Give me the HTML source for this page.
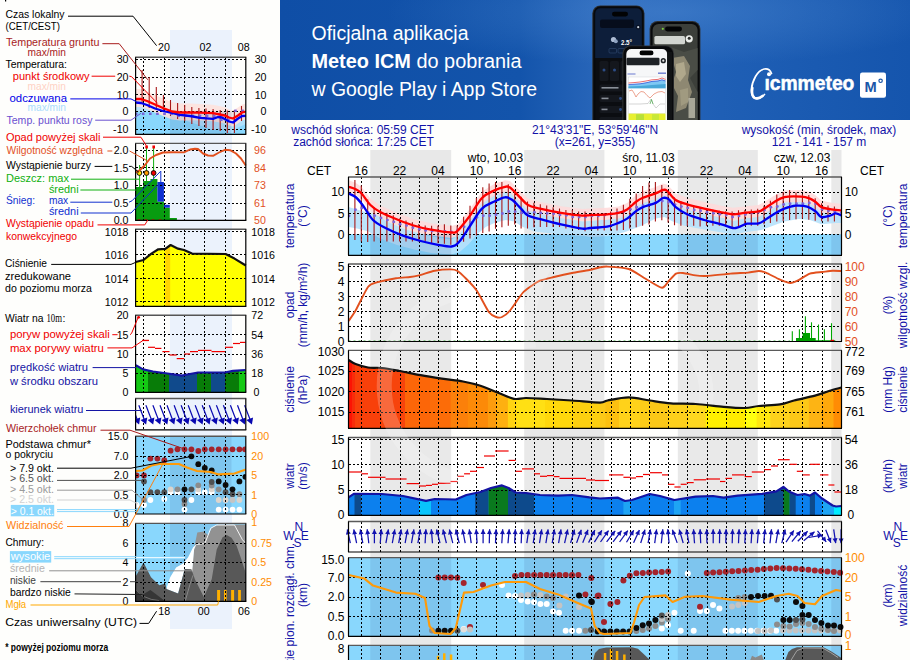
<!DOCTYPE html><html><head><meta charset="utf-8"><title>Meteogram</title><style>html,body{margin:0;padding:0;background:#fefefc;}body{width:910px;height:660px;overflow:hidden;}svg{display:block;font-family:"Liberation Sans",sans-serif;}</style></head><body>
<svg width="910" height="660" viewBox="0 0 910 660">
<rect x="0.0" y="0.0" width="910.0" height="660.0" fill="#fefefc"/>
<rect x="370.3" y="150.0" width="80.9" height="520.0" fill="#e8e8e8"/>
<rect x="524.2" y="150.0" width="80.2" height="520.0" fill="#e8e8e8"/>
<rect x="677.8" y="150.0" width="80.0" height="520.0" fill="#e8e8e8"/>
<rect x="831.3" y="150.0" width="10.2" height="520.0" fill="#e8e8e8"/>
<text x="362.7" y="133.8" font-size="12" fill="#1212a8" text-anchor="middle" >wschód słońca: 05:59 CET</text>
<text x="363.5" y="146.1" font-size="12" fill="#1212a8" text-anchor="middle" >zachód słońca: 17:25 CET</text>
<text x="595.0" y="133.8" font-size="12" fill="#1212a8" text-anchor="middle" >21°43'31"E, 53°59'46"N</text>
<text x="595.0" y="146.1" font-size="12" fill="#1212a8" text-anchor="middle" >(x=261,  y=355)</text>
<text x="819.0" y="133.8" font-size="12" fill="#1212a8" text-anchor="middle" >wysokość (min, środek, max)</text>
<text x="819.0" y="146.1" font-size="12" fill="#1212a8" text-anchor="middle" >121 - 141 - 157 m</text>
<text x="319.0" y="175.0" font-size="12" fill="#000" text-anchor="middle" >CET</text>
<text x="872.0" y="175.0" font-size="12" fill="#000" text-anchor="middle" >CET</text>
<text x="361.3" y="175.0" font-size="12" fill="#000" text-anchor="middle" >16</text>
<text x="399.6" y="175.0" font-size="12" fill="#000" text-anchor="middle" >22</text>
<text x="438.0" y="175.0" font-size="12" fill="#000" text-anchor="middle" >04</text>
<text x="476.4" y="175.0" font-size="12" fill="#000" text-anchor="middle" >10</text>
<text x="514.7" y="175.0" font-size="12" fill="#000" text-anchor="middle" >16</text>
<text x="553.1" y="175.0" font-size="12" fill="#000" text-anchor="middle" >22</text>
<text x="591.4" y="175.0" font-size="12" fill="#000" text-anchor="middle" >04</text>
<text x="629.8" y="175.0" font-size="12" fill="#000" text-anchor="middle" >10</text>
<text x="668.1" y="175.0" font-size="12" fill="#000" text-anchor="middle" >16</text>
<text x="706.5" y="175.0" font-size="12" fill="#000" text-anchor="middle" >22</text>
<text x="744.9" y="175.0" font-size="12" fill="#000" text-anchor="middle" >04</text>
<text x="783.2" y="175.0" font-size="12" fill="#000" text-anchor="middle" >10</text>
<text x="821.6" y="175.0" font-size="12" fill="#000" text-anchor="middle" >16</text>
<text x="495.5" y="162.0" font-size="12" fill="#000" text-anchor="middle" >wto, 10.03</text>
<text x="648.5" y="162.0" font-size="12" fill="#000" text-anchor="middle" >śro, 11.03</text>
<text x="802.0" y="162.0" font-size="12" fill="#000" text-anchor="middle" >czw, 12.03</text>
<rect x="348.5" y="177.0" width="493.0" height="78.3" fill="#fff"/>
<rect x="370.3" y="177.0" width="80.9" height="78.3" fill="rgba(0,0,0,0.085)"/>
<rect x="524.2" y="177.0" width="80.2" height="78.3" fill="rgba(0,0,0,0.085)"/>
<rect x="677.8" y="177.0" width="80.0" height="78.3" fill="rgba(0,0,0,0.085)"/>
<rect x="831.3" y="177.0" width="10.2" height="78.3" fill="rgba(0,0,0,0.085)"/>
<clipPath id="ct"><rect x="348.5" y="177" width="493.0" height="78.30000000000001"/></clipPath><g clip-path="url(#ct)">
<rect x="348.5" y="234.2" width="493.0" height="21.1" fill="#89d7fd"/>
<polygon points="348.6,207.0 368.6,213.0 380.0,216.0 385.5,221.0 403.0,228.6 420.7,234.0 438.0,237.8 451.6,239.5 459.0,235.0 470.0,219.0 482.0,201.6 494.5,194.5 505.0,190.3 512.0,192.8 521.0,201.6 528.0,208.6 540.0,212.0 561.0,217.4 582.4,221.6 590.0,221.0 607.1,219.6 618.6,215.9 627.1,211.6 635.7,204.4 642.9,200.1 655.7,195.9 662.9,191.0 668.6,192.1 675.7,200.1 687.1,207.3 704.3,213.0 721.4,217.3 732.9,221.0 738.6,220.1 747.1,216.7 758.6,216.4 767.1,211.6 775.7,205.9 784.3,201.6 795.7,198.7 807.1,199.6 815.7,204.4 821.4,210.1 830.0,208.7 835.7,206.4 842.0,208.7 842.0,223.1 835.7,222.9 821.4,224.3 810.0,220.0 798.6,219.1 784.3,221.4 772.9,225.7 761.4,230.0 750.0,231.4 732.9,234.3 715.7,231.4 698.6,228.6 684.3,225.7 672.9,221.4 664.3,217.1 655.7,218.6 641.4,225.7 624.3,232.3 607.1,236.3 590.0,237.1 585.7,236.3 568.6,235.1 551.4,233.4 534.3,231.4 522.9,227.1 514.3,221.4 505.7,220.0 494.3,222.9 485.7,227.1 477.1,234.3 468.6,244.3 460.0,251.7 451.4,254.6 431.4,252.9 414.3,249.4 397.1,244.9 380.0,238.6 368.6,231.4 357.1,228.6 348.6,227.1" fill="#b6e1fb" fill-opacity="0.9"/>
<polygon points="348.6,180.3 355.6,182.7 361.6,187.0 370.4,198.5 380.2,205.5 396.0,212.5 413.6,219.0 431.0,223.2 451.6,226.0 457.6,224.2 470.0,209.1 482.0,191.5 494.5,183.8 505.0,180.3 510.0,181.0 519.0,189.8 528.0,198.5 540.0,202.1 561.0,206.3 582.4,209.1 590.0,208.6 607.1,207.8 618.6,206.4 627.1,202.9 635.7,195.5 642.9,191.2 655.7,186.9 662.9,183.5 667.1,184.4 675.7,193.5 687.1,197.8 704.3,202.1 721.4,205.8 732.9,207.8 744.3,206.4 758.6,204.9 764.3,202.1 772.9,196.4 784.3,190.6 801.4,190.1 810.0,192.1 815.7,195.5 821.4,200.6 830.0,202.6 842.0,204.1 842.0,216.1 830.0,214.6 821.4,212.6 815.7,207.5 810.0,204.1 801.4,202.1 784.3,202.6 772.9,208.4 764.3,214.1 758.6,216.9 744.3,218.4 732.9,219.8 721.4,217.8 704.3,214.1 687.1,209.8 675.7,205.5 667.1,196.4 662.9,195.5 655.7,198.9 642.9,203.2 635.7,207.5 627.1,214.9 618.6,218.4 607.1,219.8 590.0,220.6 582.4,221.1 561.0,218.3 540.0,214.1 528.0,210.5 519.0,201.8 510.0,193.0 505.0,192.3 494.5,195.8 482.0,203.5 470.0,221.1 457.6,236.2 451.6,238.0 431.0,235.2 413.6,231.0 396.0,224.5 380.2,217.5 370.4,210.5 361.6,199.0 355.6,194.7 348.6,192.3" fill="#ffd9d9" fill-opacity="0.85"/>
<rect x="370.3" y="234.2" width="80.9" height="21.1" fill="rgba(20,20,90,0.09)"/>
<rect x="524.2" y="234.2" width="80.2" height="21.1" fill="rgba(20,20,90,0.09)"/>
<rect x="677.8" y="234.2" width="80.0" height="21.1" fill="rgba(20,20,90,0.09)"/>
<rect x="831.3" y="234.2" width="10.2" height="21.1" fill="rgba(20,20,90,0.09)"/>
</g>
<line x1="361.5" y1="177.0" x2="361.5" y2="255.3" stroke="#000" stroke-width="1" stroke-dasharray="2 2" shape-rendering="crispEdges"/>
<line x1="380.5" y1="177.0" x2="380.5" y2="255.3" stroke="#000" stroke-width="1" stroke-dasharray="2 2" shape-rendering="crispEdges"/>
<line x1="400.5" y1="177.0" x2="400.5" y2="255.3" stroke="#000" stroke-width="1" stroke-dasharray="2 2" shape-rendering="crispEdges"/>
<line x1="419.5" y1="177.0" x2="419.5" y2="255.3" stroke="#000" stroke-width="1" stroke-dasharray="2 2" shape-rendering="crispEdges"/>
<line x1="438.5" y1="177.0" x2="438.5" y2="255.3" stroke="#000" stroke-width="1" stroke-dasharray="2 2" shape-rendering="crispEdges"/>
<line x1="457.5" y1="177.0" x2="457.5" y2="255.3" stroke="#000" stroke-width="1" stroke-dasharray="2 2" shape-rendering="crispEdges"/>
<line x1="476.5" y1="177.0" x2="476.5" y2="255.3" stroke="#000" stroke-width="1" stroke-dasharray="2 2" shape-rendering="crispEdges"/>
<line x1="496.5" y1="177.0" x2="496.5" y2="255.3" stroke="#000" stroke-width="1" stroke-dasharray="2 2" shape-rendering="crispEdges"/>
<line x1="515.5" y1="177.0" x2="515.5" y2="255.3" stroke="#000" stroke-width="1" stroke-dasharray="2 2" shape-rendering="crispEdges"/>
<line x1="534.5" y1="177.0" x2="534.5" y2="255.3" stroke="#000" stroke-width="1" stroke-dasharray="2 2" shape-rendering="crispEdges"/>
<line x1="553.5" y1="177.0" x2="553.5" y2="255.3" stroke="#000" stroke-width="1" stroke-dasharray="2 2" shape-rendering="crispEdges"/>
<line x1="572.5" y1="177.0" x2="572.5" y2="255.3" stroke="#000" stroke-width="1" stroke-dasharray="2 2" shape-rendering="crispEdges"/>
<line x1="591.5" y1="177.0" x2="591.5" y2="255.3" stroke="#000" stroke-width="1" stroke-dasharray="2 2" shape-rendering="crispEdges"/>
<line x1="611.5" y1="177.0" x2="611.5" y2="255.3" stroke="#000" stroke-width="1" stroke-dasharray="2 2" shape-rendering="crispEdges"/>
<line x1="630.5" y1="177.0" x2="630.5" y2="255.3" stroke="#000" stroke-width="1" stroke-dasharray="2 2" shape-rendering="crispEdges"/>
<line x1="649.5" y1="177.0" x2="649.5" y2="255.3" stroke="#000" stroke-width="1" stroke-dasharray="2 2" shape-rendering="crispEdges"/>
<line x1="668.5" y1="177.0" x2="668.5" y2="255.3" stroke="#000" stroke-width="1" stroke-dasharray="2 2" shape-rendering="crispEdges"/>
<line x1="687.5" y1="177.0" x2="687.5" y2="255.3" stroke="#000" stroke-width="1" stroke-dasharray="2 2" shape-rendering="crispEdges"/>
<line x1="707.5" y1="177.0" x2="707.5" y2="255.3" stroke="#000" stroke-width="1" stroke-dasharray="2 2" shape-rendering="crispEdges"/>
<line x1="726.5" y1="177.0" x2="726.5" y2="255.3" stroke="#000" stroke-width="1" stroke-dasharray="2 2" shape-rendering="crispEdges"/>
<line x1="745.5" y1="177.0" x2="745.5" y2="255.3" stroke="#000" stroke-width="1" stroke-dasharray="2 2" shape-rendering="crispEdges"/>
<line x1="764.5" y1="177.0" x2="764.5" y2="255.3" stroke="#000" stroke-width="1" stroke-dasharray="2 2" shape-rendering="crispEdges"/>
<line x1="783.5" y1="177.0" x2="783.5" y2="255.3" stroke="#000" stroke-width="1" stroke-dasharray="2 2" shape-rendering="crispEdges"/>
<line x1="802.5" y1="177.0" x2="802.5" y2="255.3" stroke="#000" stroke-width="1" stroke-dasharray="2 2" shape-rendering="crispEdges"/>
<line x1="822.5" y1="177.0" x2="822.5" y2="255.3" stroke="#000" stroke-width="1" stroke-dasharray="2 2" shape-rendering="crispEdges"/>
<line x1="348.5" y1="192.5" x2="841.5" y2="192.5" stroke="#000" stroke-width="1" stroke-dasharray="2 2" shape-rendering="crispEdges"/>
<line x1="348.5" y1="213.5" x2="841.5" y2="213.5" stroke="#000" stroke-width="1" stroke-dasharray="2 2" shape-rendering="crispEdges"/>
<line x1="348.5" y1="234.5" x2="841.5" y2="234.5" stroke="#000" stroke-width="1" stroke-dasharray="2 2" shape-rendering="crispEdges"/>
<g clip-path="url(#ct)">
<line x1="354.9" y1="180.0" x2="354.9" y2="240.0" stroke="#a81818" stroke-width="1.1"/>
<line x1="361.3" y1="185.6" x2="361.3" y2="241.4" stroke="#a81818" stroke-width="1.1"/>
<line x1="367.7" y1="199.5" x2="367.7" y2="241.9" stroke="#a81818" stroke-width="1.1"/>
<line x1="374.1" y1="206.9" x2="374.1" y2="241.4" stroke="#a81818" stroke-width="1.1"/>
<line x1="380.5" y1="210.2" x2="380.5" y2="240.9" stroke="#a81818" stroke-width="1.1"/>
<line x1="386.9" y1="212.7" x2="386.9" y2="241.4" stroke="#a81818" stroke-width="1.1"/>
<line x1="393.3" y1="215.3" x2="393.3" y2="241.4" stroke="#a81818" stroke-width="1.1"/>
<line x1="399.6" y1="218.4" x2="399.6" y2="241.4" stroke="#a81818" stroke-width="1.1"/>
<line x1="406.0" y1="220.5" x2="406.0" y2="241.4" stroke="#a81818" stroke-width="1.1"/>
<line x1="412.4" y1="222.2" x2="412.4" y2="241.4" stroke="#a81818" stroke-width="1.1"/>
<line x1="418.8" y1="224.0" x2="418.8" y2="241.4" stroke="#a81818" stroke-width="1.1"/>
<line x1="425.2" y1="225.6" x2="425.2" y2="241.4" stroke="#a81818" stroke-width="1.1"/>
<line x1="431.6" y1="225.7" x2="431.6" y2="242.9" stroke="#a81818" stroke-width="1.1"/>
<line x1="438.0" y1="225.7" x2="438.0" y2="242.9" stroke="#a81818" stroke-width="1.1"/>
<line x1="444.4" y1="224.3" x2="444.4" y2="243.7" stroke="#a81818" stroke-width="1.1"/>
<line x1="450.8" y1="225.6" x2="450.8" y2="244.8" stroke="#a81818" stroke-width="1.1"/>
<line x1="457.2" y1="225.7" x2="457.2" y2="243.7" stroke="#a81818" stroke-width="1.1"/>
<line x1="463.6" y1="216.7" x2="463.6" y2="241.7" stroke="#a81818" stroke-width="1.1"/>
<line x1="470.0" y1="205.8" x2="470.0" y2="238.6" stroke="#a81818" stroke-width="1.1"/>
<line x1="476.4" y1="198.1" x2="476.4" y2="235.5" stroke="#a81818" stroke-width="1.1"/>
<line x1="482.8" y1="187.3" x2="482.8" y2="232.9" stroke="#a81818" stroke-width="1.1"/>
<line x1="489.1" y1="183.4" x2="489.1" y2="231.6" stroke="#a81818" stroke-width="1.1"/>
<line x1="495.5" y1="182.0" x2="495.5" y2="228.7" stroke="#a81818" stroke-width="1.1"/>
<line x1="501.9" y1="182.0" x2="501.9" y2="227.3" stroke="#a81818" stroke-width="1.1"/>
<line x1="508.3" y1="184.2" x2="508.3" y2="225.8" stroke="#a81818" stroke-width="1.1"/>
<line x1="514.7" y1="190.4" x2="514.7" y2="224.5" stroke="#a81818" stroke-width="1.1"/>
<line x1="521.1" y1="196.8" x2="521.1" y2="228.4" stroke="#a81818" stroke-width="1.1"/>
<line x1="527.5" y1="201.5" x2="527.5" y2="228.5" stroke="#a81818" stroke-width="1.1"/>
<line x1="533.9" y1="202.8" x2="533.9" y2="227.2" stroke="#a81818" stroke-width="1.1"/>
<line x1="540.3" y1="204.3" x2="540.3" y2="227.1" stroke="#a81818" stroke-width="1.1"/>
<line x1="546.7" y1="205.6" x2="546.7" y2="227.1" stroke="#a81818" stroke-width="1.1"/>
<line x1="553.1" y1="207.2" x2="553.1" y2="227.1" stroke="#a81818" stroke-width="1.1"/>
<line x1="559.5" y1="208.5" x2="559.5" y2="227.1" stroke="#a81818" stroke-width="1.1"/>
<line x1="565.9" y1="210.0" x2="565.9" y2="228.6" stroke="#a81818" stroke-width="1.1"/>
<line x1="572.3" y1="210.0" x2="572.3" y2="228.6" stroke="#a81818" stroke-width="1.1"/>
<line x1="578.6" y1="211.4" x2="578.6" y2="230.0" stroke="#a81818" stroke-width="1.1"/>
<line x1="585.0" y1="211.4" x2="585.0" y2="231.3" stroke="#a81818" stroke-width="1.1"/>
<line x1="591.4" y1="212.9" x2="591.4" y2="230.0" stroke="#a81818" stroke-width="1.1"/>
<line x1="597.8" y1="212.9" x2="597.8" y2="230.5" stroke="#a81818" stroke-width="1.1"/>
<line x1="604.2" y1="212.9" x2="604.2" y2="230.6" stroke="#a81818" stroke-width="1.1"/>
<line x1="610.6" y1="211.6" x2="610.6" y2="230.6" stroke="#a81818" stroke-width="1.1"/>
<line x1="617.0" y1="208.6" x2="617.0" y2="230.6" stroke="#a81818" stroke-width="1.1"/>
<line x1="623.4" y1="204.8" x2="623.4" y2="230.1" stroke="#a81818" stroke-width="1.1"/>
<line x1="629.8" y1="198.8" x2="629.8" y2="228.6" stroke="#a81818" stroke-width="1.1"/>
<line x1="636.2" y1="193.6" x2="636.2" y2="227.3" stroke="#a81818" stroke-width="1.1"/>
<line x1="642.6" y1="186.1" x2="642.6" y2="225.8" stroke="#a81818" stroke-width="1.1"/>
<line x1="649.0" y1="182.5" x2="649.0" y2="224.5" stroke="#a81818" stroke-width="1.1"/>
<line x1="655.4" y1="182.0" x2="655.4" y2="221.6" stroke="#a81818" stroke-width="1.1"/>
<line x1="661.8" y1="185.1" x2="661.8" y2="220.2" stroke="#a81818" stroke-width="1.1"/>
<line x1="668.1" y1="192.3" x2="668.1" y2="222.6" stroke="#a81818" stroke-width="1.1"/>
<line x1="674.5" y1="197.6" x2="674.5" y2="225.2" stroke="#a81818" stroke-width="1.1"/>
<line x1="680.9" y1="201.2" x2="680.9" y2="225.7" stroke="#a81818" stroke-width="1.1"/>
<line x1="687.3" y1="203.3" x2="687.3" y2="225.7" stroke="#a81818" stroke-width="1.1"/>
<line x1="693.7" y1="205.5" x2="693.7" y2="225.7" stroke="#a81818" stroke-width="1.1"/>
<line x1="700.1" y1="206.9" x2="700.1" y2="226.4" stroke="#a81818" stroke-width="1.1"/>
<line x1="706.5" y1="208.4" x2="706.5" y2="225.8" stroke="#a81818" stroke-width="1.1"/>
<line x1="712.9" y1="209.7" x2="712.9" y2="225.7" stroke="#a81818" stroke-width="1.1"/>
<line x1="719.3" y1="210.8" x2="719.3" y2="225.7" stroke="#a81818" stroke-width="1.1"/>
<line x1="725.7" y1="211.3" x2="725.7" y2="226.4" stroke="#a81818" stroke-width="1.1"/>
<line x1="732.1" y1="211.4" x2="732.1" y2="227.1" stroke="#a81818" stroke-width="1.1"/>
<line x1="738.5" y1="210.3" x2="738.5" y2="226.0" stroke="#a81818" stroke-width="1.1"/>
<line x1="744.9" y1="210.0" x2="744.9" y2="225.7" stroke="#a81818" stroke-width="1.1"/>
<line x1="751.3" y1="209.6" x2="751.3" y2="225.7" stroke="#a81818" stroke-width="1.1"/>
<line x1="757.7" y1="208.7" x2="757.7" y2="225.7" stroke="#a81818" stroke-width="1.1"/>
<line x1="764.0" y1="205.8" x2="764.0" y2="224.3" stroke="#a81818" stroke-width="1.1"/>
<line x1="770.4" y1="200.8" x2="770.4" y2="223.1" stroke="#a81818" stroke-width="1.1"/>
<line x1="776.8" y1="194.6" x2="776.8" y2="221.5" stroke="#a81818" stroke-width="1.1"/>
<line x1="783.2" y1="191.9" x2="783.2" y2="220.9" stroke="#a81818" stroke-width="1.1"/>
<line x1="789.6" y1="190.1" x2="789.6" y2="220.1" stroke="#a81818" stroke-width="1.1"/>
<line x1="796.0" y1="192.4" x2="796.0" y2="219.3" stroke="#a81818" stroke-width="1.1"/>
<line x1="802.4" y1="194.2" x2="802.4" y2="218.6" stroke="#a81818" stroke-width="1.1"/>
<line x1="808.8" y1="195.0" x2="808.8" y2="219.8" stroke="#a81818" stroke-width="1.1"/>
<line x1="815.2" y1="198.3" x2="815.2" y2="220.8" stroke="#a81818" stroke-width="1.1"/>
<line x1="821.6" y1="203.3" x2="821.6" y2="221.3" stroke="#a81818" stroke-width="1.1"/>
<line x1="828.0" y1="205.6" x2="828.0" y2="221.4" stroke="#a81818" stroke-width="1.1"/>
<line x1="834.4" y1="206.4" x2="834.4" y2="221.4" stroke="#a81818" stroke-width="1.1"/>
<circle cx="349.0" cy="215.9" r="1.45" fill="#7c64da"/>
<circle cx="355.4" cy="209.7" r="1.45" fill="#7c64da"/>
<circle cx="361.8" cy="208.0" r="1.45" fill="#7c64da"/>
<circle cx="368.2" cy="212.6" r="1.45" fill="#7c64da"/>
<circle cx="374.6" cy="215.8" r="1.45" fill="#7c64da"/>
<circle cx="381.0" cy="217.9" r="1.45" fill="#7c64da"/>
<circle cx="387.4" cy="220.1" r="1.45" fill="#7c64da"/>
<circle cx="393.8" cy="221.9" r="1.45" fill="#7c64da"/>
<circle cx="400.1" cy="224.3" r="1.45" fill="#7c64da"/>
<circle cx="406.5" cy="225.6" r="1.45" fill="#7c64da"/>
<circle cx="412.9" cy="227.7" r="1.45" fill="#7c64da"/>
<circle cx="419.3" cy="229.3" r="1.45" fill="#7c64da"/>
<circle cx="425.7" cy="230.6" r="1.45" fill="#7c64da"/>
<circle cx="432.1" cy="230.9" r="1.45" fill="#7c64da"/>
<circle cx="438.5" cy="231.1" r="1.45" fill="#7c64da"/>
<circle cx="444.9" cy="231.5" r="1.45" fill="#7c64da"/>
<circle cx="451.3" cy="232.0" r="1.45" fill="#7c64da"/>
<circle cx="457.7" cy="230.3" r="1.45" fill="#7c64da"/>
<circle cx="464.1" cy="226.7" r="1.45" fill="#7c64da"/>
<circle cx="470.5" cy="222.5" r="1.45" fill="#7c64da"/>
<circle cx="476.9" cy="217.4" r="1.45" fill="#7c64da"/>
<circle cx="483.3" cy="215.7" r="1.45" fill="#7c64da"/>
<circle cx="489.6" cy="215.7" r="1.45" fill="#7c64da"/>
<circle cx="496.0" cy="214.8" r="1.45" fill="#7c64da"/>
<circle cx="502.4" cy="213.5" r="1.45" fill="#7c64da"/>
<circle cx="508.8" cy="211.4" r="1.45" fill="#7c64da"/>
<circle cx="515.2" cy="211.6" r="1.45" fill="#7c64da"/>
<circle cx="521.6" cy="212.9" r="1.45" fill="#7c64da"/>
<circle cx="528.0" cy="212.8" r="1.45" fill="#7c64da"/>
<circle cx="534.4" cy="212.3" r="1.45" fill="#7c64da"/>
<circle cx="540.8" cy="212.9" r="1.45" fill="#7c64da"/>
<circle cx="547.2" cy="213.4" r="1.45" fill="#7c64da"/>
<circle cx="553.6" cy="213.8" r="1.45" fill="#7c64da"/>
<circle cx="560.0" cy="214.9" r="1.45" fill="#7c64da"/>
<circle cx="566.4" cy="215.3" r="1.45" fill="#7c64da"/>
<circle cx="572.8" cy="217.1" r="1.45" fill="#7c64da"/>
<circle cx="579.1" cy="217.1" r="1.45" fill="#7c64da"/>
<circle cx="585.5" cy="217.1" r="1.45" fill="#7c64da"/>
<circle cx="591.9" cy="215.7" r="1.45" fill="#7c64da"/>
<circle cx="598.3" cy="215.7" r="1.45" fill="#7c64da"/>
<circle cx="604.7" cy="215.1" r="1.45" fill="#7c64da"/>
<circle cx="611.1" cy="214.3" r="1.45" fill="#7c64da"/>
<circle cx="617.5" cy="212.8" r="1.45" fill="#7c64da"/>
<circle cx="623.9" cy="211.5" r="1.45" fill="#7c64da"/>
<circle cx="630.3" cy="209.3" r="1.45" fill="#7c64da"/>
<circle cx="636.7" cy="207.3" r="1.45" fill="#7c64da"/>
<circle cx="643.1" cy="205.7" r="1.45" fill="#7c64da"/>
<circle cx="649.5" cy="204.4" r="1.45" fill="#7c64da"/>
<circle cx="655.9" cy="202.8" r="1.45" fill="#7c64da"/>
<circle cx="662.3" cy="201.0" r="1.45" fill="#7c64da"/>
<circle cx="668.6" cy="202.0" r="1.45" fill="#7c64da"/>
<circle cx="675.0" cy="204.6" r="1.45" fill="#7c64da"/>
<circle cx="681.4" cy="206.6" r="1.45" fill="#7c64da"/>
<circle cx="687.8" cy="207.9" r="1.45" fill="#7c64da"/>
<circle cx="694.2" cy="210.0" r="1.45" fill="#7c64da"/>
<circle cx="700.6" cy="210.8" r="1.45" fill="#7c64da"/>
<circle cx="707.0" cy="212.3" r="1.45" fill="#7c64da"/>
<circle cx="713.4" cy="213.3" r="1.45" fill="#7c64da"/>
<circle cx="719.8" cy="214.3" r="1.45" fill="#7c64da"/>
<circle cx="726.2" cy="215.0" r="1.45" fill="#7c64da"/>
<circle cx="732.6" cy="217.0" r="1.45" fill="#7c64da"/>
<circle cx="739.0" cy="215.9" r="1.45" fill="#7c64da"/>
<circle cx="745.4" cy="214.4" r="1.45" fill="#7c64da"/>
<circle cx="751.8" cy="213.1" r="1.45" fill="#7c64da"/>
<circle cx="758.2" cy="212.3" r="1.45" fill="#7c64da"/>
<circle cx="764.5" cy="209.9" r="1.45" fill="#7c64da"/>
<circle cx="770.9" cy="207.3" r="1.45" fill="#7c64da"/>
<circle cx="777.3" cy="206.5" r="1.45" fill="#7c64da"/>
<circle cx="783.7" cy="204.5" r="1.45" fill="#7c64da"/>
<circle cx="790.1" cy="203.7" r="1.45" fill="#7c64da"/>
<circle cx="796.5" cy="203.7" r="1.45" fill="#7c64da"/>
<circle cx="802.9" cy="203.7" r="1.45" fill="#7c64da"/>
<circle cx="809.3" cy="202.9" r="1.45" fill="#7c64da"/>
<circle cx="815.7" cy="203.7" r="1.45" fill="#7c64da"/>
<circle cx="822.1" cy="209.3" r="1.45" fill="#7c64da"/>
<circle cx="828.5" cy="210.8" r="1.45" fill="#7c64da"/>
<circle cx="834.9" cy="211.4" r="1.45" fill="#7c64da"/>
<circle cx="841.3" cy="212.8" r="1.45" fill="#7c64da"/>
<path d="M348.6 193.5C349.8 194.1 353.3 195.1 355.6 197.0C357.9 198.9 359.7 201.2 362.6 205.0C365.5 208.8 369.2 216.2 373.0 220.0C376.8 223.8 380.5 225.4 385.5 228.0C390.5 230.6 397.1 233.4 403.0 235.6C408.9 237.8 414.9 239.5 420.7 241.0C426.5 242.5 432.9 243.9 438.0 244.8C443.1 245.7 448.1 247.0 451.6 246.5C455.1 246.0 455.9 245.4 459.0 242.0C462.1 238.6 466.2 231.6 470.0 226.0C473.8 220.4 477.9 212.7 482.0 208.6C486.1 204.5 490.7 203.4 494.5 201.5C498.3 199.6 502.1 197.6 505.0 197.3C507.9 197.0 509.3 197.9 512.0 199.8C514.7 201.7 518.3 206.0 521.0 208.6C523.7 211.2 524.8 213.9 528.0 215.6C531.2 217.3 534.5 217.5 540.0 219.0C545.5 220.5 553.9 222.8 561.0 224.4C568.1 226.0 577.6 228.0 582.4 228.6C587.2 229.2 585.9 228.3 590.0 228.0C594.1 227.7 602.3 227.4 607.1 226.6C611.9 225.8 615.3 224.2 618.6 222.9C621.9 221.6 624.2 220.5 627.1 218.6C630.0 216.7 633.1 213.3 635.7 211.4C638.3 209.5 639.6 208.5 642.9 207.1C646.2 205.7 652.4 204.4 655.7 202.9C659.0 201.4 660.8 198.6 662.9 198.0C665.0 197.4 666.5 197.6 668.6 199.1C670.7 200.6 672.6 204.6 675.7 207.1C678.8 209.6 682.3 212.2 687.1 214.3C691.9 216.5 698.6 218.3 704.3 220.0C710.0 221.7 716.6 223.0 721.4 224.3C726.2 225.6 730.0 227.5 732.9 228.0C735.8 228.5 736.2 227.8 738.6 227.1C741.0 226.4 743.8 224.3 747.1 223.7C750.4 223.1 755.3 224.2 758.6 223.4C761.9 222.6 764.2 220.3 767.1 218.6C770.0 216.8 772.8 214.6 775.7 212.9C778.6 211.2 781.0 209.8 784.3 208.6C787.6 207.4 791.9 206.0 795.7 205.7C799.5 205.4 803.8 205.6 807.1 206.6C810.4 207.6 813.3 209.7 815.7 211.4C818.1 213.2 819.0 216.4 821.4 217.1C823.8 217.8 827.6 216.3 830.0 215.7C832.4 215.1 833.7 213.4 835.7 213.4C837.7 213.4 841.0 215.3 842.0 215.7" fill="none" stroke="#0000f0" stroke-width="2.3" stroke-linejoin="round"/>
<path d="M348.6 186.8C349.8 187.2 353.4 188.1 355.6 189.2C357.8 190.3 359.1 190.9 361.6 193.5C364.1 196.1 367.3 201.9 370.4 205.0C373.5 208.1 375.9 209.7 380.2 212.0C384.5 214.3 390.4 216.8 396.0 219.0C401.6 221.2 407.8 223.7 413.6 225.5C419.4 227.3 424.7 228.5 431.0 229.7C437.3 230.9 447.2 232.3 451.6 232.5C456.0 232.7 454.5 233.5 457.6 230.7C460.7 227.9 465.9 221.0 470.0 215.6C474.1 210.2 477.9 202.2 482.0 198.0C486.1 193.8 490.7 192.2 494.5 190.3C498.3 188.4 502.4 187.3 505.0 186.8C507.6 186.3 507.7 185.9 510.0 187.5C512.3 189.1 516.0 193.4 519.0 196.3C522.0 199.2 524.5 202.9 528.0 205.0C531.5 207.1 534.5 207.3 540.0 208.6C545.5 209.9 553.9 211.6 561.0 212.8C568.1 214.0 577.6 215.2 582.4 215.6C587.2 216.0 585.9 215.3 590.0 215.1C594.1 214.9 602.3 214.7 607.1 214.3C611.9 213.9 615.3 213.7 618.6 212.9C621.9 212.1 624.2 211.2 627.1 209.4C630.0 207.6 633.1 203.9 635.7 202.0C638.3 200.1 639.6 199.1 642.9 197.7C646.2 196.3 652.4 194.7 655.7 193.4C659.0 192.1 661.0 190.4 662.9 190.0C664.8 189.6 665.0 189.2 667.1 190.9C669.2 192.6 672.4 197.8 675.7 200.0C679.0 202.2 682.3 202.9 687.1 204.3C691.9 205.7 698.6 207.3 704.3 208.6C710.0 209.9 716.6 211.4 721.4 212.3C726.2 213.2 729.1 214.2 732.9 214.3C736.7 214.4 740.0 213.4 744.3 212.9C748.6 212.4 755.3 212.1 758.6 211.4C761.9 210.7 761.9 210.0 764.3 208.6C766.7 207.2 769.6 204.8 772.9 202.9C776.2 201.0 779.5 198.2 784.3 197.1C789.0 196.0 797.1 196.3 801.4 196.6C805.7 196.8 807.6 197.7 810.0 198.6C812.4 199.5 813.8 200.6 815.7 202.0C817.6 203.4 819.0 205.9 821.4 207.1C823.8 208.3 826.6 208.5 830.0 209.1C833.4 209.7 840.0 210.3 842.0 210.6" fill="none" stroke="#ff0000" stroke-width="2.3" stroke-linejoin="round"/>
</g>
<line x1="348.0" y1="177.0" x2="842.0" y2="177.0" stroke="#5a5a5a" stroke-width="1.3"/>
<line x1="348.5" y1="177.0" x2="348.5" y2="255.3" stroke="#000" stroke-width="1.2"/>
<line x1="841.5" y1="177.0" x2="841.5" y2="255.3" stroke="#000" stroke-width="1.2"/>
<line x1="348.0" y1="255.3" x2="842.0" y2="255.3" stroke="#000" stroke-width="1.2"/>
<text x="344.5" y="196.3" font-size="12" fill="#000" text-anchor="end" >10</text>
<text x="844.7" y="196.3" font-size="12" fill="#000" text-anchor="start" >10</text>
<text x="344.5" y="217.6" font-size="12" fill="#000" text-anchor="end" >5</text>
<text x="844.7" y="217.6" font-size="12" fill="#000" text-anchor="start" >5</text>
<text x="344.5" y="238.5" font-size="12" fill="#000" text-anchor="end" >0</text>
<text x="844.7" y="238.5" font-size="12" fill="#000" text-anchor="start" >0</text>
<text transform="translate(294.2,216.0) rotate(-90)" font-size="12" fill="#1212a8" text-anchor="middle" >temperatura</text>
<text transform="translate(306.5,216.0) rotate(-90)" font-size="12" fill="#1212a8" text-anchor="middle" >(°C)</text>
<text transform="translate(892.3,216.0) rotate(-90)" font-size="12" fill="#1212a8" text-anchor="middle" >(°C)</text>
<text transform="translate(906.6,216.0) rotate(-90)" font-size="12" fill="#1212a8" text-anchor="middle" >temperatura</text>
<rect x="348.5" y="264.0" width="493.0" height="77.5" fill="#fff"/>
<rect x="370.3" y="264.0" width="80.9" height="77.5" fill="rgba(0,0,0,0.085)"/>
<rect x="524.2" y="264.0" width="80.2" height="77.5" fill="rgba(0,0,0,0.085)"/>
<rect x="677.8" y="264.0" width="80.0" height="77.5" fill="rgba(0,0,0,0.085)"/>
<rect x="831.3" y="264.0" width="10.2" height="77.5" fill="rgba(0,0,0,0.085)"/>
<line x1="361.5" y1="264.0" x2="361.5" y2="341.5" stroke="#000" stroke-width="1" stroke-dasharray="2 2" shape-rendering="crispEdges"/>
<line x1="380.5" y1="264.0" x2="380.5" y2="341.5" stroke="#000" stroke-width="1" stroke-dasharray="2 2" shape-rendering="crispEdges"/>
<line x1="400.5" y1="264.0" x2="400.5" y2="341.5" stroke="#000" stroke-width="1" stroke-dasharray="2 2" shape-rendering="crispEdges"/>
<line x1="419.5" y1="264.0" x2="419.5" y2="341.5" stroke="#000" stroke-width="1" stroke-dasharray="2 2" shape-rendering="crispEdges"/>
<line x1="438.5" y1="264.0" x2="438.5" y2="341.5" stroke="#000" stroke-width="1" stroke-dasharray="2 2" shape-rendering="crispEdges"/>
<line x1="457.5" y1="264.0" x2="457.5" y2="341.5" stroke="#000" stroke-width="1" stroke-dasharray="2 2" shape-rendering="crispEdges"/>
<line x1="476.5" y1="264.0" x2="476.5" y2="341.5" stroke="#000" stroke-width="1" stroke-dasharray="2 2" shape-rendering="crispEdges"/>
<line x1="496.5" y1="264.0" x2="496.5" y2="341.5" stroke="#000" stroke-width="1" stroke-dasharray="2 2" shape-rendering="crispEdges"/>
<line x1="515.5" y1="264.0" x2="515.5" y2="341.5" stroke="#000" stroke-width="1" stroke-dasharray="2 2" shape-rendering="crispEdges"/>
<line x1="534.5" y1="264.0" x2="534.5" y2="341.5" stroke="#000" stroke-width="1" stroke-dasharray="2 2" shape-rendering="crispEdges"/>
<line x1="553.5" y1="264.0" x2="553.5" y2="341.5" stroke="#000" stroke-width="1" stroke-dasharray="2 2" shape-rendering="crispEdges"/>
<line x1="572.5" y1="264.0" x2="572.5" y2="341.5" stroke="#000" stroke-width="1" stroke-dasharray="2 2" shape-rendering="crispEdges"/>
<line x1="591.5" y1="264.0" x2="591.5" y2="341.5" stroke="#000" stroke-width="1" stroke-dasharray="2 2" shape-rendering="crispEdges"/>
<line x1="611.5" y1="264.0" x2="611.5" y2="341.5" stroke="#000" stroke-width="1" stroke-dasharray="2 2" shape-rendering="crispEdges"/>
<line x1="630.5" y1="264.0" x2="630.5" y2="341.5" stroke="#000" stroke-width="1" stroke-dasharray="2 2" shape-rendering="crispEdges"/>
<line x1="649.5" y1="264.0" x2="649.5" y2="341.5" stroke="#000" stroke-width="1" stroke-dasharray="2 2" shape-rendering="crispEdges"/>
<line x1="668.5" y1="264.0" x2="668.5" y2="341.5" stroke="#000" stroke-width="1" stroke-dasharray="2 2" shape-rendering="crispEdges"/>
<line x1="687.5" y1="264.0" x2="687.5" y2="341.5" stroke="#000" stroke-width="1" stroke-dasharray="2 2" shape-rendering="crispEdges"/>
<line x1="707.5" y1="264.0" x2="707.5" y2="341.5" stroke="#000" stroke-width="1" stroke-dasharray="2 2" shape-rendering="crispEdges"/>
<line x1="726.5" y1="264.0" x2="726.5" y2="341.5" stroke="#000" stroke-width="1" stroke-dasharray="2 2" shape-rendering="crispEdges"/>
<line x1="745.5" y1="264.0" x2="745.5" y2="341.5" stroke="#000" stroke-width="1" stroke-dasharray="2 2" shape-rendering="crispEdges"/>
<line x1="764.5" y1="264.0" x2="764.5" y2="341.5" stroke="#000" stroke-width="1" stroke-dasharray="2 2" shape-rendering="crispEdges"/>
<line x1="783.5" y1="264.0" x2="783.5" y2="341.5" stroke="#000" stroke-width="1" stroke-dasharray="2 2" shape-rendering="crispEdges"/>
<line x1="802.5" y1="264.0" x2="802.5" y2="341.5" stroke="#000" stroke-width="1" stroke-dasharray="2 2" shape-rendering="crispEdges"/>
<line x1="822.5" y1="264.0" x2="822.5" y2="341.5" stroke="#000" stroke-width="1" stroke-dasharray="2 2" shape-rendering="crispEdges"/>
<line x1="348.5" y1="266.5" x2="841.5" y2="266.5" stroke="#000" stroke-width="1" stroke-dasharray="2 2" shape-rendering="crispEdges"/>
<line x1="348.5" y1="281.5" x2="841.5" y2="281.5" stroke="#000" stroke-width="1" stroke-dasharray="2 2" shape-rendering="crispEdges"/>
<line x1="348.5" y1="296.5" x2="841.5" y2="296.5" stroke="#000" stroke-width="1" stroke-dasharray="2 2" shape-rendering="crispEdges"/>
<line x1="348.5" y1="311.5" x2="841.5" y2="311.5" stroke="#000" stroke-width="1" stroke-dasharray="2 2" shape-rendering="crispEdges"/>
<line x1="348.5" y1="326.5" x2="841.5" y2="326.5" stroke="#000" stroke-width="1" stroke-dasharray="2 2" shape-rendering="crispEdges"/>
<line x1="792.3" y1="331.2" x2="792.3" y2="341.0" stroke="#00a800" stroke-width="1.1"/>
<line x1="799.4" y1="329.3" x2="799.4" y2="341.0" stroke="#00a800" stroke-width="1.1"/>
<line x1="805.4" y1="316.3" x2="805.4" y2="341.0" stroke="#00a800" stroke-width="1.1"/>
<line x1="811.5" y1="322.3" x2="811.5" y2="341.0" stroke="#00a800" stroke-width="1.1"/>
<line x1="818.5" y1="324.5" x2="818.5" y2="341.0" stroke="#00a800" stroke-width="1.1"/>
<line x1="824.4" y1="329.3" x2="824.4" y2="341.0" stroke="#00a800" stroke-width="1.1"/>
<line x1="831.5" y1="323.2" x2="831.5" y2="341.0" stroke="#00a800" stroke-width="1.1"/>
<polygon points="796.0,341.3 796.0,338.1 802.6,338.1 802.6,333.1 810.0,333.1 810.0,338.1 815.7,338.1 815.7,340.2 835.3,340.2 835.3,341.3" fill="#00a000"/>
<line x1="348.5" y1="341.0" x2="790.0" y2="341.0" stroke="#00a000" stroke-width="0.8" stroke-dasharray="2 3"/>
<rect x="830.5" y="339.8" width="3.5" height="1.8" fill="#e00000"/>
<path d="M348.6 321.0C349.4 319.8 353.3 314.5 355.6 310.5C357.9 306.5 365.5 290.3 368.0 287.0C370.5 283.7 373.4 283.4 376.7 282.4C380.0 281.4 392.1 278.8 396.0 278.2C399.9 277.6 407.3 277.3 410.0 277.0C412.7 276.7 416.1 276.1 419.0 275.4C421.9 274.7 431.0 271.5 434.7 270.8C438.4 270.1 447.8 269.4 450.5 269.4C453.2 269.4 455.7 269.9 457.6 271.0C459.5 272.1 464.1 276.7 466.4 279.0C468.7 281.3 474.4 287.1 477.0 291.0C479.6 294.9 486.8 309.3 489.0 312.3C491.2 315.3 494.5 316.5 496.0 317.0C497.5 317.5 500.4 317.8 502.0 317.0C503.6 316.2 507.6 313.3 510.0 310.5C512.4 307.7 520.1 295.9 522.6 293.0C525.1 290.1 529.4 287.4 531.4 286.0C533.4 284.6 537.4 281.8 540.0 280.7C542.6 279.6 550.3 277.9 554.0 277.0C557.7 276.1 567.9 273.8 572.0 273.0C576.1 272.2 586.2 270.7 589.5 270.0C592.8 269.3 597.9 267.7 600.0 267.3C602.1 266.9 604.3 266.4 607.6 266.6C610.9 266.8 624.2 267.6 628.7 269.0C633.2 270.4 642.1 276.8 646.0 279.0C649.9 281.2 659.3 287.5 662.0 287.7C664.7 287.9 667.4 282.3 669.0 280.7C670.6 279.1 674.4 274.5 676.0 273.6C677.6 272.7 680.7 272.8 683.0 273.0C685.3 273.2 692.8 275.0 695.5 275.4C698.2 275.8 701.9 276.2 706.0 276.0C710.1 275.8 725.7 274.0 730.6 273.6C735.5 273.2 744.7 272.9 748.0 272.6C751.3 272.3 756.7 271.0 758.8 271.0C760.9 271.0 763.3 271.6 765.8 272.6C768.3 273.6 777.1 278.4 780.0 279.6C782.9 280.8 788.4 282.9 790.4 283.0C792.4 283.1 795.2 281.8 797.5 280.7C799.8 279.6 806.9 274.6 809.8 273.6C812.7 272.6 819.3 272.3 822.0 272.0C824.7 271.7 830.3 270.9 832.6 270.8C834.9 270.7 840.4 271.0 841.4 271.0" fill="none" stroke="#e2501e" stroke-width="1.9" stroke-linejoin="round"/>
<line x1="348.0" y1="264.0" x2="842.0" y2="264.0" stroke="#5a5a5a" stroke-width="1.3"/>
<line x1="348.5" y1="264.0" x2="348.5" y2="341.5" stroke="#000" stroke-width="1.2"/>
<line x1="841.5" y1="264.0" x2="841.5" y2="341.5" stroke="#000" stroke-width="1.2"/>
<line x1="348.0" y1="341.5" x2="842.0" y2="341.5" stroke="#000" stroke-width="1.2"/>
<text x="344.5" y="345.8" font-size="12" fill="#000" text-anchor="end" >0</text>
<text x="344.5" y="330.8" font-size="12" fill="#000" text-anchor="end" >1</text>
<text x="344.5" y="315.8" font-size="12" fill="#000" text-anchor="end" >2</text>
<text x="344.5" y="300.8" font-size="12" fill="#000" text-anchor="end" >3</text>
<text x="344.5" y="285.8" font-size="12" fill="#000" text-anchor="end" >4</text>
<text x="344.5" y="270.8" font-size="12" fill="#000" text-anchor="end" >5</text>
<text x="844.7" y="345.8" font-size="12" fill="#e2501e" text-anchor="start" >50</text>
<text x="844.7" y="330.8" font-size="12" fill="#e2501e" text-anchor="start" >60</text>
<text x="844.7" y="315.8" font-size="12" fill="#e2501e" text-anchor="start" >70</text>
<text x="844.7" y="300.8" font-size="12" fill="#e2501e" text-anchor="start" >80</text>
<text x="844.7" y="285.8" font-size="12" fill="#e2501e" text-anchor="start" >90</text>
<text x="844.7" y="270.8" font-size="12" fill="#e2501e" text-anchor="start" >100</text>
<text transform="translate(294.2,305.0) rotate(-90)" font-size="12" fill="#1212a8" text-anchor="middle" >opad</text>
<text transform="translate(306.5,305.0) rotate(-90)" font-size="12" fill="#1212a8" text-anchor="middle" >(mm/h, kg/m²/h)</text>
<text transform="translate(892.3,305.0) rotate(-90)" font-size="12" fill="#1212a8" text-anchor="middle" >(%)</text>
<text transform="translate(906.6,305.0) rotate(-90)" font-size="12" fill="#1212a8" text-anchor="middle" >wilgotność wzgl.</text>
<rect x="348.5" y="350.3" width="493.0" height="78.0" fill="#fff"/>
<rect x="370.3" y="350.3" width="80.9" height="78.0" fill="rgba(0,0,0,0.085)"/>
<rect x="524.2" y="350.3" width="80.2" height="78.0" fill="rgba(0,0,0,0.085)"/>
<rect x="677.8" y="350.3" width="80.0" height="78.0" fill="rgba(0,0,0,0.085)"/>
<rect x="831.3" y="350.3" width="10.2" height="78.0" fill="rgba(0,0,0,0.085)"/>
<clipPath id="cp"><polygon points="348.6,360.0 355.6,364.0 368.0,367.5 382.0,368.0 399.5,371.0 420.7,375.2 441.8,378.7 463.0,381.5 480.4,385.8 498.0,392.8 514.0,398.8 526.0,398.0 547.0,399.0 572.0,400.5 600.0,402.6 607.6,400.5 628.7,397.4 649.8,400.5 671.0,403.3 695.5,404.0 723.6,406.8 744.7,408.0 758.8,406.0 780.0,404.4 794.0,400.5 815.0,395.6 829.0,391.0 841.4,387.5 841.5,428.3 348.5,428.3"/></clipPath><g clip-path="url(#cp)">
<rect x="348.5" y="350.3" width="4.1" height="78.0" fill="#fc1404"/>
<rect x="352.0" y="350.3" width="3.6" height="78.0" fill="#f82c0a"/>
<rect x="355.0" y="350.3" width="25.6" height="78.0" fill="#f8400a"/>
<rect x="380.0" y="350.3" width="25.6" height="78.0" fill="#f7440c"/>
<rect x="405.0" y="350.3" width="25.6" height="78.0" fill="#fc6608"/>
<rect x="430.0" y="350.3" width="21.3" height="78.0" fill="#fc6c08"/>
<rect x="450.7" y="350.3" width="17.8" height="78.0" fill="#fb800a"/>
<rect x="467.9" y="350.3" width="20.6" height="78.0" fill="#fc8a08"/>
<rect x="487.9" y="350.3" width="9.1" height="78.0" fill="#fc9c0e"/>
<rect x="496.4" y="350.3" width="12.1" height="78.0" fill="#feb010"/>
<rect x="507.9" y="350.3" width="9.1" height="78.0" fill="#ffd412"/>
<rect x="516.4" y="350.3" width="29.2" height="78.0" fill="#ffe014"/>
<rect x="545.0" y="350.3" width="29.2" height="78.0" fill="#ffd80c"/>
<rect x="573.6" y="350.3" width="27.0" height="78.0" fill="#fcd010"/>
<rect x="600.0" y="350.3" width="6.1" height="78.0" fill="#fcc818"/>
<rect x="605.5" y="350.3" width="14.1" height="78.0" fill="#fcc010"/>
<rect x="619.0" y="350.3" width="21.6" height="78.0" fill="#ffd21a"/>
<rect x="640.0" y="350.3" width="10.1" height="78.0" fill="#fccc18"/>
<rect x="649.5" y="350.3" width="19.8" height="78.0" fill="#fbc818"/>
<rect x="668.7" y="350.3" width="19.9" height="78.0" fill="#fdd01c"/>
<rect x="688.0" y="350.3" width="18.4" height="78.0" fill="#fed820"/>
<rect x="705.8" y="350.3" width="21.2" height="78.0" fill="#fff000"/>
<rect x="726.4" y="350.3" width="19.8" height="78.0" fill="#ffec00"/>
<rect x="745.6" y="350.3" width="11.6" height="78.0" fill="#ffff10"/>
<rect x="756.6" y="350.3" width="14.3" height="78.0" fill="#ffe810"/>
<rect x="770.3" y="350.3" width="19.9" height="78.0" fill="#fdd21c"/>
<rect x="789.6" y="350.3" width="19.8" height="78.0" fill="#fcc818"/>
<rect x="808.8" y="350.3" width="13.0" height="78.0" fill="#fdb414"/>
<rect x="821.2" y="350.3" width="12.9" height="78.0" fill="#fea80c"/>
<rect x="833.5" y="350.3" width="9.1" height="78.0" fill="#ff8c04"/>
<defs><linearGradient id="pv" x1="0" y1="0" x2="0" y2="1"><stop offset="0" stop-color="#000" stop-opacity="0.03"/><stop offset="1" stop-color="#fff" stop-opacity="0.06"/></linearGradient></defs>
</g>
<line x1="361.5" y1="350.3" x2="361.5" y2="428.3" stroke="#000" stroke-width="1" stroke-dasharray="2 2" shape-rendering="crispEdges"/>
<line x1="380.5" y1="350.3" x2="380.5" y2="428.3" stroke="#000" stroke-width="1" stroke-dasharray="2 2" shape-rendering="crispEdges"/>
<line x1="400.5" y1="350.3" x2="400.5" y2="428.3" stroke="#000" stroke-width="1" stroke-dasharray="2 2" shape-rendering="crispEdges"/>
<line x1="419.5" y1="350.3" x2="419.5" y2="428.3" stroke="#000" stroke-width="1" stroke-dasharray="2 2" shape-rendering="crispEdges"/>
<line x1="438.5" y1="350.3" x2="438.5" y2="428.3" stroke="#000" stroke-width="1" stroke-dasharray="2 2" shape-rendering="crispEdges"/>
<line x1="457.5" y1="350.3" x2="457.5" y2="428.3" stroke="#000" stroke-width="1" stroke-dasharray="2 2" shape-rendering="crispEdges"/>
<line x1="476.5" y1="350.3" x2="476.5" y2="428.3" stroke="#000" stroke-width="1" stroke-dasharray="2 2" shape-rendering="crispEdges"/>
<line x1="496.5" y1="350.3" x2="496.5" y2="428.3" stroke="#000" stroke-width="1" stroke-dasharray="2 2" shape-rendering="crispEdges"/>
<line x1="515.5" y1="350.3" x2="515.5" y2="428.3" stroke="#000" stroke-width="1" stroke-dasharray="2 2" shape-rendering="crispEdges"/>
<line x1="534.5" y1="350.3" x2="534.5" y2="428.3" stroke="#000" stroke-width="1" stroke-dasharray="2 2" shape-rendering="crispEdges"/>
<line x1="553.5" y1="350.3" x2="553.5" y2="428.3" stroke="#000" stroke-width="1" stroke-dasharray="2 2" shape-rendering="crispEdges"/>
<line x1="572.5" y1="350.3" x2="572.5" y2="428.3" stroke="#000" stroke-width="1" stroke-dasharray="2 2" shape-rendering="crispEdges"/>
<line x1="591.5" y1="350.3" x2="591.5" y2="428.3" stroke="#000" stroke-width="1" stroke-dasharray="2 2" shape-rendering="crispEdges"/>
<line x1="611.5" y1="350.3" x2="611.5" y2="428.3" stroke="#000" stroke-width="1" stroke-dasharray="2 2" shape-rendering="crispEdges"/>
<line x1="630.5" y1="350.3" x2="630.5" y2="428.3" stroke="#000" stroke-width="1" stroke-dasharray="2 2" shape-rendering="crispEdges"/>
<line x1="649.5" y1="350.3" x2="649.5" y2="428.3" stroke="#000" stroke-width="1" stroke-dasharray="2 2" shape-rendering="crispEdges"/>
<line x1="668.5" y1="350.3" x2="668.5" y2="428.3" stroke="#000" stroke-width="1" stroke-dasharray="2 2" shape-rendering="crispEdges"/>
<line x1="687.5" y1="350.3" x2="687.5" y2="428.3" stroke="#000" stroke-width="1" stroke-dasharray="2 2" shape-rendering="crispEdges"/>
<line x1="707.5" y1="350.3" x2="707.5" y2="428.3" stroke="#000" stroke-width="1" stroke-dasharray="2 2" shape-rendering="crispEdges"/>
<line x1="726.5" y1="350.3" x2="726.5" y2="428.3" stroke="#000" stroke-width="1" stroke-dasharray="2 2" shape-rendering="crispEdges"/>
<line x1="745.5" y1="350.3" x2="745.5" y2="428.3" stroke="#000" stroke-width="1" stroke-dasharray="2 2" shape-rendering="crispEdges"/>
<line x1="764.5" y1="350.3" x2="764.5" y2="428.3" stroke="#000" stroke-width="1" stroke-dasharray="2 2" shape-rendering="crispEdges"/>
<line x1="783.5" y1="350.3" x2="783.5" y2="428.3" stroke="#000" stroke-width="1" stroke-dasharray="2 2" shape-rendering="crispEdges"/>
<line x1="802.5" y1="350.3" x2="802.5" y2="428.3" stroke="#000" stroke-width="1" stroke-dasharray="2 2" shape-rendering="crispEdges"/>
<line x1="822.5" y1="350.3" x2="822.5" y2="428.3" stroke="#000" stroke-width="1" stroke-dasharray="2 2" shape-rendering="crispEdges"/>
<line x1="348.5" y1="371.5" x2="841.5" y2="371.5" stroke="#000" stroke-width="1" stroke-dasharray="2 2" shape-rendering="crispEdges"/>
<line x1="348.5" y1="391.5" x2="841.5" y2="391.5" stroke="#000" stroke-width="1" stroke-dasharray="2 2" shape-rendering="crispEdges"/>
<line x1="348.5" y1="412.5" x2="841.5" y2="412.5" stroke="#000" stroke-width="1" stroke-dasharray="2 2" shape-rendering="crispEdges"/>
<path d="M348.6 360.0C349.8 360.7 352.4 362.8 355.6 364.0C358.8 365.2 363.6 366.8 368.0 367.5C372.4 368.2 376.8 367.4 382.0 368.0C387.2 368.6 393.1 369.8 399.5 371.0C405.9 372.2 413.6 373.9 420.7 375.2C427.8 376.5 434.8 377.6 441.8 378.7C448.9 379.8 456.6 380.3 463.0 381.5C469.4 382.7 474.6 383.9 480.4 385.8C486.2 387.7 492.4 390.6 498.0 392.8C503.6 395.0 509.3 397.9 514.0 398.8C518.7 399.7 520.5 398.0 526.0 398.0C531.5 398.0 539.3 398.6 547.0 399.0C554.7 399.4 563.2 399.9 572.0 400.5C580.8 401.1 594.1 402.6 600.0 402.6C605.9 402.6 602.8 401.4 607.6 400.5C612.4 399.6 621.7 397.4 628.7 397.4C635.7 397.4 642.8 399.5 649.8 400.5C656.8 401.5 663.4 402.7 671.0 403.3C678.6 403.9 686.7 403.4 695.5 404.0C704.3 404.6 715.4 406.1 723.6 406.8C731.8 407.5 738.8 408.1 744.7 408.0C750.6 407.9 752.9 406.6 758.8 406.0C764.7 405.4 774.1 405.3 780.0 404.4C785.9 403.5 788.2 402.0 794.0 400.5C799.8 399.0 809.2 397.2 815.0 395.6C820.8 394.0 824.6 392.4 829.0 391.0C833.4 389.6 839.3 388.1 841.4 387.5" fill="none" stroke="#101010" stroke-width="2.2" stroke-linejoin="round"/>
<line x1="348.0" y1="350.3" x2="842.0" y2="350.3" stroke="#5a5a5a" stroke-width="1.3"/>
<line x1="348.5" y1="350.3" x2="348.5" y2="428.3" stroke="#000" stroke-width="1.2"/>
<line x1="841.5" y1="350.3" x2="841.5" y2="428.3" stroke="#000" stroke-width="1.2"/>
<line x1="348.0" y1="428.3" x2="842.0" y2="428.3" stroke="#000" stroke-width="1.2"/>
<text x="344.5" y="356.3" font-size="12" fill="#000" text-anchor="end" >1030</text>
<text x="344.5" y="375.3" font-size="12" fill="#000" text-anchor="end" >1025</text>
<text x="344.5" y="395.9" font-size="12" fill="#000" text-anchor="end" >1020</text>
<text x="344.5" y="416.3" font-size="12" fill="#000" text-anchor="end" >1015</text>
<text x="844.7" y="356.3" font-size="12" fill="#000" text-anchor="start" >772</text>
<text x="844.7" y="375.3" font-size="12" fill="#000" text-anchor="start" >769</text>
<text x="844.7" y="395.9" font-size="12" fill="#000" text-anchor="start" >765</text>
<text x="844.7" y="416.3" font-size="12" fill="#000" text-anchor="start" >761</text>
<text transform="translate(294.2,389.5) rotate(-90)" font-size="12" fill="#1212a8" text-anchor="middle" >ciśnienie</text>
<text transform="translate(306.5,389.5) rotate(-90)" font-size="12" fill="#1212a8" text-anchor="middle" >(hPa)</text>
<text transform="translate(892.3,389.5) rotate(-90)" font-size="12" fill="#1212a8" text-anchor="middle" >(mm Hg)</text>
<text transform="translate(906.6,389.5) rotate(-90)" font-size="12" fill="#1212a8" text-anchor="middle" >ciśnienie</text>
<rect x="348.5" y="437.5" width="493.0" height="77.8" fill="#fff"/>
<rect x="370.3" y="437.5" width="80.9" height="77.8" fill="rgba(0,0,0,0.085)"/>
<rect x="524.2" y="437.5" width="80.2" height="77.8" fill="rgba(0,0,0,0.085)"/>
<rect x="677.8" y="437.5" width="80.0" height="77.8" fill="rgba(0,0,0,0.085)"/>
<rect x="831.3" y="437.5" width="10.2" height="77.8" fill="rgba(0,0,0,0.085)"/>
<clipPath id="cw"><polygon points="348.6,497.4 353.8,493.9 382.0,494.0 403.0,496.0 426.0,500.9 434.7,499.0 455.8,499.5 466.4,495.0 480.4,492.0 491.0,488.0 502.0,485.4 508.6,488.0 515.6,492.5 526.0,493.0 540.0,495.0 558.0,495.6 572.0,495.0 589.5,497.4 600.0,498.5 618.0,497.7 625.0,501.0 632.0,500.0 649.8,494.0 660.0,496.0 674.4,500.0 695.5,496.6 713.0,496.0 723.6,497.7 737.7,495.6 762.3,493.9 776.4,491.4 783.4,486.8 788.7,491.4 797.5,495.0 804.5,494.0 809.8,495.6 815.0,492.5 822.0,498.5 832.6,505.5 836.0,506.5 841.4,506.0 841.5,515.3 348.5,515.3"/></clipPath><g clip-path="url(#cw)">
<rect x="348.5" y="470.0" width="493.0" height="50.0" fill="#0c80ee"/>
<rect x="354.5" y="470.0" width="6.5" height="50.0" fill="#0d4a8c"/>
<rect x="419.0" y="470.0" width="12.0" height="50.0" fill="#08c4fc"/>
<rect x="475.0" y="470.0" width="13.5" height="50.0" fill="#0d4a8c"/>
<rect x="488.5" y="470.0" width="19.5" height="50.0" fill="#0a7a1e"/>
<rect x="508.0" y="470.0" width="26.0" height="50.0" fill="#0d4a8c"/>
<rect x="623.4" y="470.0" width="7.0" height="50.0" fill="#1ea4f4"/>
<rect x="674.0" y="470.0" width="6.7" height="50.0" fill="#1ea4f4"/>
<rect x="764.0" y="470.0" width="19.4" height="50.0" fill="#0d4a8c"/>
<rect x="783.4" y="470.0" width="6.3" height="50.0" fill="#0a7a1e"/>
<rect x="789.7" y="470.0" width="6.0" height="50.0" fill="#0d4a8c"/>
<rect x="809.8" y="470.0" width="5.2" height="50.0" fill="#0d4a8c"/>
<rect x="822.0" y="470.0" width="12.0" height="50.0" fill="#1ea4f4"/>
<rect x="834.0" y="470.0" width="8.0" height="50.0" fill="#00ecff"/>
</g>
<line x1="361.5" y1="437.5" x2="361.5" y2="515.3" stroke="#000" stroke-width="1" stroke-dasharray="2 2" shape-rendering="crispEdges"/>
<line x1="380.5" y1="437.5" x2="380.5" y2="515.3" stroke="#000" stroke-width="1" stroke-dasharray="2 2" shape-rendering="crispEdges"/>
<line x1="400.5" y1="437.5" x2="400.5" y2="515.3" stroke="#000" stroke-width="1" stroke-dasharray="2 2" shape-rendering="crispEdges"/>
<line x1="419.5" y1="437.5" x2="419.5" y2="515.3" stroke="#000" stroke-width="1" stroke-dasharray="2 2" shape-rendering="crispEdges"/>
<line x1="438.5" y1="437.5" x2="438.5" y2="515.3" stroke="#000" stroke-width="1" stroke-dasharray="2 2" shape-rendering="crispEdges"/>
<line x1="457.5" y1="437.5" x2="457.5" y2="515.3" stroke="#000" stroke-width="1" stroke-dasharray="2 2" shape-rendering="crispEdges"/>
<line x1="476.5" y1="437.5" x2="476.5" y2="515.3" stroke="#000" stroke-width="1" stroke-dasharray="2 2" shape-rendering="crispEdges"/>
<line x1="496.5" y1="437.5" x2="496.5" y2="515.3" stroke="#000" stroke-width="1" stroke-dasharray="2 2" shape-rendering="crispEdges"/>
<line x1="515.5" y1="437.5" x2="515.5" y2="515.3" stroke="#000" stroke-width="1" stroke-dasharray="2 2" shape-rendering="crispEdges"/>
<line x1="534.5" y1="437.5" x2="534.5" y2="515.3" stroke="#000" stroke-width="1" stroke-dasharray="2 2" shape-rendering="crispEdges"/>
<line x1="553.5" y1="437.5" x2="553.5" y2="515.3" stroke="#000" stroke-width="1" stroke-dasharray="2 2" shape-rendering="crispEdges"/>
<line x1="572.5" y1="437.5" x2="572.5" y2="515.3" stroke="#000" stroke-width="1" stroke-dasharray="2 2" shape-rendering="crispEdges"/>
<line x1="591.5" y1="437.5" x2="591.5" y2="515.3" stroke="#000" stroke-width="1" stroke-dasharray="2 2" shape-rendering="crispEdges"/>
<line x1="611.5" y1="437.5" x2="611.5" y2="515.3" stroke="#000" stroke-width="1" stroke-dasharray="2 2" shape-rendering="crispEdges"/>
<line x1="630.5" y1="437.5" x2="630.5" y2="515.3" stroke="#000" stroke-width="1" stroke-dasharray="2 2" shape-rendering="crispEdges"/>
<line x1="649.5" y1="437.5" x2="649.5" y2="515.3" stroke="#000" stroke-width="1" stroke-dasharray="2 2" shape-rendering="crispEdges"/>
<line x1="668.5" y1="437.5" x2="668.5" y2="515.3" stroke="#000" stroke-width="1" stroke-dasharray="2 2" shape-rendering="crispEdges"/>
<line x1="687.5" y1="437.5" x2="687.5" y2="515.3" stroke="#000" stroke-width="1" stroke-dasharray="2 2" shape-rendering="crispEdges"/>
<line x1="707.5" y1="437.5" x2="707.5" y2="515.3" stroke="#000" stroke-width="1" stroke-dasharray="2 2" shape-rendering="crispEdges"/>
<line x1="726.5" y1="437.5" x2="726.5" y2="515.3" stroke="#000" stroke-width="1" stroke-dasharray="2 2" shape-rendering="crispEdges"/>
<line x1="745.5" y1="437.5" x2="745.5" y2="515.3" stroke="#000" stroke-width="1" stroke-dasharray="2 2" shape-rendering="crispEdges"/>
<line x1="764.5" y1="437.5" x2="764.5" y2="515.3" stroke="#000" stroke-width="1" stroke-dasharray="2 2" shape-rendering="crispEdges"/>
<line x1="783.5" y1="437.5" x2="783.5" y2="515.3" stroke="#000" stroke-width="1" stroke-dasharray="2 2" shape-rendering="crispEdges"/>
<line x1="802.5" y1="437.5" x2="802.5" y2="515.3" stroke="#000" stroke-width="1" stroke-dasharray="2 2" shape-rendering="crispEdges"/>
<line x1="822.5" y1="437.5" x2="822.5" y2="515.3" stroke="#000" stroke-width="1" stroke-dasharray="2 2" shape-rendering="crispEdges"/>
<line x1="348.5" y1="439.5" x2="841.5" y2="439.5" stroke="#000" stroke-width="1" stroke-dasharray="2 2" shape-rendering="crispEdges"/>
<line x1="348.5" y1="464.5" x2="841.5" y2="464.5" stroke="#000" stroke-width="1" stroke-dasharray="2 2" shape-rendering="crispEdges"/>
<line x1="348.5" y1="490.5" x2="841.5" y2="490.5" stroke="#000" stroke-width="1" stroke-dasharray="2 2" shape-rendering="crispEdges"/>
<polyline points="348.6,497.4 353.8,493.9 382.0,494.0 403.0,496.0 426.0,500.9 434.7,499.0 455.8,499.5 466.4,495.0 480.4,492.0 491.0,488.0 502.0,485.4 508.6,488.0 515.6,492.5 526.0,493.0 540.0,495.0 558.0,495.6 572.0,495.0 589.5,497.4 600.0,498.5 618.0,497.7 625.0,501.0 632.0,500.0 649.8,494.0 660.0,496.0 674.4,500.0 695.5,496.6 713.0,496.0 723.6,497.7 737.7,495.6 762.3,493.9 776.4,491.4 783.4,486.8 788.7,491.4 797.5,495.0 804.5,494.0 809.8,495.6 815.0,492.5 822.0,498.5 832.6,505.5 836.0,506.5 841.4,506.0" fill="none" stroke="#1414a4" stroke-width="2.2" stroke-linejoin="round"/>
<line x1="348.6" y1="472.0" x2="361.6" y2="472.0" stroke="#f00000" stroke-width="1.2"/>
<line x1="361.6" y1="473.8" x2="368.0" y2="473.8" stroke="#f00000" stroke-width="1.2"/>
<line x1="368.0" y1="477.3" x2="385.5" y2="477.3" stroke="#f00000" stroke-width="1.2"/>
<line x1="385.5" y1="479.0" x2="406.6" y2="479.0" stroke="#f00000" stroke-width="1.2"/>
<line x1="406.6" y1="483.6" x2="419.0" y2="483.6" stroke="#f00000" stroke-width="1.2"/>
<line x1="419.0" y1="486.0" x2="426.0" y2="486.0" stroke="#f00000" stroke-width="1.2"/>
<line x1="426.0" y1="485.4" x2="432.0" y2="485.4" stroke="#f00000" stroke-width="1.2"/>
<line x1="432.0" y1="484.3" x2="438.0" y2="484.3" stroke="#f00000" stroke-width="1.2"/>
<line x1="438.0" y1="483.3" x2="450.5" y2="483.3" stroke="#f00000" stroke-width="1.2"/>
<line x1="450.5" y1="481.5" x2="457.6" y2="481.5" stroke="#f00000" stroke-width="1.2"/>
<line x1="457.6" y1="476.3" x2="464.0" y2="476.3" stroke="#f00000" stroke-width="1.2"/>
<line x1="464.0" y1="473.8" x2="470.0" y2="473.8" stroke="#f00000" stroke-width="1.2"/>
<line x1="470.0" y1="471.3" x2="477.0" y2="471.3" stroke="#f00000" stroke-width="1.2"/>
<line x1="477.0" y1="467.5" x2="484.0" y2="467.5" stroke="#f00000" stroke-width="1.2"/>
<line x1="484.0" y1="456.0" x2="495.0" y2="456.0" stroke="#f00000" stroke-width="1.2"/>
<line x1="495.0" y1="451.0" x2="508.6" y2="451.0" stroke="#f00000" stroke-width="1.2"/>
<line x1="508.6" y1="460.4" x2="515.6" y2="460.4" stroke="#f00000" stroke-width="1.2"/>
<line x1="515.6" y1="471.3" x2="522.0" y2="471.3" stroke="#f00000" stroke-width="1.2"/>
<line x1="522.0" y1="468.9" x2="534.0" y2="468.9" stroke="#f00000" stroke-width="1.2"/>
<line x1="534.0" y1="473.8" x2="540.0" y2="473.8" stroke="#f00000" stroke-width="1.2"/>
<line x1="540.0" y1="476.3" x2="547.0" y2="476.3" stroke="#f00000" stroke-width="1.2"/>
<line x1="547.0" y1="475.6" x2="554.0" y2="475.6" stroke="#f00000" stroke-width="1.2"/>
<line x1="554.0" y1="476.6" x2="559.5" y2="476.6" stroke="#f00000" stroke-width="1.2"/>
<line x1="559.5" y1="478.4" x2="586.0" y2="478.4" stroke="#f00000" stroke-width="1.2"/>
<line x1="586.0" y1="480.0" x2="595.0" y2="480.0" stroke="#f00000" stroke-width="1.2"/>
<line x1="595.0" y1="480.5" x2="609.0" y2="480.5" stroke="#f00000" stroke-width="1.2"/>
<line x1="609.0" y1="474.9" x2="623.4" y2="474.9" stroke="#f00000" stroke-width="1.2"/>
<line x1="623.4" y1="477.3" x2="630.4" y2="477.3" stroke="#f00000" stroke-width="1.2"/>
<line x1="630.4" y1="478.0" x2="636.0" y2="478.0" stroke="#f00000" stroke-width="1.2"/>
<line x1="636.0" y1="476.6" x2="643.0" y2="476.6" stroke="#f00000" stroke-width="1.2"/>
<line x1="643.0" y1="474.5" x2="650.0" y2="474.5" stroke="#f00000" stroke-width="1.2"/>
<line x1="650.0" y1="472.7" x2="662.0" y2="472.7" stroke="#f00000" stroke-width="1.2"/>
<line x1="662.0" y1="474.9" x2="668.0" y2="474.9" stroke="#f00000" stroke-width="1.2"/>
<line x1="668.0" y1="484.3" x2="674.4" y2="484.3" stroke="#f00000" stroke-width="1.2"/>
<line x1="674.4" y1="487.0" x2="680.7" y2="487.0" stroke="#f00000" stroke-width="1.2"/>
<line x1="680.7" y1="484.3" x2="686.7" y2="484.3" stroke="#f00000" stroke-width="1.2"/>
<line x1="686.7" y1="482.6" x2="693.7" y2="482.6" stroke="#f00000" stroke-width="1.2"/>
<line x1="693.7" y1="479.8" x2="706.0" y2="479.8" stroke="#f00000" stroke-width="1.2"/>
<line x1="706.0" y1="479.0" x2="720.0" y2="479.0" stroke="#f00000" stroke-width="1.2"/>
<line x1="720.0" y1="481.5" x2="725.4" y2="481.5" stroke="#f00000" stroke-width="1.2"/>
<line x1="725.4" y1="478.4" x2="732.0" y2="478.4" stroke="#f00000" stroke-width="1.2"/>
<line x1="732.0" y1="474.9" x2="744.7" y2="474.9" stroke="#f00000" stroke-width="1.2"/>
<line x1="744.7" y1="476.6" x2="751.8" y2="476.6" stroke="#f00000" stroke-width="1.2"/>
<line x1="751.8" y1="472.0" x2="764.0" y2="472.0" stroke="#f00000" stroke-width="1.2"/>
<line x1="764.0" y1="469.6" x2="771.0" y2="469.6" stroke="#f00000" stroke-width="1.2"/>
<line x1="771.0" y1="466.0" x2="778.0" y2="466.0" stroke="#f00000" stroke-width="1.2"/>
<line x1="778.0" y1="459.7" x2="789.7" y2="459.7" stroke="#f00000" stroke-width="1.2"/>
<line x1="789.7" y1="464.3" x2="796.8" y2="464.3" stroke="#f00000" stroke-width="1.2"/>
<line x1="796.8" y1="471.3" x2="802.7" y2="471.3" stroke="#f00000" stroke-width="1.2"/>
<line x1="802.7" y1="474.9" x2="809.8" y2="474.9" stroke="#f00000" stroke-width="1.2"/>
<line x1="809.8" y1="464.3" x2="820.0" y2="464.3" stroke="#f00000" stroke-width="1.2"/>
<line x1="820.0" y1="474.9" x2="828.4" y2="474.9" stroke="#f00000" stroke-width="1.2"/>
<line x1="828.4" y1="485.0" x2="834.4" y2="485.0" stroke="#f00000" stroke-width="1.2"/>
<line x1="834.4" y1="492.0" x2="841.4" y2="492.0" stroke="#f00000" stroke-width="1.2"/>
<line x1="348.0" y1="437.5" x2="842.0" y2="437.5" stroke="#5a5a5a" stroke-width="1.3"/>
<line x1="348.5" y1="437.5" x2="348.5" y2="515.3" stroke="#000" stroke-width="1.2"/>
<line x1="841.5" y1="437.5" x2="841.5" y2="515.3" stroke="#000" stroke-width="1.2"/>
<line x1="348.0" y1="515.3" x2="842.0" y2="515.3" stroke="#000" stroke-width="1.2"/>
<text x="344.5" y="443.9" font-size="12" fill="#000" text-anchor="end" >15</text>
<text x="344.5" y="468.8" font-size="12" fill="#000" text-anchor="end" >10</text>
<text x="344.5" y="494.3" font-size="12" fill="#000" text-anchor="end" >5</text>
<text x="344.5" y="519.3" font-size="12" fill="#000" text-anchor="end" >0</text>
<text x="844.7" y="443.9" font-size="12" fill="#000" text-anchor="start" >54</text>
<text x="844.7" y="468.8" font-size="12" fill="#000" text-anchor="start" >36</text>
<text x="844.7" y="494.3" font-size="12" fill="#000" text-anchor="start" >18</text>
<text x="847.6" y="518.9" font-size="12" fill="#000" text-anchor="start" >0</text>
<text transform="translate(294.2,476.0) rotate(-90)" font-size="12" fill="#1212a8" text-anchor="middle" >wiatr</text>
<text transform="translate(306.5,476.0) rotate(-90)" font-size="12" fill="#1212a8" text-anchor="middle" >(m/s)</text>
<text transform="translate(892.3,476.0) rotate(-90)" font-size="12" fill="#1212a8" text-anchor="middle" >(km/h)</text>
<text transform="translate(906.6,476.0) rotate(-90)" font-size="12" fill="#1212a8" text-anchor="middle" >wiatr</text>
<rect x="348.5" y="521.5" width="493.0" height="30.5" fill="#fff"/>
<rect x="370.3" y="521.5" width="80.9" height="30.5" fill="rgba(0,0,0,0.085)"/>
<rect x="524.2" y="521.5" width="80.2" height="30.5" fill="rgba(0,0,0,0.085)"/>
<rect x="677.8" y="521.5" width="80.0" height="30.5" fill="rgba(0,0,0,0.085)"/>
<rect x="831.3" y="521.5" width="10.2" height="30.5" fill="rgba(0,0,0,0.085)"/>
<line x1="361.5" y1="521.5" x2="361.5" y2="552.0" stroke="#000" stroke-width="1" stroke-dasharray="2 2" shape-rendering="crispEdges"/>
<line x1="380.5" y1="521.5" x2="380.5" y2="552.0" stroke="#000" stroke-width="1" stroke-dasharray="2 2" shape-rendering="crispEdges"/>
<line x1="400.5" y1="521.5" x2="400.5" y2="552.0" stroke="#000" stroke-width="1" stroke-dasharray="2 2" shape-rendering="crispEdges"/>
<line x1="419.5" y1="521.5" x2="419.5" y2="552.0" stroke="#000" stroke-width="1" stroke-dasharray="2 2" shape-rendering="crispEdges"/>
<line x1="438.5" y1="521.5" x2="438.5" y2="552.0" stroke="#000" stroke-width="1" stroke-dasharray="2 2" shape-rendering="crispEdges"/>
<line x1="457.5" y1="521.5" x2="457.5" y2="552.0" stroke="#000" stroke-width="1" stroke-dasharray="2 2" shape-rendering="crispEdges"/>
<line x1="476.5" y1="521.5" x2="476.5" y2="552.0" stroke="#000" stroke-width="1" stroke-dasharray="2 2" shape-rendering="crispEdges"/>
<line x1="496.5" y1="521.5" x2="496.5" y2="552.0" stroke="#000" stroke-width="1" stroke-dasharray="2 2" shape-rendering="crispEdges"/>
<line x1="515.5" y1="521.5" x2="515.5" y2="552.0" stroke="#000" stroke-width="1" stroke-dasharray="2 2" shape-rendering="crispEdges"/>
<line x1="534.5" y1="521.5" x2="534.5" y2="552.0" stroke="#000" stroke-width="1" stroke-dasharray="2 2" shape-rendering="crispEdges"/>
<line x1="553.5" y1="521.5" x2="553.5" y2="552.0" stroke="#000" stroke-width="1" stroke-dasharray="2 2" shape-rendering="crispEdges"/>
<line x1="572.5" y1="521.5" x2="572.5" y2="552.0" stroke="#000" stroke-width="1" stroke-dasharray="2 2" shape-rendering="crispEdges"/>
<line x1="591.5" y1="521.5" x2="591.5" y2="552.0" stroke="#000" stroke-width="1" stroke-dasharray="2 2" shape-rendering="crispEdges"/>
<line x1="611.5" y1="521.5" x2="611.5" y2="552.0" stroke="#000" stroke-width="1" stroke-dasharray="2 2" shape-rendering="crispEdges"/>
<line x1="630.5" y1="521.5" x2="630.5" y2="552.0" stroke="#000" stroke-width="1" stroke-dasharray="2 2" shape-rendering="crispEdges"/>
<line x1="649.5" y1="521.5" x2="649.5" y2="552.0" stroke="#000" stroke-width="1" stroke-dasharray="2 2" shape-rendering="crispEdges"/>
<line x1="668.5" y1="521.5" x2="668.5" y2="552.0" stroke="#000" stroke-width="1" stroke-dasharray="2 2" shape-rendering="crispEdges"/>
<line x1="687.5" y1="521.5" x2="687.5" y2="552.0" stroke="#000" stroke-width="1" stroke-dasharray="2 2" shape-rendering="crispEdges"/>
<line x1="707.5" y1="521.5" x2="707.5" y2="552.0" stroke="#000" stroke-width="1" stroke-dasharray="2 2" shape-rendering="crispEdges"/>
<line x1="726.5" y1="521.5" x2="726.5" y2="552.0" stroke="#000" stroke-width="1" stroke-dasharray="2 2" shape-rendering="crispEdges"/>
<line x1="745.5" y1="521.5" x2="745.5" y2="552.0" stroke="#000" stroke-width="1" stroke-dasharray="2 2" shape-rendering="crispEdges"/>
<line x1="764.5" y1="521.5" x2="764.5" y2="552.0" stroke="#000" stroke-width="1" stroke-dasharray="2 2" shape-rendering="crispEdges"/>
<line x1="783.5" y1="521.5" x2="783.5" y2="552.0" stroke="#000" stroke-width="1" stroke-dasharray="2 2" shape-rendering="crispEdges"/>
<line x1="802.5" y1="521.5" x2="802.5" y2="552.0" stroke="#000" stroke-width="1" stroke-dasharray="2 2" shape-rendering="crispEdges"/>
<line x1="822.5" y1="521.5" x2="822.5" y2="552.0" stroke="#000" stroke-width="1" stroke-dasharray="2 2" shape-rendering="crispEdges"/>
<clipPath id="cd"><rect x="345.5" y="521.5" width="499.0" height="30.5"/></clipPath><g clip-path="url(#cd)">
<line x1="350.3" y1="543.1" x2="347.3" y2="529.5" stroke="#1212b0" stroke-width="1.25"/>
<polygon points="347.3,529.5 350.8,533.6 345.9,534.7" fill="#1212b0"/>
<line x1="356.6" y1="543.2" x2="353.8" y2="529.4" stroke="#1212b0" stroke-width="1.25"/>
<polygon points="353.8,529.4 357.2,533.7 352.3,534.6" fill="#1212b0"/>
<line x1="362.8" y1="543.2" x2="360.3" y2="529.4" stroke="#1212b0" stroke-width="1.25"/>
<polygon points="360.3,529.4 363.6,533.7 358.7,534.6" fill="#1212b0"/>
<line x1="368.8" y1="543.3" x2="367.2" y2="529.3" stroke="#1212b0" stroke-width="1.25"/>
<polygon points="367.2,529.3 370.2,533.8 365.2,534.4" fill="#1212b0"/>
<line x1="374.4" y1="543.3" x2="374.4" y2="529.3" stroke="#1212b0" stroke-width="1.25"/>
<polygon points="374.4,529.3 376.9,534.1 371.9,534.1" fill="#1212b0"/>
<line x1="380.2" y1="543.3" x2="381.4" y2="529.3" stroke="#1212b0" stroke-width="1.25"/>
<polygon points="381.4,529.3 383.4,534.3 378.5,533.9" fill="#1212b0"/>
<line x1="385.9" y1="543.2" x2="388.4" y2="529.4" stroke="#1212b0" stroke-width="1.25"/>
<polygon points="388.4,529.4 390.0,534.6 385.1,533.7" fill="#1212b0"/>
<line x1="392.3" y1="543.2" x2="394.8" y2="529.4" stroke="#1212b0" stroke-width="1.25"/>
<polygon points="394.8,529.4 396.4,534.6 391.5,533.7" fill="#1212b0"/>
<line x1="398.7" y1="543.2" x2="401.2" y2="529.4" stroke="#1212b0" stroke-width="1.25"/>
<polygon points="401.2,529.4 402.8,534.6 397.9,533.7" fill="#1212b0"/>
<line x1="405.1" y1="543.2" x2="407.6" y2="529.4" stroke="#1212b0" stroke-width="1.25"/>
<polygon points="407.6,529.4 409.2,534.6 404.3,533.7" fill="#1212b0"/>
<line x1="411.5" y1="543.2" x2="413.9" y2="529.4" stroke="#1212b0" stroke-width="1.25"/>
<polygon points="413.9,529.4 415.6,534.6 410.7,533.7" fill="#1212b0"/>
<line x1="417.9" y1="543.2" x2="420.3" y2="529.4" stroke="#1212b0" stroke-width="1.25"/>
<polygon points="420.3,529.4 422.0,534.6 417.0,533.7" fill="#1212b0"/>
<line x1="425.1" y1="543.3" x2="425.9" y2="529.3" stroke="#1212b0" stroke-width="1.25"/>
<polygon points="425.9,529.3 428.1,534.2 423.1,534.0" fill="#1212b0"/>
<line x1="432.5" y1="543.3" x2="431.3" y2="529.3" stroke="#1212b0" stroke-width="1.25"/>
<polygon points="431.3,529.3 434.2,533.9 429.2,534.3" fill="#1212b0"/>
<line x1="440.0" y1="543.1" x2="436.6" y2="529.5" stroke="#1212b0" stroke-width="1.25"/>
<polygon points="436.6,529.5 440.2,533.6 435.3,534.8" fill="#1212b0"/>
<line x1="446.4" y1="543.1" x2="443.0" y2="529.5" stroke="#1212b0" stroke-width="1.25"/>
<polygon points="443.0,529.5 446.6,533.6 441.7,534.8" fill="#1212b0"/>
<line x1="452.8" y1="543.1" x2="449.4" y2="529.5" stroke="#1212b0" stroke-width="1.25"/>
<polygon points="449.4,529.5 453.0,533.6 448.1,534.8" fill="#1212b0"/>
<line x1="459.2" y1="543.1" x2="455.8" y2="529.5" stroke="#1212b0" stroke-width="1.25"/>
<polygon points="455.8,529.5 459.4,533.6 454.5,534.8" fill="#1212b0"/>
<line x1="465.2" y1="543.2" x2="462.5" y2="529.4" stroke="#1212b0" stroke-width="1.25"/>
<polygon points="462.5,529.4 465.9,533.7 461.0,534.6" fill="#1212b0"/>
<line x1="471.2" y1="543.2" x2="469.3" y2="529.4" stroke="#1212b0" stroke-width="1.25"/>
<polygon points="469.3,529.4 472.4,533.8 467.5,534.5" fill="#1212b0"/>
<line x1="477.1" y1="543.3" x2="476.2" y2="529.3" stroke="#1212b0" stroke-width="1.25"/>
<polygon points="476.2,529.3 479.0,533.9 474.0,534.3" fill="#1212b0"/>
<line x1="483.1" y1="543.3" x2="483.1" y2="529.3" stroke="#1212b0" stroke-width="1.25"/>
<polygon points="483.1,529.3 485.6,534.1 480.6,534.1" fill="#1212b0"/>
<line x1="489.3" y1="543.3" x2="489.6" y2="529.3" stroke="#1212b0" stroke-width="1.25"/>
<polygon points="489.6,529.3 492.0,534.2 487.0,534.0" fill="#1212b0"/>
<line x1="495.5" y1="543.3" x2="496.1" y2="529.3" stroke="#1212b0" stroke-width="1.25"/>
<polygon points="496.1,529.3 498.4,534.2 493.4,534.0" fill="#1212b0"/>
<line x1="501.8" y1="543.3" x2="502.7" y2="529.3" stroke="#1212b0" stroke-width="1.25"/>
<polygon points="502.7,529.3 504.9,534.3 499.9,533.9" fill="#1212b0"/>
<line x1="508.0" y1="543.3" x2="509.2" y2="529.3" stroke="#1212b0" stroke-width="1.25"/>
<polygon points="509.2,529.3 511.3,534.3 506.3,533.9" fill="#1212b0"/>
<line x1="514.6" y1="543.3" x2="515.4" y2="529.3" stroke="#1212b0" stroke-width="1.25"/>
<polygon points="515.4,529.3 517.6,534.3 512.7,534.0" fill="#1212b0"/>
<line x1="521.2" y1="543.3" x2="521.7" y2="529.3" stroke="#1212b0" stroke-width="1.25"/>
<polygon points="521.7,529.3 524.0,534.2 519.0,534.0" fill="#1212b0"/>
<line x1="526.8" y1="543.2" x2="528.8" y2="529.4" stroke="#1212b0" stroke-width="1.25"/>
<polygon points="528.8,529.4 530.6,534.5 525.6,533.8" fill="#1212b0"/>
<line x1="533.2" y1="543.2" x2="535.2" y2="529.4" stroke="#1212b0" stroke-width="1.25"/>
<polygon points="535.2,529.4 537.0,534.5 532.0,533.8" fill="#1212b0"/>
<line x1="539.5" y1="543.2" x2="541.7" y2="529.4" stroke="#1212b0" stroke-width="1.25"/>
<polygon points="541.7,529.4 543.4,534.5 538.5,533.7" fill="#1212b0"/>
<line x1="545.9" y1="543.2" x2="548.1" y2="529.4" stroke="#1212b0" stroke-width="1.25"/>
<polygon points="548.1,529.4 549.8,534.5 544.9,533.7" fill="#1212b0"/>
<line x1="552.2" y1="543.2" x2="554.5" y2="529.4" stroke="#1212b0" stroke-width="1.25"/>
<polygon points="554.5,529.4 556.2,534.5 551.3,533.7" fill="#1212b0"/>
<line x1="558.6" y1="543.2" x2="561.0" y2="529.4" stroke="#1212b0" stroke-width="1.25"/>
<polygon points="561.0,529.4 562.6,534.6 557.7,533.7" fill="#1212b0"/>
<line x1="564.6" y1="543.1" x2="567.7" y2="529.5" stroke="#1212b0" stroke-width="1.25"/>
<polygon points="567.7,529.5 569.1,534.7 564.2,533.6" fill="#1212b0"/>
<line x1="570.6" y1="543.0" x2="574.5" y2="529.6" stroke="#1212b0" stroke-width="1.25"/>
<polygon points="574.5,529.6 575.6,534.9 570.8,533.5" fill="#1212b0"/>
<line x1="576.6" y1="542.9" x2="581.3" y2="529.7" stroke="#1212b0" stroke-width="1.25"/>
<polygon points="581.3,529.7 582.0,535.0 577.3,533.4" fill="#1212b0"/>
<line x1="582.7" y1="542.8" x2="588.0" y2="529.8" stroke="#1212b0" stroke-width="1.25"/>
<polygon points="588.0,529.8 588.5,535.2 583.9,533.3" fill="#1212b0"/>
<line x1="588.6" y1="542.6" x2="594.9" y2="530.0" stroke="#1212b0" stroke-width="1.25"/>
<polygon points="594.9,530.0 595.0,535.5 590.5,533.2" fill="#1212b0"/>
<line x1="594.4" y1="542.2" x2="601.8" y2="530.4" stroke="#1212b0" stroke-width="1.25"/>
<polygon points="601.8,530.4 601.4,535.8 597.2,533.1" fill="#1212b0"/>
<line x1="600.5" y1="542.0" x2="608.5" y2="530.6" stroke="#1212b0" stroke-width="1.25"/>
<polygon points="608.5,530.6 607.8,535.9 603.7,533.1" fill="#1212b0"/>
<line x1="606.6" y1="541.8" x2="615.2" y2="530.8" stroke="#1212b0" stroke-width="1.25"/>
<polygon points="615.2,530.8 614.2,536.1 610.3,533.0" fill="#1212b0"/>
<line x1="613.1" y1="541.9" x2="621.5" y2="530.7" stroke="#1212b0" stroke-width="1.25"/>
<polygon points="621.5,530.7 620.6,536.0 616.6,533.0" fill="#1212b0"/>
<line x1="619.6" y1="542.0" x2="627.8" y2="530.6" stroke="#1212b0" stroke-width="1.25"/>
<polygon points="627.8,530.6 627.0,536.0 623.0,533.1" fill="#1212b0"/>
<line x1="626.5" y1="542.3" x2="633.7" y2="530.3" stroke="#1212b0" stroke-width="1.25"/>
<polygon points="633.7,530.3 633.4,535.7 629.1,533.1" fill="#1212b0"/>
<line x1="633.6" y1="542.7" x2="639.4" y2="529.9" stroke="#1212b0" stroke-width="1.25"/>
<polygon points="639.4,529.9 639.7,535.3 635.1,533.3" fill="#1212b0"/>
<line x1="640.7" y1="543.0" x2="645.0" y2="529.6" stroke="#1212b0" stroke-width="1.25"/>
<polygon points="645.0,529.6 645.9,535.0 641.2,533.4" fill="#1212b0"/>
<line x1="648.1" y1="543.2" x2="650.5" y2="529.4" stroke="#1212b0" stroke-width="1.25"/>
<polygon points="650.5,529.4 652.1,534.6 647.2,533.7" fill="#1212b0"/>
<line x1="654.7" y1="543.2" x2="656.6" y2="529.4" stroke="#1212b0" stroke-width="1.25"/>
<polygon points="656.6,529.4 658.4,534.5 653.5,533.8" fill="#1212b0"/>
<line x1="661.3" y1="543.3" x2="662.8" y2="529.3" stroke="#1212b0" stroke-width="1.25"/>
<polygon points="662.8,529.3 664.8,534.4 659.8,533.9" fill="#1212b0"/>
<line x1="669.1" y1="543.3" x2="667.8" y2="529.3" stroke="#1212b0" stroke-width="1.25"/>
<polygon points="667.8,529.3 670.7,533.9 665.8,534.3" fill="#1212b0"/>
<line x1="677.2" y1="542.9" x2="672.4" y2="529.7" stroke="#1212b0" stroke-width="1.25"/>
<polygon points="672.4,529.7 676.4,533.4 671.7,535.1" fill="#1212b0"/>
<line x1="683.2" y1="543.0" x2="679.3" y2="529.6" stroke="#1212b0" stroke-width="1.25"/>
<polygon points="679.3,529.6 683.0,533.5 678.2,534.9" fill="#1212b0"/>
<line x1="688.9" y1="543.2" x2="686.3" y2="529.4" stroke="#1212b0" stroke-width="1.25"/>
<polygon points="686.3,529.4 689.7,533.7 684.8,534.6" fill="#1212b0"/>
<line x1="694.5" y1="543.3" x2="693.5" y2="529.3" stroke="#1212b0" stroke-width="1.25"/>
<polygon points="693.5,529.3 696.4,533.9 691.4,534.3" fill="#1212b0"/>
<line x1="700.7" y1="543.3" x2="700.1" y2="529.3" stroke="#1212b0" stroke-width="1.25"/>
<polygon points="700.1,529.3 702.8,534.0 697.8,534.2" fill="#1212b0"/>
<line x1="707.0" y1="543.3" x2="706.6" y2="529.3" stroke="#1212b0" stroke-width="1.25"/>
<polygon points="706.6,529.3 709.3,534.0 704.3,534.2" fill="#1212b0"/>
<line x1="713.2" y1="543.3" x2="713.2" y2="529.3" stroke="#1212b0" stroke-width="1.25"/>
<polygon points="713.2,529.3 715.7,534.1 710.7,534.1" fill="#1212b0"/>
<line x1="719.5" y1="543.3" x2="719.7" y2="529.3" stroke="#1212b0" stroke-width="1.25"/>
<polygon points="719.7,529.3 722.1,534.1 717.1,534.1" fill="#1212b0"/>
<line x1="725.8" y1="543.3" x2="726.1" y2="529.3" stroke="#1212b0" stroke-width="1.25"/>
<polygon points="726.1,529.3 728.5,534.2 723.5,534.0" fill="#1212b0"/>
<line x1="732.2" y1="543.3" x2="732.6" y2="529.3" stroke="#1212b0" stroke-width="1.25"/>
<polygon points="732.6,529.3 734.9,534.2 730.0,534.0" fill="#1212b0"/>
<line x1="738.5" y1="543.3" x2="739.1" y2="529.3" stroke="#1212b0" stroke-width="1.25"/>
<polygon points="739.1,529.3 741.4,534.2 736.4,534.0" fill="#1212b0"/>
<line x1="744.8" y1="543.3" x2="745.5" y2="529.3" stroke="#1212b0" stroke-width="1.25"/>
<polygon points="745.5,529.3 747.8,534.2 742.8,534.0" fill="#1212b0"/>
<line x1="751.1" y1="543.3" x2="752.0" y2="529.3" stroke="#1212b0" stroke-width="1.25"/>
<polygon points="752.0,529.3 754.2,534.3 749.2,533.9" fill="#1212b0"/>
<line x1="757.4" y1="543.3" x2="758.5" y2="529.3" stroke="#1212b0" stroke-width="1.25"/>
<polygon points="758.5,529.3 760.6,534.3 755.6,533.9" fill="#1212b0"/>
<line x1="763.7" y1="543.3" x2="765.0" y2="529.3" stroke="#1212b0" stroke-width="1.25"/>
<polygon points="765.0,529.3 767.0,534.3 762.1,533.9" fill="#1212b0"/>
<line x1="770.0" y1="543.3" x2="771.5" y2="529.3" stroke="#1212b0" stroke-width="1.25"/>
<polygon points="771.5,529.3 773.5,534.4 768.5,533.9" fill="#1212b0"/>
<line x1="775.9" y1="543.2" x2="778.3" y2="529.4" stroke="#1212b0" stroke-width="1.25"/>
<polygon points="778.3,529.4 780.0,534.6 775.1,533.7" fill="#1212b0"/>
<line x1="781.8" y1="543.1" x2="785.2" y2="529.5" stroke="#1212b0" stroke-width="1.25"/>
<polygon points="785.2,529.5 786.5,534.8 781.6,533.6" fill="#1212b0"/>
<line x1="786.0" y1="542.1" x2="793.8" y2="530.5" stroke="#1212b0" stroke-width="1.25"/>
<polygon points="793.8,530.5 793.2,535.9 789.1,533.1" fill="#1212b0"/>
<line x1="791.9" y1="541.7" x2="800.7" y2="530.9" stroke="#1212b0" stroke-width="1.25"/>
<polygon points="800.7,530.9 799.6,536.2 795.8,533.0" fill="#1212b0"/>
<line x1="797.8" y1="541.3" x2="807.6" y2="531.3" stroke="#1212b0" stroke-width="1.25"/>
<polygon points="807.6,531.3 806.0,536.5 802.5,533.0" fill="#1212b0"/>
<line x1="803.7" y1="540.8" x2="814.5" y2="531.8" stroke="#1212b0" stroke-width="1.25"/>
<polygon points="814.5,531.8 812.4,536.8 809.2,533.0" fill="#1212b0"/>
<line x1="808.6" y1="537.5" x2="822.4" y2="535.1" stroke="#1212b0" stroke-width="1.25"/>
<polygon points="822.4,535.1 818.1,538.4 817.2,533.5" fill="#1212b0"/>
<line x1="817.5" y1="530.8" x2="826.2" y2="541.8" stroke="#1212b0" stroke-width="1.25"/>
<polygon points="826.2,541.8 821.3,539.6 825.2,536.5" fill="#1212b0"/>
<line x1="825.7" y1="529.8" x2="830.9" y2="542.8" stroke="#1212b0" stroke-width="1.25"/>
<polygon points="830.9,542.8 826.8,539.3 831.4,537.4" fill="#1212b0"/>
<line x1="833.7" y1="529.4" x2="835.7" y2="543.2" stroke="#1212b0" stroke-width="1.25"/>
<polygon points="835.7,543.2 832.5,538.8 837.5,538.1" fill="#1212b0"/>
<line x1="841.1" y1="529.3" x2="841.1" y2="543.3" stroke="#1212b0" stroke-width="1.25"/>
<polygon points="841.1,543.3 838.6,538.5 843.6,538.5" fill="#1212b0"/>
</g>
<line x1="348.0" y1="521.5" x2="842.0" y2="521.5" stroke="#5a5a5a" stroke-width="1.3"/>
<line x1="348.5" y1="521.5" x2="348.5" y2="552.0" stroke="#000" stroke-width="1.2"/>
<line x1="841.5" y1="521.5" x2="841.5" y2="552.0" stroke="#000" stroke-width="1.2"/>
<line x1="348.0" y1="552.0" x2="842.0" y2="552.0" stroke="#000" stroke-width="1.2"/>
<text x="298.8" y="531.3" font-size="12" fill="#1212a8" text-anchor="middle" >N</text>
<text x="288.8" y="539.8" font-size="12" fill="#1212a8" text-anchor="middle" >W</text>
<text x="304.7" y="539.8" font-size="12" fill="#1212a8" text-anchor="middle" >E</text>
<text x="297.5" y="547.4" font-size="12" fill="#1212a8" text-anchor="middle" >S</text>
<text x="897.9" y="531.3" font-size="12" fill="#1212a8" text-anchor="middle" >N</text>
<text x="888.8" y="539.8" font-size="12" fill="#1212a8" text-anchor="middle" >W</text>
<text x="903.9" y="539.8" font-size="12" fill="#1212a8" text-anchor="middle" >E</text>
<text x="896.8" y="547.4" font-size="12" fill="#1212a8" text-anchor="middle" >S</text>
<rect x="348.5" y="557.7" width="493.0" height="78.6" fill="#89d7fd"/>
<rect x="370.3" y="557.7" width="80.9" height="78.6" fill="rgba(20,20,90,0.09)"/>
<rect x="524.2" y="557.7" width="80.2" height="78.6" fill="rgba(20,20,90,0.09)"/>
<rect x="677.8" y="557.7" width="80.0" height="78.6" fill="rgba(20,20,90,0.09)"/>
<rect x="831.3" y="557.7" width="10.2" height="78.6" fill="rgba(20,20,90,0.09)"/>
<circle cx="502.0" cy="585.0" r="3.0" fill="#ffffff"/>
<circle cx="508.6" cy="595.5" r="3.0" fill="#ffffff"/>
<circle cx="521.0" cy="600.0" r="3.0" fill="#ffffff"/>
<circle cx="527.7" cy="601.5" r="3.0" fill="#ffffff"/>
<circle cx="534.0" cy="602.0" r="3.0" fill="#ffffff"/>
<circle cx="540.4" cy="604.0" r="3.0" fill="#ffffff"/>
<circle cx="546.7" cy="604.0" r="3.0" fill="#ffffff"/>
<circle cx="553.0" cy="611.4" r="3.0" fill="#ffffff"/>
<circle cx="559.0" cy="612.8" r="3.0" fill="#ffffff"/>
<circle cx="463.7" cy="629.0" r="3.0" fill="#ffffff"/>
<circle cx="470.0" cy="629.0" r="3.0" fill="#ffffff"/>
<circle cx="565.7" cy="630.8" r="3.0" fill="#ffffff"/>
<circle cx="572.0" cy="630.8" r="3.0" fill="#ffffff"/>
<circle cx="579.0" cy="630.8" r="3.0" fill="#ffffff"/>
<circle cx="515.0" cy="596.0" r="3.0" fill="#ffffff"/>
<circle cx="483.0" cy="586.5" r="3.0" fill="#ffffff"/>
<circle cx="521.0" cy="595.5" r="3.0" fill="#c4c4c4"/>
<circle cx="527.7" cy="595.0" r="3.0" fill="#c4c4c4"/>
<circle cx="540.4" cy="595.0" r="3.0" fill="#c4c4c4"/>
<circle cx="565.7" cy="596.5" r="3.0" fill="#c4c4c4"/>
<circle cx="534.0" cy="594.5" r="3.0" fill="#8c8c8c"/>
<circle cx="546.7" cy="596.5" r="3.0" fill="#8c8c8c"/>
<circle cx="553.0" cy="598.0" r="3.0" fill="#8c8c8c"/>
<circle cx="559.4" cy="605.5" r="3.0" fill="#c4c4c4"/>
<circle cx="579.0" cy="607.0" r="3.0" fill="#c4c4c4"/>
<circle cx="585.4" cy="630.8" r="3.0" fill="#8c8c8c"/>
<circle cx="591.0" cy="630.0" r="3.0" fill="#505050"/>
<circle cx="598.0" cy="630.8" r="3.0" fill="#0c0c0c"/>
<circle cx="432.0" cy="630.5" r="3.0" fill="#8c8c8c"/>
<circle cx="438.4" cy="630.8" r="3.0" fill="#0c0c0c"/>
<circle cx="444.7" cy="630.8" r="3.0" fill="#0c0c0c"/>
<circle cx="451.0" cy="630.8" r="3.0" fill="#0c0c0c"/>
<circle cx="457.4" cy="630.8" r="3.0" fill="#505050"/>
<circle cx="463.7" cy="629.5" r="3.0" fill="#e4e0dc"/>
<circle cx="470.0" cy="627.0" r="3.0" fill="#a4242c"/>
<circle cx="470.0" cy="629.5" r="3.0" fill="#c4c4c4"/>
<circle cx="579.0" cy="595.5" r="3.0" fill="#0c0c0c"/>
<circle cx="591.3" cy="601.5" r="3.0" fill="#0c0c0c"/>
<circle cx="674.4" cy="612.8" r="3.0" fill="#ffffff"/>
<circle cx="668.0" cy="625.0" r="3.0" fill="#ffffff"/>
<circle cx="661.8" cy="628.5" r="3.0" fill="#ffffff"/>
<circle cx="680.7" cy="630.8" r="3.0" fill="#ffffff"/>
<circle cx="693.7" cy="630.8" r="3.0" fill="#ffffff"/>
<circle cx="700.0" cy="611.0" r="3.0" fill="#ffffff"/>
<circle cx="706.8" cy="611.0" r="3.0" fill="#ffffff"/>
<circle cx="713.0" cy="605.0" r="3.0" fill="#ffffff"/>
<circle cx="719.4" cy="608.5" r="3.0" fill="#ffffff"/>
<circle cx="725.4" cy="630.8" r="3.0" fill="#ffffff"/>
<circle cx="731.8" cy="630.8" r="3.0" fill="#ffffff"/>
<circle cx="738.1" cy="630.8" r="3.0" fill="#ffffff"/>
<circle cx="744.4" cy="630.8" r="3.0" fill="#ffffff"/>
<circle cx="750.8" cy="630.8" r="3.0" fill="#ffffff"/>
<circle cx="757.1" cy="630.8" r="3.0" fill="#ffffff"/>
<circle cx="763.5" cy="630.8" r="3.0" fill="#ffffff"/>
<circle cx="769.9" cy="630.8" r="3.0" fill="#ffffff"/>
<circle cx="776.2" cy="630.8" r="3.0" fill="#ffffff"/>
<circle cx="783.0" cy="630.5" r="3.0" fill="#c4c4c4"/>
<circle cx="789.4" cy="630.5" r="3.0" fill="#c4c4c4"/>
<circle cx="795.7" cy="630.5" r="3.0" fill="#c4c4c4"/>
<circle cx="802.0" cy="630.5" r="3.0" fill="#c4c4c4"/>
<circle cx="808.4" cy="630.5" r="3.0" fill="#c4c4c4"/>
<circle cx="814.8" cy="630.5" r="3.0" fill="#c4c4c4"/>
<circle cx="821.1" cy="630.5" r="3.0" fill="#c4c4c4"/>
<circle cx="827.5" cy="630.5" r="3.0" fill="#c4c4c4"/>
<circle cx="833.8" cy="630.5" r="3.0" fill="#c4c4c4"/>
<circle cx="840.1" cy="630.5" r="3.0" fill="#c4c4c4"/>
<circle cx="758.0" cy="631.0" r="3.0" fill="#c4c4c4"/>
<circle cx="764.6" cy="631.0" r="3.0" fill="#c4c4c4"/>
<circle cx="771.0" cy="630.5" r="3.0" fill="#c4c4c4"/>
<circle cx="668.0" cy="619.0" r="3.0" fill="#8c8c8c"/>
<circle cx="661.8" cy="622.5" r="3.0" fill="#8c8c8c"/>
<circle cx="655.4" cy="626.0" r="3.0" fill="#8c8c8c"/>
<circle cx="649.0" cy="628.5" r="3.0" fill="#8c8c8c"/>
<circle cx="642.7" cy="630.0" r="3.0" fill="#8c8c8c"/>
<circle cx="636.4" cy="631.0" r="3.0" fill="#8c8c8c"/>
<circle cx="668.0" cy="615.0" r="3.0" fill="#c4c4c4"/>
<circle cx="661.8" cy="619.0" r="3.0" fill="#c4c4c4"/>
<circle cx="732.0" cy="606.5" r="3.0" fill="#c4c4c4"/>
<circle cx="738.3" cy="605.0" r="3.0" fill="#c4c4c4"/>
<circle cx="744.7" cy="603.0" r="3.0" fill="#c4c4c4"/>
<circle cx="738.3" cy="598.0" r="3.0" fill="#8c8c8c"/>
<circle cx="744.7" cy="597.0" r="3.0" fill="#8c8c8c"/>
<circle cx="777.0" cy="624.5" r="3.0" fill="#8c8c8c"/>
<circle cx="783.4" cy="626.0" r="3.0" fill="#8c8c8c"/>
<circle cx="789.7" cy="626.5" r="3.0" fill="#8c8c8c"/>
<circle cx="796.0" cy="624.0" r="3.0" fill="#8c8c8c"/>
<circle cx="802.4" cy="623.0" r="3.0" fill="#8c8c8c"/>
<circle cx="808.7" cy="624.0" r="3.0" fill="#8c8c8c"/>
<circle cx="815.0" cy="627.0" r="3.0" fill="#8c8c8c"/>
<circle cx="821.4" cy="628.5" r="3.0" fill="#8c8c8c"/>
<circle cx="828.0" cy="630.0" r="3.0" fill="#8c8c8c"/>
<circle cx="834.0" cy="631.0" r="3.0" fill="#8c8c8c"/>
<circle cx="777.0" cy="599.5" r="3.0" fill="#505050"/>
<circle cx="597.7" cy="631.5" r="3.0" fill="#0c0c0c"/>
<circle cx="604.1" cy="631.5" r="3.0" fill="#0c0c0c"/>
<circle cx="610.4" cy="631.5" r="3.0" fill="#0c0c0c"/>
<circle cx="616.8" cy="631.5" r="3.0" fill="#0c0c0c"/>
<circle cx="623.1" cy="631.5" r="3.0" fill="#0c0c0c"/>
<circle cx="629.5" cy="631.5" r="3.0" fill="#0c0c0c"/>
<circle cx="636.4" cy="628.0" r="3.0" fill="#0c0c0c"/>
<circle cx="642.7" cy="625.3" r="3.0" fill="#0c0c0c"/>
<circle cx="649.0" cy="623.4" r="3.0" fill="#0c0c0c"/>
<circle cx="655.4" cy="620.0" r="3.0" fill="#0c0c0c"/>
<circle cx="661.8" cy="615.6" r="3.0" fill="#505050"/>
<circle cx="591.8" cy="602.0" r="3.0" fill="#0c0c0c"/>
<circle cx="751.0" cy="597.0" r="3.0" fill="#0c0c0c"/>
<circle cx="758.0" cy="596.0" r="3.0" fill="#0c0c0c"/>
<circle cx="764.6" cy="596.0" r="3.0" fill="#0c0c0c"/>
<circle cx="771.0" cy="595.8" r="3.0" fill="#0c0c0c"/>
<circle cx="783.4" cy="620.0" r="3.0" fill="#0c0c0c"/>
<circle cx="789.7" cy="620.0" r="3.0" fill="#0c0c0c"/>
<circle cx="796.0" cy="602.0" r="3.0" fill="#0c0c0c"/>
<circle cx="802.4" cy="606.0" r="3.0" fill="#0c0c0c"/>
<circle cx="802.4" cy="615.0" r="3.0" fill="#0c0c0c"/>
<circle cx="808.7" cy="615.0" r="3.0" fill="#0c0c0c"/>
<circle cx="815.0" cy="620.0" r="3.0" fill="#0c0c0c"/>
<circle cx="821.4" cy="623.0" r="3.0" fill="#0c0c0c"/>
<circle cx="828.0" cy="625.5" r="3.0" fill="#0c0c0c"/>
<circle cx="834.0" cy="625.5" r="3.0" fill="#0c0c0c"/>
<circle cx="840.5" cy="627.0" r="3.0" fill="#0c0c0c"/>
<circle cx="796.0" cy="620.0" r="3.0" fill="#505050"/>
<circle cx="802.4" cy="619.5" r="3.0" fill="#505050"/>
<circle cx="438.4" cy="577.6" r="3.0" fill="#a4242c"/>
<circle cx="444.7" cy="577.6" r="3.0" fill="#a4242c"/>
<circle cx="451.0" cy="577.6" r="3.0" fill="#a4242c"/>
<circle cx="457.4" cy="577.8" r="3.0" fill="#a4242c"/>
<circle cx="463.7" cy="583.0" r="3.0" fill="#a4242c"/>
<circle cx="483.0" cy="585.0" r="3.0" fill="#a4242c"/>
<circle cx="515.0" cy="576.0" r="3.0" fill="#a4242c"/>
<circle cx="521.4" cy="575.0" r="3.0" fill="#a4242c"/>
<circle cx="527.7" cy="575.0" r="3.0" fill="#a4242c"/>
<circle cx="534.1" cy="575.0" r="3.0" fill="#a4242c"/>
<circle cx="540.4" cy="575.0" r="3.0" fill="#a4242c"/>
<circle cx="546.7" cy="575.0" r="3.0" fill="#a4242c"/>
<circle cx="553.0" cy="575.0" r="3.0" fill="#a4242c"/>
<circle cx="559.4" cy="575.0" r="3.0" fill="#a4242c"/>
<circle cx="565.7" cy="575.0" r="3.0" fill="#a4242c"/>
<circle cx="572.0" cy="575.0" r="3.0" fill="#a4242c"/>
<circle cx="578.4" cy="575.0" r="3.0" fill="#a4242c"/>
<circle cx="591.3" cy="578.0" r="3.0" fill="#a4242c"/>
<circle cx="585.4" cy="594.5" r="3.0" fill="#a4242c"/>
<circle cx="598.4" cy="595.5" r="3.0" fill="#a4242c"/>
<circle cx="597.7" cy="596.0" r="3.0" fill="#a4242c"/>
<circle cx="604.0" cy="622.0" r="3.0" fill="#a4242c"/>
<circle cx="610.4" cy="604.0" r="3.0" fill="#a4242c"/>
<circle cx="617.4" cy="602.0" r="3.0" fill="#a4242c"/>
<circle cx="623.4" cy="580.4" r="3.0" fill="#a4242c"/>
<circle cx="629.8" cy="575.8" r="3.0" fill="#a4242c"/>
<circle cx="636.4" cy="573.3" r="3.0" fill="#a4242c"/>
<circle cx="642.8" cy="572.9" r="3.0" fill="#a4242c"/>
<circle cx="649.1" cy="572.6" r="3.0" fill="#a4242c"/>
<circle cx="655.4" cy="572.2" r="3.0" fill="#a4242c"/>
<circle cx="661.8" cy="571.9" r="3.0" fill="#a4242c"/>
<circle cx="668.1" cy="571.5" r="3.0" fill="#a4242c"/>
<circle cx="687.8" cy="573.5" r="3.0" fill="#ffffff"/>
<circle cx="700.0" cy="606.8" r="3.0" fill="#a4242c"/>
<circle cx="706.8" cy="573.0" r="3.0" fill="#a4242c"/>
<circle cx="713.1" cy="572.6" r="3.0" fill="#a4242c"/>
<circle cx="719.5" cy="572.2" r="3.0" fill="#a4242c"/>
<circle cx="725.8" cy="571.7" r="3.0" fill="#a4242c"/>
<circle cx="732.2" cy="571.3" r="3.0" fill="#a4242c"/>
<circle cx="738.5" cy="570.9" r="3.0" fill="#a4242c"/>
<circle cx="744.9" cy="570.5" r="3.0" fill="#a4242c"/>
<circle cx="751.2" cy="570.1" r="3.0" fill="#a4242c"/>
<circle cx="757.6" cy="569.7" r="3.0" fill="#a4242c"/>
<circle cx="763.9" cy="569.1" r="3.0" fill="#a4242c"/>
<circle cx="770.3" cy="568.5" r="3.0" fill="#a4242c"/>
<circle cx="776.6" cy="568.0" r="3.0" fill="#a4242c"/>
<circle cx="783.0" cy="568.3" r="3.0" fill="#a4242c"/>
<circle cx="789.3" cy="568.6" r="3.0" fill="#a4242c"/>
<circle cx="795.7" cy="568.8" r="3.0" fill="#a4242c"/>
<circle cx="802.0" cy="569.2" r="3.0" fill="#a4242c"/>
<circle cx="808.4" cy="569.8" r="3.0" fill="#a4242c"/>
<circle cx="814.8" cy="570.4" r="3.0" fill="#a4242c"/>
<circle cx="821.1" cy="571.0" r="3.0" fill="#a4242c"/>
<circle cx="827.4" cy="571.5" r="3.0" fill="#a4242c"/>
<circle cx="833.8" cy="572.1" r="3.0" fill="#a4242c"/>
<circle cx="840.1" cy="572.7" r="3.0" fill="#a4242c"/>
<line x1="361.5" y1="557.7" x2="361.5" y2="636.3" stroke="#000" stroke-width="1" stroke-dasharray="2 2" shape-rendering="crispEdges"/>
<line x1="380.5" y1="557.7" x2="380.5" y2="636.3" stroke="#000" stroke-width="1" stroke-dasharray="2 2" shape-rendering="crispEdges"/>
<line x1="400.5" y1="557.7" x2="400.5" y2="636.3" stroke="#000" stroke-width="1" stroke-dasharray="2 2" shape-rendering="crispEdges"/>
<line x1="419.5" y1="557.7" x2="419.5" y2="636.3" stroke="#000" stroke-width="1" stroke-dasharray="2 2" shape-rendering="crispEdges"/>
<line x1="438.5" y1="557.7" x2="438.5" y2="636.3" stroke="#000" stroke-width="1" stroke-dasharray="2 2" shape-rendering="crispEdges"/>
<line x1="457.5" y1="557.7" x2="457.5" y2="636.3" stroke="#000" stroke-width="1" stroke-dasharray="2 2" shape-rendering="crispEdges"/>
<line x1="476.5" y1="557.7" x2="476.5" y2="636.3" stroke="#000" stroke-width="1" stroke-dasharray="2 2" shape-rendering="crispEdges"/>
<line x1="496.5" y1="557.7" x2="496.5" y2="636.3" stroke="#000" stroke-width="1" stroke-dasharray="2 2" shape-rendering="crispEdges"/>
<line x1="515.5" y1="557.7" x2="515.5" y2="636.3" stroke="#000" stroke-width="1" stroke-dasharray="2 2" shape-rendering="crispEdges"/>
<line x1="534.5" y1="557.7" x2="534.5" y2="636.3" stroke="#000" stroke-width="1" stroke-dasharray="2 2" shape-rendering="crispEdges"/>
<line x1="553.5" y1="557.7" x2="553.5" y2="636.3" stroke="#000" stroke-width="1" stroke-dasharray="2 2" shape-rendering="crispEdges"/>
<line x1="572.5" y1="557.7" x2="572.5" y2="636.3" stroke="#000" stroke-width="1" stroke-dasharray="2 2" shape-rendering="crispEdges"/>
<line x1="591.5" y1="557.7" x2="591.5" y2="636.3" stroke="#000" stroke-width="1" stroke-dasharray="2 2" shape-rendering="crispEdges"/>
<line x1="611.5" y1="557.7" x2="611.5" y2="636.3" stroke="#000" stroke-width="1" stroke-dasharray="2 2" shape-rendering="crispEdges"/>
<line x1="630.5" y1="557.7" x2="630.5" y2="636.3" stroke="#000" stroke-width="1" stroke-dasharray="2 2" shape-rendering="crispEdges"/>
<line x1="649.5" y1="557.7" x2="649.5" y2="636.3" stroke="#000" stroke-width="1" stroke-dasharray="2 2" shape-rendering="crispEdges"/>
<line x1="668.5" y1="557.7" x2="668.5" y2="636.3" stroke="#000" stroke-width="1" stroke-dasharray="2 2" shape-rendering="crispEdges"/>
<line x1="687.5" y1="557.7" x2="687.5" y2="636.3" stroke="#000" stroke-width="1" stroke-dasharray="2 2" shape-rendering="crispEdges"/>
<line x1="707.5" y1="557.7" x2="707.5" y2="636.3" stroke="#000" stroke-width="1" stroke-dasharray="2 2" shape-rendering="crispEdges"/>
<line x1="726.5" y1="557.7" x2="726.5" y2="636.3" stroke="#000" stroke-width="1" stroke-dasharray="2 2" shape-rendering="crispEdges"/>
<line x1="745.5" y1="557.7" x2="745.5" y2="636.3" stroke="#000" stroke-width="1" stroke-dasharray="2 2" shape-rendering="crispEdges"/>
<line x1="764.5" y1="557.7" x2="764.5" y2="636.3" stroke="#000" stroke-width="1" stroke-dasharray="2 2" shape-rendering="crispEdges"/>
<line x1="783.5" y1="557.7" x2="783.5" y2="636.3" stroke="#000" stroke-width="1" stroke-dasharray="2 2" shape-rendering="crispEdges"/>
<line x1="802.5" y1="557.7" x2="802.5" y2="636.3" stroke="#000" stroke-width="1" stroke-dasharray="2 2" shape-rendering="crispEdges"/>
<line x1="822.5" y1="557.7" x2="822.5" y2="636.3" stroke="#000" stroke-width="1" stroke-dasharray="2 2" shape-rendering="crispEdges"/>
<line x1="348.5" y1="577.5" x2="841.5" y2="577.5" stroke="#000" stroke-width="1" stroke-dasharray="2 2" shape-rendering="crispEdges"/>
<line x1="348.5" y1="597.5" x2="841.5" y2="597.5" stroke="#000" stroke-width="1" stroke-dasharray="2 2" shape-rendering="crispEdges"/>
<line x1="348.5" y1="616.5" x2="841.5" y2="616.5" stroke="#000" stroke-width="1" stroke-dasharray="2 2" shape-rendering="crispEdges"/>
<polyline points="348.6,575.0 364.4,578.6 373.0,585.6 396.0,592.6 415.4,593.7 425.0,598.0 429.5,626.0 434.7,633.0 450.5,634.0 455.8,628.0 464.0,592.6 473.4,592.0 491.0,585.6 505.0,582.0 526.0,582.0 540.0,589.0 558.0,594.4 575.4,602.0 591.0,608.5 594.7,626.0 600.0,633.0 604.0,634.0 630.4,633.0 634.0,622.5 639.0,605.0 644.5,597.0 665.6,595.4 672.6,602.0 685.0,596.8 702.5,596.0 730.6,599.6 758.8,602.0 776.4,596.0 788.7,593.7 797.5,596.0 804.5,603.0 815.0,604.2 822.0,596.0 836.0,590.0 841.4,591.0" fill="none" stroke="#ff9a08" stroke-width="2.1" stroke-linejoin="round"/>
<line x1="348.0" y1="557.7" x2="842.0" y2="557.7" stroke="#5a5a5a" stroke-width="1.3"/>
<line x1="348.5" y1="557.7" x2="348.5" y2="636.3" stroke="#000" stroke-width="1.2"/>
<line x1="841.5" y1="557.7" x2="841.5" y2="636.3" stroke="#000" stroke-width="1.2"/>
<line x1="348.0" y1="636.3" x2="842.0" y2="636.3" stroke="#000" stroke-width="1.2"/>
<text x="344.5" y="564.3" font-size="12" fill="#000" text-anchor="end" >15.0</text>
<text x="344.5" y="581.8" font-size="12" fill="#000" text-anchor="end" >7.0</text>
<text x="344.5" y="601.3" font-size="12" fill="#000" text-anchor="end" >2.0</text>
<text x="344.5" y="620.9" font-size="12" fill="#000" text-anchor="end" >0.5</text>
<text x="344.5" y="640.3" font-size="12" fill="#000" text-anchor="end" >0.0</text>
<text x="844.7" y="561.6" font-size="12" fill="#ff8c00" text-anchor="start" >100</text>
<text x="844.7" y="581.8" font-size="12" fill="#ff8c00" text-anchor="start" >20</text>
<text x="844.7" y="601.3" font-size="12" fill="#ff8c00" text-anchor="start" >5</text>
<text x="844.7" y="620.9" font-size="12" fill="#ff8c00" text-anchor="start" >1</text>
<text x="844.7" y="639.3" font-size="12" fill="#ff8c00" text-anchor="start" >0</text>
<text transform="translate(294,543) rotate(-90)" font-size="12" fill="#1212a8" text-anchor="end">wysokie pion. rozciągł. chm.</text>
<text transform="translate(306.5,595.0) rotate(-90)" font-size="12" fill="#1212a8" text-anchor="middle" >(km)</text>
<text transform="translate(892.3,595.5) rotate(-90)" font-size="12" fill="#1212a8" text-anchor="middle" >(km)</text>
<text transform="translate(906.6,595.5) rotate(-90)" font-size="12" fill="#1212a8" text-anchor="middle" >widzialność</text>
<rect x="348.5" y="645.3" width="493.0" height="54.7" fill="#89d7fd"/>
<rect x="370.3" y="645.3" width="80.9" height="54.7" fill="rgba(20,20,90,0.09)"/>
<rect x="524.2" y="645.3" width="80.2" height="54.7" fill="rgba(20,20,90,0.09)"/>
<rect x="677.8" y="645.3" width="80.0" height="54.7" fill="rgba(20,20,90,0.09)"/>
<rect x="831.3" y="645.3" width="10.2" height="54.7" fill="rgba(20,20,90,0.09)"/>
<polygon points="592.5,662.0 595.0,653.0 599.0,649.0 606.0,647.5 632.0,647.3 638.0,648.8 650.0,660.0 650.0,662.0" fill="#585858"/>
<polygon points="749.5,662.0 752.0,655.8 755.5,657.5 761.8,654.5 764.5,662.0" fill="#8a8a8a"/>
<polygon points="784.5,662.0 788.4,652.0 792.0,649.0 797.0,647.3 823.4,647.3 830.7,651.0 841.5,658.0 841.5,662.0" fill="#585858"/>
<polyline points="790.5,661.0 797.0,650.5 804.0,648.0 823.0,648.2 830.5,652.5 838.0,657.5" fill="none" stroke="#b4b4b4" stroke-width="0.8"/>
<rect x="436.8" y="655.8" width="2.5" height="10.0" fill="#ffb000"/>
<rect x="443.0" y="653.3" width="2.5" height="10.0" fill="#ffb000"/>
<rect x="449.8" y="654.5" width="2.5" height="10.0" fill="#ffb000"/>
<rect x="603.8" y="653.0" width="2.5" height="12.0" fill="#ffb000"/>
<rect x="609.8" y="649.0" width="2.5" height="12.0" fill="#ffb000"/>
<rect x="615.8" y="651.0" width="2.5" height="12.0" fill="#ffb000"/>
<rect x="623.1" y="654.5" width="2.5" height="12.0" fill="#ffb000"/>
<line x1="361.5" y1="645.3" x2="361.5" y2="700.0" stroke="#000" stroke-width="1" stroke-dasharray="2 2" shape-rendering="crispEdges"/>
<line x1="380.5" y1="645.3" x2="380.5" y2="700.0" stroke="#000" stroke-width="1" stroke-dasharray="2 2" shape-rendering="crispEdges"/>
<line x1="400.5" y1="645.3" x2="400.5" y2="700.0" stroke="#000" stroke-width="1" stroke-dasharray="2 2" shape-rendering="crispEdges"/>
<line x1="419.5" y1="645.3" x2="419.5" y2="700.0" stroke="#000" stroke-width="1" stroke-dasharray="2 2" shape-rendering="crispEdges"/>
<line x1="438.5" y1="645.3" x2="438.5" y2="700.0" stroke="#000" stroke-width="1" stroke-dasharray="2 2" shape-rendering="crispEdges"/>
<line x1="457.5" y1="645.3" x2="457.5" y2="700.0" stroke="#000" stroke-width="1" stroke-dasharray="2 2" shape-rendering="crispEdges"/>
<line x1="476.5" y1="645.3" x2="476.5" y2="700.0" stroke="#000" stroke-width="1" stroke-dasharray="2 2" shape-rendering="crispEdges"/>
<line x1="496.5" y1="645.3" x2="496.5" y2="700.0" stroke="#000" stroke-width="1" stroke-dasharray="2 2" shape-rendering="crispEdges"/>
<line x1="515.5" y1="645.3" x2="515.5" y2="700.0" stroke="#000" stroke-width="1" stroke-dasharray="2 2" shape-rendering="crispEdges"/>
<line x1="534.5" y1="645.3" x2="534.5" y2="700.0" stroke="#000" stroke-width="1" stroke-dasharray="2 2" shape-rendering="crispEdges"/>
<line x1="553.5" y1="645.3" x2="553.5" y2="700.0" stroke="#000" stroke-width="1" stroke-dasharray="2 2" shape-rendering="crispEdges"/>
<line x1="572.5" y1="645.3" x2="572.5" y2="700.0" stroke="#000" stroke-width="1" stroke-dasharray="2 2" shape-rendering="crispEdges"/>
<line x1="591.5" y1="645.3" x2="591.5" y2="700.0" stroke="#000" stroke-width="1" stroke-dasharray="2 2" shape-rendering="crispEdges"/>
<line x1="611.5" y1="645.3" x2="611.5" y2="700.0" stroke="#000" stroke-width="1" stroke-dasharray="2 2" shape-rendering="crispEdges"/>
<line x1="630.5" y1="645.3" x2="630.5" y2="700.0" stroke="#000" stroke-width="1" stroke-dasharray="2 2" shape-rendering="crispEdges"/>
<line x1="649.5" y1="645.3" x2="649.5" y2="700.0" stroke="#000" stroke-width="1" stroke-dasharray="2 2" shape-rendering="crispEdges"/>
<line x1="668.5" y1="645.3" x2="668.5" y2="700.0" stroke="#000" stroke-width="1" stroke-dasharray="2 2" shape-rendering="crispEdges"/>
<line x1="687.5" y1="645.3" x2="687.5" y2="700.0" stroke="#000" stroke-width="1" stroke-dasharray="2 2" shape-rendering="crispEdges"/>
<line x1="707.5" y1="645.3" x2="707.5" y2="700.0" stroke="#000" stroke-width="1" stroke-dasharray="2 2" shape-rendering="crispEdges"/>
<line x1="726.5" y1="645.3" x2="726.5" y2="700.0" stroke="#000" stroke-width="1" stroke-dasharray="2 2" shape-rendering="crispEdges"/>
<line x1="745.5" y1="645.3" x2="745.5" y2="700.0" stroke="#000" stroke-width="1" stroke-dasharray="2 2" shape-rendering="crispEdges"/>
<line x1="764.5" y1="645.3" x2="764.5" y2="700.0" stroke="#000" stroke-width="1" stroke-dasharray="2 2" shape-rendering="crispEdges"/>
<line x1="783.5" y1="645.3" x2="783.5" y2="700.0" stroke="#000" stroke-width="1" stroke-dasharray="2 2" shape-rendering="crispEdges"/>
<line x1="802.5" y1="645.3" x2="802.5" y2="700.0" stroke="#000" stroke-width="1" stroke-dasharray="2 2" shape-rendering="crispEdges"/>
<line x1="822.5" y1="645.3" x2="822.5" y2="700.0" stroke="#000" stroke-width="1" stroke-dasharray="2 2" shape-rendering="crispEdges"/>
<line x1="348.0" y1="645.3" x2="842.0" y2="645.3" stroke="#5a5a5a" stroke-width="1.3"/>
<line x1="348.5" y1="645.3" x2="348.5" y2="700.0" stroke="#000" stroke-width="1.2"/>
<line x1="841.5" y1="645.3" x2="841.5" y2="700.0" stroke="#000" stroke-width="1.2"/>
<text x="344.5" y="652.5" font-size="12" fill="#000" text-anchor="end" >8</text>
<text x="844.7" y="649.6" font-size="12" fill="#ff8c00" text-anchor="start" >1</text>
<clipPath id="wm"><rect x="349" y="264" width="492" height="252"/></clipPath>
<g clip-path="url(#wm)" fill="none" stroke="#ffffff" stroke-opacity="0.2" stroke-linecap="butt">
<path d="M463.3 291.5 A96 96 0 0 0 463.3 480.5" stroke-width="15"/>
<path d="M548 262 C 533 288 526 318 530 348" stroke-width="12"/>
<path d="M682 340 C 700 358 709 380 706 404" stroke-width="14"/>
</g>
<defs>
<linearGradient id="bg1" x1="0" y1="0" x2="1" y2="0">
<stop offset="0" stop-color="#0f4ea6"/><stop offset="0.38" stop-color="#1354ab"/><stop offset="0.52" stop-color="#2b68bb"/><stop offset="0.7" stop-color="#1f5fb5"/><stop offset="1" stop-color="#1555ad"/>
</linearGradient>
<radialGradient id="bg2" cx="0.62" cy="0.1" r="0.45"><stop offset="0" stop-color="#4a86d0" stop-opacity="0.55"/><stop offset="1" stop-color="#4a86d0" stop-opacity="0"/></radialGradient>
<clipPath id="bclip"><rect x="280" y="0" width="630" height="120"/></clipPath>
</defs>
<rect x="280.0" y="0.0" width="630.0" height="120.0" fill="url(#bg1)"/>
<rect x="280.0" y="0.0" width="630.0" height="120.0" fill="url(#bg2)"/>
<g clip-path="url(#bclip)">
<rect x="592.3" y="5.5" width="52.2" height="130.0" rx="8" fill="#2c2e30"/>
<rect x="593.3" y="6.3" width="50.4" height="130.0" rx="7.5" fill="#07090c"/>
<rect x="595.2" y="8.2" width="46.6" height="130.0" rx="6" fill="#0b0d11"/>
<path d="M595.2 58 V14 Q595.2 8.2 601 8.2 H636 Q641.8 8.2 641.8 14 V58 Z" fill="#0d1e3a"/>
<rect x="612.0" y="11.8" width="16.0" height="4.6" rx="2.3" fill="#020304"/>
<rect x="600.0" y="19.5" width="34.0" height="8.5" rx="2" fill="#060d1c"/>
<circle cx="638.2" cy="27.2" r="2.4" fill="#0a1326"/>
<circle cx="638.2" cy="27.2" r="1.1" fill="#c8d0dc"/>
<text x="621.0" y="44.5" font-size="8" fill="#ffffff" text-anchor="start" font-weight="bold" textLength="11" lengthAdjust="spacingAndGlyphs">2.5°</text>
<circle cx="613.5" cy="39.5" r="2.6" fill="#aebdd4"/>
<circle cx="615.8" cy="41.2" r="2.0" fill="#8ea2c0"/>
<rect x="609.0" y="48.5" width="7.5" height="4.5" rx="1" fill="none" stroke="#3a557e" stroke-width="0.5"/>
<rect x="618.0" y="48.5" width="7.5" height="4.5" rx="1" fill="none" stroke="#3a557e" stroke-width="0.5"/>
<rect x="599.5" y="61.0" width="9.0" height="20.0" rx="1.5" fill="#14171d"/>
<rect x="610.0" y="61.0" width="9.0" height="20.0" rx="1.5" fill="#14171d"/>
<rect x="620.5" y="61.0" width="9.0" height="20.0" rx="1.5" fill="#14171d"/>
<circle cx="604.0" cy="70.0" r="1.5" fill="#2c4c86"/>
<circle cx="614.5" cy="70.0" r="1.5" fill="#2c4c86"/>
<rect x="599.5" y="84.5" width="25.0" height="7.0" rx="1.5" fill="#14171d"/>
<rect x="601.5" y="87.0" width="17.0" height="1.6" fill="#8a9099"/>
<rect x="599.5" y="95.0" width="25.0" height="7.0" rx="1.5" fill="#14171d"/>
<rect x="601.5" y="97.6" width="7.0" height="1.6" fill="#8a9099"/>
<circle cx="620.5" cy="98.5" r="1.4" fill="#2c4c86"/>
<rect x="599.5" y="106.0" width="25.0" height="7.0" rx="1.5" fill="#14171d"/>
<rect x="601.5" y="108.6" width="6.0" height="1.6" fill="#8a9099"/>
<circle cx="620.5" cy="109.5" r="1.4" fill="#2c4c86"/>
<rect x="599.5" y="117.0" width="25.0" height="7.0" rx="1.5" fill="#14171d"/>
<rect x="649.6" y="21.0" width="50.8" height="110.0" rx="8" fill="#2e3032"/>
<rect x="650.6" y="21.9" width="49.0" height="110.0" rx="7.5" fill="#08090b"/>
<rect x="652.6" y="23.9" width="45.0" height="110.0" rx="6" fill="#3c3f3a"/>
<polygon points="652.6,50.0 668.0,46.0 684.0,52.0 697.6,48.0 697.6,70.0 690.0,78.0 697.6,92.0 697.6,120.0 652.6,120.0" fill="#4a4d46"/>
<polygon points="672.0,58.0 684.0,56.0 690.0,66.0 688.0,80.0 692.0,92.0 686.0,108.0 676.0,112.0 678.0,96.0 672.0,84.0 676.0,72.0" fill="#8e8872"/>
<polygon points="676.0,64.0 684.0,62.0 686.0,74.0 680.0,82.0 676.0,76.0" fill="#b0a88c"/>
<polygon points="680.0,90.0 688.0,88.0 688.0,102.0 681.0,106.0" fill="#a09a80"/>
<polygon points="660.0,70.0 668.0,66.0 670.0,80.0 664.0,92.0 658.0,86.0" fill="#2c2f2a"/>
<polygon points="656.0,100.0 668.0,98.0 672.0,112.0 660.0,120.0 654.0,114.0" fill="#2a2c28"/>
<rect x="665.0" y="26.6" width="17.0" height="4.8" rx="2.4" fill="#020304"/>
<circle cx="662.8" cy="28.8" r="1.1" fill="#7ad040"/>
<rect x="654.4" y="36.0" width="30.6" height="8.3" rx="1.5" fill="#d2d5d0"/>
<circle cx="689.2" cy="38.8" r="3.6" fill="#eceeea"/>
<circle cx="689.2" cy="38.3" r="1.5" fill="#2a2c2a"/>
<rect x="688.5" y="98.0" width="6.5" height="20.0" fill="#c8c6b4" opacity="0.75"/>
<rect x="622.4" y="45.4" width="51.6" height="90.0" rx="8" fill="#303234"/>
<rect x="623.4" y="46.3" width="49.8" height="90.0" rx="7.5" fill="#08090b"/>
<rect x="626.3" y="49.0" width="40.9" height="90.0" rx="5" fill="#f6f7f8"/>
<rect x="667.2" y="52.0" width="5.0" height="84.0" fill="#111315"/>
<rect x="639.5" y="50.6" width="14.0" height="4.7" rx="2.3" fill="#020304"/>
<rect x="626.5" y="57.8" width="33.0" height="7.4" rx="1.2" fill="#1e2226"/>
<circle cx="663.3" cy="60.7" r="2.6" fill="#1e2226"/>
<circle cx="663.3" cy="60.7" r="1.1" fill="#e8e8e8"/>
<rect x="627.5" y="73.5" width="8.0" height="1.0" fill="#6a7ad0"/>
<rect x="658.0" y="72.5" width="8.0" height="1.4" fill="#6a7ad0"/>
<rect x="628.5" y="77.0" width="37.0" height="36.5" fill="#ffffff" stroke="#b8bcc0" stroke-width="0.3"/>
<polygon points="628.5,84.5 634.0,84.0 640.0,83.5 646.0,82.5 652.0,81.0 658.0,80.5 662.0,79.5 665.5,80.5 665.5,88.3 628.5,88.3" fill="#7ec8f4"/>
<polygon points="628.5,86.5 640.0,86.0 652.0,85.0 665.5,84.0 665.5,88.3 628.5,88.3" fill="#48a8d8"/>
<polyline points="628.5,83.0 634.0,82.6 640.0,82.0 646.0,81.0 652.0,79.8 658.0,79.4 662.0,78.0 665.5,79.4" fill="none" stroke="#e03030" stroke-width="0.7"/>
<polyline points="628.5,84.6 634.0,84.2 640.0,83.8 646.0,82.8 652.0,81.4 658.0,81.0 662.0,79.8 665.5,81.0" fill="none" stroke="#2030d0" stroke-width="0.6"/>
<polyline points="629.0,91.0 632.0,90.0 634.0,93.0 636.0,97.0 638.0,94.0 641.0,91.5 644.0,92.0 647.0,95.5 650.0,98.0 654.0,94.0 658.0,92.0 662.0,91.5 665.0,93.0" fill="none" stroke="#e06848" stroke-width="0.6"/>
<polyline points="629.0,104.0 640.0,104.0 648.0,103.5 651.0,99.0 653.0,104.0 656.0,108.0 660.0,104.0 665.0,104.0" fill="none" stroke="#a8a8a8" stroke-width="0.5"/>
<polyline points="650.0,104.0 651.5,99.5 653.0,104.0" fill="none" stroke="#30a030" stroke-width="0.6"/>
<rect x="628.5" y="113.6" width="37.0" height="7.0" fill="#e8f030"/>
<rect x="636.0" y="114.2" width="8.0" height="6.4" fill="#b8e038"/>
<rect x="652.0" y="114.2" width="7.0" height="6.4" fill="#c8e838"/>
</g>
<text x="311.5" y="39.8" font-size="20" fill="#fff" textLength="157" lengthAdjust="spacingAndGlyphs">Oficjalna aplikacja</text>
<text x="311.5" y="67.8" font-size="20" fill="#fff" textLength="210" lengthAdjust="spacingAndGlyphs"><tspan font-weight="bold">Meteo ICM</tspan> do pobrania</text>
<text x="311.5" y="95.8" font-size="20" fill="#fff" textLength="225.5" lengthAdjust="spacingAndGlyphs">w Google Play i App Store</text>
<text x="764.4" y="89.8" font-size="21" font-weight="bold" fill="#fff" stroke="#fff" stroke-width="0.5" textLength="90" lengthAdjust="spacingAndGlyphs">ıcmmeteo</text>
<path d="M771.5 73.5 C769 66.5 760.5 67.5 755.5 76.5 C750.5 85.5 750 95 754.5 97.8 C757.5 99.5 761.5 97.5 764.5 94.5" fill="none" stroke="#fff" stroke-width="1.7" stroke-linecap="round"/>
<path d="M752.3 88 C751.6 93 752.5 96.6 754.5 97.8 C757 99 760 98 762.5 96" fill="none" stroke="#fff" stroke-width="2.6" stroke-linecap="round"/>
<circle cx="769.0" cy="74.2" r="2.0" fill="#fff"/>
<rect x="860.0" y="72.6" width="26.0" height="25.2" rx="2.2" fill="#fff"/>
<text x="864.6" y="91.6" font-size="15" font-weight="bold" fill="#1a56a8" textLength="12.2" lengthAdjust="spacingAndGlyphs">M</text>
<circle cx="880.6" cy="80.8" r="1.7" fill="none" stroke="#1a56a8" stroke-width="1.2"/>
<rect x="170.0" y="30.0" width="62.0" height="599.0" fill="#ebf2fc"/>
<text x="164.0" y="51.3" font-size="10.67" fill="#000" text-anchor="middle" >20</text>
<text x="205.5" y="51.3" font-size="10.67" fill="#000" text-anchor="middle" >02</text>
<text x="243.8" y="51.3" font-size="10.67" fill="#000" text-anchor="middle" >08</text>
<clipPath id="l1"><rect x="135.6" y="57.2" width="110.20000000000002" height="77.10000000000001"/></clipPath><g clip-path="url(#l1)">
<rect x="135.6" y="111.4" width="110.2" height="30.0" fill="#89d7fd"/>
<polygon points="135.6,98.5 141.0,99.0 147.0,101.0 155.0,104.5 163.0,107.0 172.0,109.0 180.0,110.8 190.0,112.0 200.0,113.8 213.0,114.8 218.0,113.0 222.0,113.5 229.0,117.5 233.0,118.5 238.0,114.5 242.0,112.0 245.8,111.8 245.8,126.6 242.0,126.9 238.0,129.4 233.0,133.5 229.0,132.6 222.0,128.8 218.0,128.3 213.0,130.2 200.0,129.5 190.0,127.9 180.0,126.9 172.0,125.3 163.0,123.4 155.0,121.1 147.0,117.8 141.0,115.9 135.6,115.5" fill="#b4e0fb" fill-opacity="0.9"/>
<polygon points="135.6,111.4 150.0,111.4 170.0,116.0 190.0,122.0 205.0,127.0 215.0,131.0 225.0,134.3 135.6,134.3" fill="#89d7fd"/>
<polygon points="232.0,134.3 237.0,128.0 245.8,124.0 245.8,134.3" fill="#89d7fd"/>
<polygon points="135.6,89.0 141.0,89.1 147.0,91.2 155.0,94.9 163.0,98.6 172.0,102.2 180.0,103.4 190.0,103.4 200.0,103.9 213.0,104.8 225.0,107.3 229.0,109.4 233.0,110.5 238.0,107.6 242.0,104.6 245.8,103.7 245.8,119.5 242.0,120.5 238.0,123.5 233.0,126.5 229.0,125.5 225.0,123.5 213.0,121.2 200.0,120.6 190.0,120.3 180.0,120.5 172.0,119.5 163.0,116.0 155.0,112.5 147.0,109.0 141.0,107.0 135.6,107.0" fill="#ffe2da" fill-opacity="0.85"/>
<rect x="170.0" y="111.4" width="61.5" height="23.0" fill="rgba(20,20,90,0.09)"/>
</g>
<line x1="143.5" y1="57.2" x2="143.5" y2="134.3" stroke="#000" stroke-width="1" stroke-dasharray="2 2" shape-rendering="crispEdges"/>
<line x1="164.5" y1="57.2" x2="164.5" y2="134.3" stroke="#000" stroke-width="1" stroke-dasharray="2 2" shape-rendering="crispEdges"/>
<line x1="184.5" y1="57.2" x2="184.5" y2="134.3" stroke="#000" stroke-width="1" stroke-dasharray="2 2" shape-rendering="crispEdges"/>
<line x1="204.5" y1="57.2" x2="204.5" y2="134.3" stroke="#000" stroke-width="1" stroke-dasharray="2 2" shape-rendering="crispEdges"/>
<line x1="225.5" y1="57.2" x2="225.5" y2="134.3" stroke="#000" stroke-width="1" stroke-dasharray="2 2" shape-rendering="crispEdges"/>
<line x1="135.6" y1="59.5" x2="245.8" y2="59.5" stroke="#000" stroke-width="1" stroke-dasharray="2 2" shape-rendering="crispEdges"/>
<line x1="135.6" y1="77.5" x2="245.8" y2="77.5" stroke="#000" stroke-width="1" stroke-dasharray="2 2" shape-rendering="crispEdges"/>
<line x1="135.6" y1="94.5" x2="245.8" y2="94.5" stroke="#000" stroke-width="1" stroke-dasharray="2 2" shape-rendering="crispEdges"/>
<line x1="135.6" y1="111.5" x2="245.8" y2="111.5" stroke="#000" stroke-width="1" stroke-dasharray="2 2" shape-rendering="crispEdges"/>
<line x1="135.6" y1="129.5" x2="245.8" y2="129.5" stroke="#000" stroke-width="1" stroke-dasharray="2 2" shape-rendering="crispEdges"/>
<g clip-path="url(#l1)">
<line x1="142.1" y1="70.0" x2="142.1" y2="104.0" stroke="#a81818" stroke-width="1.1"/>
<line x1="149.2" y1="77.0" x2="149.2" y2="108.0" stroke="#a81818" stroke-width="1.1"/>
<line x1="156.3" y1="87.0" x2="156.3" y2="108.0" stroke="#a81818" stroke-width="1.1"/>
<line x1="163.4" y1="95.0" x2="163.4" y2="112.0" stroke="#a81818" stroke-width="1.1"/>
<line x1="170.5" y1="100.0" x2="170.5" y2="116.0" stroke="#a81818" stroke-width="1.1"/>
<line x1="177.6" y1="103.0" x2="177.6" y2="119.0" stroke="#a81818" stroke-width="1.1"/>
<line x1="184.7" y1="105.0" x2="184.7" y2="121.0" stroke="#a81818" stroke-width="1.1"/>
<line x1="191.8" y1="107.0" x2="191.8" y2="124.0" stroke="#a81818" stroke-width="1.1"/>
<line x1="198.9" y1="108.0" x2="198.9" y2="126.0" stroke="#a81818" stroke-width="1.1"/>
<line x1="206.0" y1="108.5" x2="206.0" y2="128.0" stroke="#a81818" stroke-width="1.1"/>
<line x1="213.1" y1="109.0" x2="213.1" y2="130.0" stroke="#a81818" stroke-width="1.1"/>
<line x1="220.2" y1="110.0" x2="220.2" y2="131.0" stroke="#a81818" stroke-width="1.1"/>
<line x1="227.3" y1="110.5" x2="227.3" y2="133.0" stroke="#a81818" stroke-width="1.1"/>
<line x1="234.4" y1="110.0" x2="234.4" y2="133.0" stroke="#a81818" stroke-width="1.1"/>
<line x1="241.5" y1="106.0" x2="241.5" y2="121.0" stroke="#a81818" stroke-width="1.1"/>
<rect x="134.8" y="112.6" width="2.6" height="2.4" fill="#7a62d8"/>
<rect x="141.9" y="112.6" width="2.6" height="2.4" fill="#7a62d8"/>
<rect x="149.0" y="112.6" width="2.6" height="2.4" fill="#7a62d8"/>
<rect x="156.1" y="112.6" width="2.6" height="2.4" fill="#7a62d8"/>
<rect x="163.2" y="112.6" width="2.6" height="2.4" fill="#7a62d8"/>
<rect x="170.3" y="112.6" width="2.6" height="2.4" fill="#7a62d8"/>
<rect x="177.4" y="114.6" width="2.6" height="2.4" fill="#7a62d8"/>
<rect x="184.5" y="114.6" width="2.6" height="2.4" fill="#7a62d8"/>
<rect x="191.6" y="114.6" width="2.6" height="2.4" fill="#7a62d8"/>
<rect x="198.7" y="114.6" width="2.6" height="2.4" fill="#7a62d8"/>
<rect x="205.8" y="114.6" width="2.6" height="2.4" fill="#7a62d8"/>
<rect x="212.9" y="114.6" width="2.6" height="2.4" fill="#7a62d8"/>
<rect x="220.0" y="118.6" width="2.6" height="2.4" fill="#7a62d8"/>
<rect x="227.1" y="118.6" width="2.6" height="2.4" fill="#7a62d8"/>
<rect x="234.2" y="109.6" width="2.6" height="2.4" fill="#7a62d8"/>
<rect x="241.3" y="109.6" width="2.6" height="2.4" fill="#7a62d8"/>
<polyline points="135.6,102.5 141.0,103.0 147.0,105.0 155.0,108.5 163.0,111.0 172.0,113.0 180.0,114.8 190.0,116.0 200.0,117.8 213.0,118.8 218.0,117.0 222.0,117.5 229.0,121.5 233.0,122.5 238.0,118.5 242.0,116.0 245.8,115.8" fill="none" stroke="#0000f0" stroke-width="2.3" stroke-linejoin="round"/>
<polyline points="135.6,99.0 141.0,99.0 147.0,101.0 155.0,104.5 163.0,108.0 172.0,111.5 180.0,112.5 190.0,112.3 200.0,112.6 213.0,113.2 225.0,115.5 229.0,117.5 233.0,118.5 238.0,115.5 242.0,112.5 245.8,111.5" fill="none" stroke="#ff0000" stroke-width="2.3" stroke-linejoin="round"/>
</g>
<line x1="135.1" y1="57.2" x2="246.3" y2="57.2" stroke="#555" stroke-width="1.4"/>
<line x1="135.6" y1="57.2" x2="135.6" y2="134.3" stroke="#000" stroke-width="1.2"/>
<line x1="245.8" y1="57.2" x2="245.8" y2="134.3" stroke="#000" stroke-width="1.2"/>
<line x1="135.1" y1="134.3" x2="246.3" y2="134.3" stroke="#000" stroke-width="1.2"/>
<text x="128.5" y="63.2" font-size="10.67" fill="#000" text-anchor="end" >30</text>
<text x="266.5" y="63.2" font-size="10.67" fill="#000" text-anchor="end" >30</text>
<text x="128.5" y="81.4" font-size="10.67" fill="#000" text-anchor="end" >20</text>
<text x="266.5" y="81.4" font-size="10.67" fill="#000" text-anchor="end" >20</text>
<text x="128.5" y="98.6" font-size="10.67" fill="#000" text-anchor="end" >10</text>
<text x="266.5" y="98.6" font-size="10.67" fill="#000" text-anchor="end" >10</text>
<text x="128.5" y="115.4" font-size="10.67" fill="#000" text-anchor="end" >0</text>
<text x="266.5" y="115.4" font-size="10.67" fill="#000" text-anchor="end" >0</text>
<text x="128.5" y="133.2" font-size="10.67" fill="#000" text-anchor="end" >-10</text>
<text x="266.5" y="133.2" font-size="10.67" fill="#000" text-anchor="end" >-10</text>
<polygon points="135.6,220.4 135.6,187.0 143.1,187.0 143.1,181.0 150.4,181.0 150.4,179.0 157.4,179.0 157.4,201.6 163.9,201.6 163.9,207.7 169.8,207.7 169.8,218.0 176.9,218.0 176.9,220.4" fill="#089c10"/>
<rect x="157.4" y="182.0" width="6.5" height="19.6" fill="#1030d0"/>
<rect x="163.9" y="204.8" width="5.9" height="2.9" fill="#1030d0"/>
<line x1="143.5" y1="143.4" x2="143.5" y2="220.4" stroke="#000" stroke-width="1" stroke-dasharray="2 2" shape-rendering="crispEdges"/>
<line x1="164.5" y1="143.4" x2="164.5" y2="220.4" stroke="#000" stroke-width="1" stroke-dasharray="2 2" shape-rendering="crispEdges"/>
<line x1="184.5" y1="143.4" x2="184.5" y2="220.4" stroke="#000" stroke-width="1" stroke-dasharray="2 2" shape-rendering="crispEdges"/>
<line x1="204.5" y1="143.4" x2="204.5" y2="220.4" stroke="#000" stroke-width="1" stroke-dasharray="2 2" shape-rendering="crispEdges"/>
<line x1="225.5" y1="143.4" x2="225.5" y2="220.4" stroke="#000" stroke-width="1" stroke-dasharray="2 2" shape-rendering="crispEdges"/>
<line x1="135.6" y1="150.5" x2="245.8" y2="150.5" stroke="#000" stroke-width="1" stroke-dasharray="2 2" shape-rendering="crispEdges"/>
<line x1="135.6" y1="167.5" x2="245.8" y2="167.5" stroke="#000" stroke-width="1" stroke-dasharray="2 2" shape-rendering="crispEdges"/>
<line x1="135.6" y1="185.5" x2="245.8" y2="185.5" stroke="#000" stroke-width="1" stroke-dasharray="2 2" shape-rendering="crispEdges"/>
<line x1="135.6" y1="203.5" x2="245.8" y2="203.5" stroke="#000" stroke-width="1" stroke-dasharray="2 2" shape-rendering="crispEdges"/>
<line x1="139.6" y1="165.0" x2="139.6" y2="187.0" stroke="#10b010" stroke-width="1"/>
<line x1="146.5" y1="147.0" x2="146.5" y2="181.0" stroke="#10b010" stroke-width="1"/>
<line x1="153.6" y1="147.0" x2="153.6" y2="179.0" stroke="#10b010" stroke-width="1"/>
<line x1="160.8" y1="171.0" x2="160.8" y2="182.0" stroke="#1030d0" stroke-width="1"/>
<rect x="145.3" y="145.5" width="2.6" height="3.0" fill="#f00000"/>
<rect x="152.4" y="145.5" width="2.6" height="3.0" fill="#f00000"/>
<circle cx="139.4" cy="173" r="2.4" fill="#ffe000" stroke="#000" stroke-width="0.9"/>
<circle cx="146.5" cy="173" r="2.4" fill="#ff9c00" stroke="#000" stroke-width="0.9"/>
<circle cx="153.6" cy="173" r="2.4" fill="#f00000" stroke="#000" stroke-width="0.9"/>
<rect x="137.7" y="219.4" width="2.6" height="1.4" fill="#f00000"/>
<rect x="144.7" y="219.4" width="2.6" height="1.4" fill="#f00000"/>
<rect x="151.7" y="219.4" width="2.6" height="1.4" fill="#f00000"/>
<rect x="158.7" y="219.4" width="2.6" height="1.4" fill="#f00000"/>
<polyline points="135.6,172.5 140.0,170.0 145.0,165.0 150.0,158.5 156.0,155.0 163.0,152.5 172.0,152.2 184.0,152.4 190.0,149.5 195.0,148.8 198.0,149.0 203.0,153.5 208.0,155.5 213.0,155.8 219.0,152.5 225.0,149.8 230.0,150.2 236.0,153.5 241.0,158.5 245.8,165.5" fill="none" stroke="#e2501e" stroke-width="1.9" stroke-linejoin="round"/>
<line x1="135.1" y1="143.4" x2="246.3" y2="143.4" stroke="#555" stroke-width="1.4"/>
<line x1="135.6" y1="143.4" x2="135.6" y2="220.4" stroke="#000" stroke-width="1.2"/>
<line x1="245.8" y1="143.4" x2="245.8" y2="220.4" stroke="#000" stroke-width="1.2"/>
<line x1="135.1" y1="220.4" x2="246.3" y2="220.4" stroke="#000" stroke-width="1.2"/>
<text x="128.5" y="154.4" font-size="10.67" fill="#000" text-anchor="end" >2.0</text>
<text x="128.5" y="171.6" font-size="10.67" fill="#000" text-anchor="end" >1.5</text>
<text x="128.5" y="189.4" font-size="10.67" fill="#000" text-anchor="end" >1.0</text>
<text x="128.5" y="207.2" font-size="10.67" fill="#000" text-anchor="end" >0.5</text>
<text x="128.5" y="224.4" font-size="10.67" fill="#000" text-anchor="end" >0.0</text>
<text x="254.0" y="154.4" font-size="10.67" fill="#e2501e" text-anchor="start" >96</text>
<text x="254.0" y="171.6" font-size="10.67" fill="#e2501e" text-anchor="start" >84</text>
<text x="254.0" y="189.4" font-size="10.67" fill="#e2501e" text-anchor="start" >73</text>
<text x="254.0" y="207.2" font-size="10.67" fill="#e2501e" text-anchor="start" >61</text>
<text x="254.0" y="224.4" font-size="10.67" fill="#e2501e" text-anchor="start" >50</text>
<polygon points="135.6,262.0 143.5,260.0 151.4,253.6 158.3,249.3 165.3,248.9 170.6,245.0 178.0,248.7 184.0,250.0 192.0,253.6 225.6,254.0 234.5,258.6 245.8,265.5 245.8,306.4 135.6,306.4" fill="#ffff00"/>
<clipPath id="l3"><polygon points="135.6,262.0 143.5,260.0 151.4,253.6 158.3,249.3 165.3,248.9 170.6,245.0 178.0,248.7 184.0,250.0 192.0,253.6 225.6,254.0 234.5,258.6 245.8,265.5 245.8,306.4 135.6,306.4"/></clipPath>
<rect x="165.3" y="240.0" width="4.9" height="70.0" fill="#ffd400" clip-path="url(#l3)"/>
<line x1="143.5" y1="229.3" x2="143.5" y2="306.4" stroke="#000" stroke-width="1" stroke-dasharray="2 2" shape-rendering="crispEdges"/>
<line x1="164.5" y1="229.3" x2="164.5" y2="306.4" stroke="#000" stroke-width="1" stroke-dasharray="2 2" shape-rendering="crispEdges"/>
<line x1="184.5" y1="229.3" x2="184.5" y2="306.4" stroke="#000" stroke-width="1" stroke-dasharray="2 2" shape-rendering="crispEdges"/>
<line x1="204.5" y1="229.3" x2="204.5" y2="306.4" stroke="#000" stroke-width="1" stroke-dasharray="2 2" shape-rendering="crispEdges"/>
<line x1="225.5" y1="229.3" x2="225.5" y2="306.4" stroke="#000" stroke-width="1" stroke-dasharray="2 2" shape-rendering="crispEdges"/>
<line x1="135.6" y1="231.5" x2="245.8" y2="231.5" stroke="#000" stroke-width="1" stroke-dasharray="2 2" shape-rendering="crispEdges"/>
<line x1="135.6" y1="254.5" x2="245.8" y2="254.5" stroke="#000" stroke-width="1" stroke-dasharray="2 2" shape-rendering="crispEdges"/>
<line x1="135.6" y1="278.5" x2="245.8" y2="278.5" stroke="#000" stroke-width="1" stroke-dasharray="2 2" shape-rendering="crispEdges"/>
<line x1="135.6" y1="301.5" x2="245.8" y2="301.5" stroke="#000" stroke-width="1" stroke-dasharray="2 2" shape-rendering="crispEdges"/>
<polyline points="135.6,262.0 143.5,260.0 151.4,253.6 158.3,249.3 165.3,248.9 170.6,245.0 178.0,248.7 184.0,250.0 192.0,253.6 225.6,254.0 234.5,258.6 245.8,265.5" fill="none" stroke="#101010" stroke-width="2.2" stroke-linejoin="round"/>
<line x1="135.1" y1="229.3" x2="246.3" y2="229.3" stroke="#555" stroke-width="1.4"/>
<line x1="135.6" y1="229.3" x2="135.6" y2="306.4" stroke="#000" stroke-width="1.2"/>
<line x1="245.8" y1="229.3" x2="245.8" y2="306.4" stroke="#000" stroke-width="1.2"/>
<line x1="135.1" y1="306.4" x2="246.3" y2="306.4" stroke="#000" stroke-width="1.2"/>
<text x="128.5" y="235.5" font-size="10.67" fill="#000" text-anchor="end" >1018</text>
<text x="251.3" y="235.5" font-size="10.67" fill="#000" text-anchor="start" >1018</text>
<text x="128.5" y="258.8" font-size="10.67" fill="#000" text-anchor="end" >1016</text>
<text x="251.3" y="258.8" font-size="10.67" fill="#000" text-anchor="start" >1016</text>
<text x="128.5" y="282.6" font-size="10.67" fill="#000" text-anchor="end" >1014</text>
<text x="251.3" y="282.6" font-size="10.67" fill="#000" text-anchor="start" >1014</text>
<text x="128.5" y="305.5" font-size="10.67" fill="#000" text-anchor="end" >1012</text>
<text x="251.3" y="305.5" font-size="10.67" fill="#000" text-anchor="start" >1012</text>
<clipPath id="l4"><polygon points="135.8,365.3 143.0,369.4 153.0,371.5 167.5,373.5 181.8,375.6 190.0,374.0 198.0,372.5 224.8,372.5 233.0,370.9 245.6,370.0 245.8,392.3 135.6,392.3"/></clipPath><g clip-path="url(#l4)">
<rect x="135.6" y="360.0" width="12.4" height="35.0" fill="#14c814"/>
<rect x="148.0" y="360.0" width="21.0" height="35.0" fill="#087c08"/>
<rect x="169.0" y="360.0" width="28.0" height="35.0" fill="#104a8c"/>
<rect x="197.0" y="360.0" width="14.0" height="35.0" fill="#087c08"/>
<rect x="211.0" y="360.0" width="14.0" height="35.0" fill="#104a8c"/>
<rect x="225.0" y="360.0" width="14.0" height="35.0" fill="#087c08"/>
<rect x="239.0" y="360.0" width="7.0" height="35.0" fill="#14c814"/>
</g>
<line x1="143.5" y1="315.2" x2="143.5" y2="392.3" stroke="#000" stroke-width="1" stroke-dasharray="2 2" shape-rendering="crispEdges"/>
<line x1="164.5" y1="315.2" x2="164.5" y2="392.3" stroke="#000" stroke-width="1" stroke-dasharray="2 2" shape-rendering="crispEdges"/>
<line x1="184.5" y1="315.2" x2="184.5" y2="392.3" stroke="#000" stroke-width="1" stroke-dasharray="2 2" shape-rendering="crispEdges"/>
<line x1="204.5" y1="315.2" x2="204.5" y2="392.3" stroke="#000" stroke-width="1" stroke-dasharray="2 2" shape-rendering="crispEdges"/>
<line x1="225.5" y1="315.2" x2="225.5" y2="392.3" stroke="#000" stroke-width="1" stroke-dasharray="2 2" shape-rendering="crispEdges"/>
<line x1="135.6" y1="334.5" x2="245.8" y2="334.5" stroke="#000" stroke-width="1" stroke-dasharray="2 2" shape-rendering="crispEdges"/>
<line x1="135.6" y1="354.5" x2="245.8" y2="354.5" stroke="#000" stroke-width="1" stroke-dasharray="2 2" shape-rendering="crispEdges"/>
<line x1="135.6" y1="373.5" x2="245.8" y2="373.5" stroke="#000" stroke-width="1" stroke-dasharray="2 2" shape-rendering="crispEdges"/>
<polyline points="135.8,365.3 143.0,369.4 153.0,371.5 167.5,373.5 181.8,375.6 190.0,374.0 198.0,372.5 224.8,372.5 233.0,370.9 245.6,370.0" fill="none" stroke="#1414a4" stroke-width="2.2" stroke-linejoin="round"/>
<line x1="142.0" y1="340.4" x2="149.0" y2="340.4" stroke="#f00000" stroke-width="1.2"/>
<line x1="148.0" y1="347.3" x2="155.0" y2="347.3" stroke="#f00000" stroke-width="1.2"/>
<line x1="155.0" y1="348.4" x2="161.4" y2="348.4" stroke="#f00000" stroke-width="1.2"/>
<line x1="162.4" y1="351.6" x2="169.5" y2="351.6" stroke="#f00000" stroke-width="1.2"/>
<line x1="169.5" y1="355.0" x2="176.7" y2="355.0" stroke="#f00000" stroke-width="1.2"/>
<line x1="176.7" y1="358.6" x2="184.3" y2="358.6" stroke="#f00000" stroke-width="1.2"/>
<line x1="184.3" y1="354.0" x2="190.0" y2="354.0" stroke="#f00000" stroke-width="1.2"/>
<line x1="190.0" y1="351.6" x2="198.0" y2="351.6" stroke="#f00000" stroke-width="1.2"/>
<line x1="198.0" y1="350.4" x2="211.5" y2="350.4" stroke="#f00000" stroke-width="1.2"/>
<line x1="211.5" y1="351.6" x2="225.0" y2="351.6" stroke="#f00000" stroke-width="1.2"/>
<line x1="225.0" y1="347.3" x2="233.0" y2="347.3" stroke="#f00000" stroke-width="1.2"/>
<line x1="233.0" y1="343.5" x2="240.0" y2="343.5" stroke="#f00000" stroke-width="1.2"/>
<line x1="240.0" y1="342.4" x2="245.6" y2="342.4" stroke="#f00000" stroke-width="1.2"/>
<line x1="135.1" y1="315.2" x2="246.3" y2="315.2" stroke="#555" stroke-width="1.4"/>
<line x1="135.6" y1="315.2" x2="135.6" y2="392.3" stroke="#000" stroke-width="1.2"/>
<line x1="245.8" y1="315.2" x2="245.8" y2="392.3" stroke="#000" stroke-width="1.2"/>
<line x1="135.1" y1="392.3" x2="246.3" y2="392.3" stroke="#000" stroke-width="1.2"/>
<text x="128.5" y="318.7" font-size="10.67" fill="#000" text-anchor="end" >20</text>
<text x="128.5" y="338.7" font-size="10.67" fill="#000" text-anchor="end" >15</text>
<text x="128.5" y="358.0" font-size="10.67" fill="#000" text-anchor="end" >10</text>
<text x="128.5" y="377.0" font-size="10.67" fill="#000" text-anchor="end" >5</text>
<text x="128.5" y="396.3" font-size="10.67" fill="#000" text-anchor="end" >0</text>
<text x="251.3" y="318.7" font-size="10.67" fill="#000" text-anchor="start" >72</text>
<text x="251.3" y="338.7" font-size="10.67" fill="#000" text-anchor="start" >54</text>
<text x="251.3" y="358.0" font-size="10.67" fill="#000" text-anchor="start" >36</text>
<text x="251.3" y="377.0" font-size="10.67" fill="#000" text-anchor="start" >18</text>
<text x="253.6" y="396.3" font-size="10.67" fill="#000" text-anchor="start" >0</text>
<line x1="143.5" y1="398.5" x2="143.5" y2="429.8" stroke="#000" stroke-width="1" stroke-dasharray="2 2" shape-rendering="crispEdges"/>
<line x1="164.5" y1="398.5" x2="164.5" y2="429.8" stroke="#000" stroke-width="1" stroke-dasharray="2 2" shape-rendering="crispEdges"/>
<line x1="184.5" y1="398.5" x2="184.5" y2="429.8" stroke="#000" stroke-width="1" stroke-dasharray="2 2" shape-rendering="crispEdges"/>
<line x1="204.5" y1="398.5" x2="204.5" y2="429.8" stroke="#000" stroke-width="1" stroke-dasharray="2 2" shape-rendering="crispEdges"/>
<line x1="225.5" y1="398.5" x2="225.5" y2="429.8" stroke="#000" stroke-width="1" stroke-dasharray="2 2" shape-rendering="crispEdges"/>
<clipPath id="l5"><rect x="135.6" y="398.5" width="118.20000000000002" height="31.30000000000001"/></clipPath><g clip-path="url(#l5)">
<line x1="131.8" y1="405.2" x2="137.9" y2="421.5" stroke="#0808b0" stroke-width="1.2"/>
<polygon points="139.1,424.5 133.5,420.1 140.2,417.5" fill="#0808b0"/>
<line x1="138.8" y1="405.2" x2="145.0" y2="421.5" stroke="#0808b0" stroke-width="1.2"/>
<polygon points="146.1,424.5 140.5,420.1 147.3,417.5" fill="#0808b0"/>
<line x1="145.9" y1="405.2" x2="152.1" y2="421.5" stroke="#0808b0" stroke-width="1.2"/>
<polygon points="153.2,424.5 147.6,420.1 154.4,417.5" fill="#0808b0"/>
<line x1="152.9" y1="405.2" x2="159.1" y2="421.5" stroke="#0808b0" stroke-width="1.2"/>
<polygon points="160.2,424.5 154.6,420.1 161.4,417.5" fill="#0808b0"/>
<line x1="160.0" y1="405.2" x2="166.2" y2="421.5" stroke="#0808b0" stroke-width="1.2"/>
<polygon points="167.3,424.5 161.7,420.1 168.5,417.5" fill="#0808b0"/>
<line x1="167.0" y1="405.2" x2="173.2" y2="421.5" stroke="#0808b0" stroke-width="1.2"/>
<polygon points="174.3,424.5 168.7,420.1 175.5,417.5" fill="#0808b0"/>
<line x1="174.1" y1="405.2" x2="180.2" y2="421.5" stroke="#0808b0" stroke-width="1.2"/>
<polygon points="181.4,424.5 175.8,420.1 182.6,417.5" fill="#0808b0"/>
<line x1="181.1" y1="405.2" x2="187.3" y2="421.5" stroke="#0808b0" stroke-width="1.2"/>
<polygon points="188.4,424.5 182.8,420.1 189.6,417.5" fill="#0808b0"/>
<line x1="188.2" y1="405.2" x2="194.3" y2="421.5" stroke="#0808b0" stroke-width="1.2"/>
<polygon points="195.5,424.5 189.9,420.1 196.7,417.5" fill="#0808b0"/>
<line x1="195.2" y1="405.2" x2="201.4" y2="421.5" stroke="#0808b0" stroke-width="1.2"/>
<polygon points="202.5,424.5 196.9,420.1 203.7,417.5" fill="#0808b0"/>
<line x1="202.2" y1="405.2" x2="208.4" y2="421.5" stroke="#0808b0" stroke-width="1.2"/>
<polygon points="209.6,424.5 204.0,420.1 210.8,417.5" fill="#0808b0"/>
<line x1="209.3" y1="405.2" x2="215.5" y2="421.5" stroke="#0808b0" stroke-width="1.2"/>
<polygon points="216.6,424.5 211.0,420.1 217.8,417.5" fill="#0808b0"/>
<line x1="216.4" y1="405.2" x2="222.6" y2="421.5" stroke="#0808b0" stroke-width="1.2"/>
<polygon points="223.7,424.5 218.1,420.1 224.9,417.5" fill="#0808b0"/>
<line x1="223.4" y1="405.2" x2="229.6" y2="421.5" stroke="#0808b0" stroke-width="1.2"/>
<polygon points="230.7,424.5 225.1,420.1 231.9,417.5" fill="#0808b0"/>
<line x1="230.4" y1="405.2" x2="236.6" y2="421.5" stroke="#0808b0" stroke-width="1.2"/>
<polygon points="237.8,424.5 232.2,420.1 238.9,417.5" fill="#0808b0"/>
<line x1="237.5" y1="405.2" x2="243.7" y2="421.5" stroke="#0808b0" stroke-width="1.2"/>
<polygon points="244.8,424.5 239.2,420.1 246.0,417.5" fill="#0808b0"/>
<line x1="244.6" y1="405.2" x2="250.8" y2="421.5" stroke="#0808b0" stroke-width="1.2"/>
<polygon points="251.9,424.5 246.3,420.1 253.1,417.5" fill="#0808b0"/>
</g>
<line x1="135.1" y1="398.5" x2="246.3" y2="398.5" stroke="#555" stroke-width="1.4"/>
<line x1="135.6" y1="398.5" x2="135.6" y2="429.8" stroke="#000" stroke-width="1.2"/>
<line x1="245.8" y1="398.5" x2="245.8" y2="429.8" stroke="#000" stroke-width="1.2"/>
<line x1="135.1" y1="429.8" x2="246.3" y2="429.8" stroke="#000" stroke-width="1.2"/>
<rect x="135.6" y="436.3" width="110.2" height="77.7" fill="#89d7fd"/>
<rect x="170.0" y="436.3" width="61.5" height="77.7" fill="rgba(20,20,90,0.09)"/>
<clipPath id="l6"><rect x="135.6" y="436.3" width="110.20000000000002" height="77.69999999999999"/></clipPath><g clip-path="url(#l6)">
<circle cx="136.6" cy="505.0" r="2.9" fill="#ffffff"/>
<circle cx="144.0" cy="505.0" r="2.9" fill="#ffffff"/>
<circle cx="150.4" cy="500.0" r="2.9" fill="#ffffff"/>
<circle cx="164.3" cy="499.0" r="2.9" fill="#ffffff"/>
<circle cx="170.6" cy="492.2" r="2.9" fill="#ffffff"/>
<circle cx="177.5" cy="492.2" r="2.9" fill="#ffffff"/>
<circle cx="191.4" cy="500.0" r="2.9" fill="#ffffff"/>
<circle cx="184.5" cy="509.6" r="2.9" fill="#ffffff"/>
<circle cx="198.3" cy="492.2" r="2.9" fill="#ffffff"/>
<circle cx="204.8" cy="492.2" r="2.9" fill="#ffffff"/>
<circle cx="211.7" cy="492.2" r="2.9" fill="#ffffff"/>
<circle cx="218.7" cy="509.6" r="2.9" fill="#ffffff"/>
<circle cx="225.6" cy="509.6" r="2.9" fill="#ffffff"/>
<circle cx="232.5" cy="509.6" r="2.9" fill="#ffffff"/>
<circle cx="239.4" cy="509.6" r="2.9" fill="#ffffff"/>
<circle cx="218.7" cy="500.0" r="2.9" fill="#dcd4cc"/>
<circle cx="225.6" cy="500.0" r="2.9" fill="#dcd4cc"/>
<circle cx="239.4" cy="500.0" r="2.9" fill="#dcd4cc"/>
<circle cx="232.5" cy="500.0" r="2.9" fill="#c4c4c4"/>
<circle cx="170.6" cy="489.3" r="2.9" fill="#dcd4cc"/>
<circle cx="198.3" cy="489.3" r="2.9" fill="#dcd4cc"/>
<circle cx="211.7" cy="489.3" r="2.9" fill="#dcd4cc"/>
<circle cx="177.5" cy="489.3" r="2.9" fill="#8c8c8c"/>
<circle cx="198.3" cy="485.3" r="2.9" fill="#8c8c8c"/>
<circle cx="211.7" cy="485.5" r="2.9" fill="#8c8c8c"/>
<circle cx="218.7" cy="489.3" r="2.9" fill="#8c8c8c"/>
<circle cx="239.4" cy="494.2" r="2.9" fill="#8c8c8c"/>
<circle cx="144.0" cy="500.0" r="2.9" fill="#8c8c8c"/>
<circle cx="184.5" cy="504.0" r="2.9" fill="#8c8c8c"/>
<circle cx="144.0" cy="481.4" r="2.9" fill="#505050"/>
<circle cx="150.4" cy="492.2" r="2.9" fill="#505050"/>
<circle cx="157.4" cy="492.2" r="2.9" fill="#505050"/>
<circle cx="164.3" cy="492.2" r="2.9" fill="#505050"/>
<circle cx="191.4" cy="489.3" r="2.9" fill="#505050"/>
<circle cx="211.7" cy="482.0" r="2.9" fill="#505050"/>
<circle cx="225.6" cy="492.2" r="2.9" fill="#505050"/>
<circle cx="232.5" cy="494.2" r="2.9" fill="#505050"/>
<circle cx="184.5" cy="500.0" r="2.9" fill="#505050"/>
<circle cx="191.4" cy="456.3" r="2.9" fill="#0c0c0c"/>
<circle cx="198.3" cy="464.2" r="2.9" fill="#0c0c0c"/>
<circle cx="204.8" cy="468.0" r="2.9" fill="#0c0c0c"/>
<circle cx="211.7" cy="470.5" r="2.9" fill="#0c0c0c"/>
<circle cx="218.7" cy="481.4" r="2.9" fill="#0c0c0c"/>
<circle cx="225.6" cy="485.0" r="2.9" fill="#0c0c0c"/>
<circle cx="232.5" cy="489.3" r="2.9" fill="#0c0c0c"/>
<circle cx="239.4" cy="481.4" r="2.9" fill="#0c0c0c"/>
<circle cx="245.4" cy="476.8" r="2.9" fill="#0c0c0c"/>
<circle cx="184.5" cy="489.3" r="2.9" fill="#0c0c0c"/>
<circle cx="136.6" cy="475.4" r="2.9" fill="#a4242c"/>
<circle cx="144.0" cy="475.4" r="2.9" fill="#a4242c"/>
<circle cx="150.4" cy="458.6" r="2.9" fill="#a4242c"/>
<circle cx="157.4" cy="458.6" r="2.9" fill="#a4242c"/>
<circle cx="164.3" cy="460.2" r="2.9" fill="#a4242c"/>
<circle cx="170.6" cy="450.7" r="2.9" fill="#a4242c"/>
<circle cx="177.5" cy="449.3" r="2.9" fill="#a4242c"/>
<circle cx="184.5" cy="449.3" r="2.9" fill="#a4242c"/>
<circle cx="191.4" cy="449.3" r="2.9" fill="#a4242c"/>
<circle cx="198.3" cy="451.0" r="2.9" fill="#a4242c"/>
<circle cx="204.8" cy="449.3" r="2.9" fill="#a4242c"/>
<circle cx="211.7" cy="449.3" r="2.9" fill="#a4242c"/>
<circle cx="218.7" cy="449.3" r="2.9" fill="#a4242c"/>
<circle cx="225.6" cy="449.3" r="2.9" fill="#a4242c"/>
<circle cx="232.5" cy="449.3" r="2.9" fill="#a4242c"/>
<circle cx="239.4" cy="449.3" r="2.9" fill="#a4242c"/>
<circle cx="245.0" cy="449.3" r="2.9" fill="#a4242c"/>
<circle cx="164.3" cy="499.0" r="1.0" fill="#89d7fd"/>
<circle cx="184.5" cy="509.6" r="1.0" fill="#89d7fd"/>
<circle cx="225.6" cy="509.6" r="1.0" fill="#89d7fd"/>
</g>
<line x1="143.5" y1="436.3" x2="143.5" y2="514.0" stroke="#000" stroke-width="1" stroke-dasharray="2 2" shape-rendering="crispEdges"/>
<line x1="164.5" y1="436.3" x2="164.5" y2="514.0" stroke="#000" stroke-width="1" stroke-dasharray="2 2" shape-rendering="crispEdges"/>
<line x1="184.5" y1="436.3" x2="184.5" y2="514.0" stroke="#000" stroke-width="1" stroke-dasharray="2 2" shape-rendering="crispEdges"/>
<line x1="204.5" y1="436.3" x2="204.5" y2="514.0" stroke="#000" stroke-width="1" stroke-dasharray="2 2" shape-rendering="crispEdges"/>
<line x1="225.5" y1="436.3" x2="225.5" y2="514.0" stroke="#000" stroke-width="1" stroke-dasharray="2 2" shape-rendering="crispEdges"/>
<line x1="135.6" y1="456.5" x2="245.8" y2="456.5" stroke="#000" stroke-width="1" stroke-dasharray="2 2" shape-rendering="crispEdges"/>
<line x1="135.6" y1="475.5" x2="245.8" y2="475.5" stroke="#000" stroke-width="1" stroke-dasharray="2 2" shape-rendering="crispEdges"/>
<line x1="135.6" y1="494.5" x2="245.8" y2="494.5" stroke="#000" stroke-width="1" stroke-dasharray="2 2" shape-rendering="crispEdges"/>
<polyline points="135.6,471.0 142.5,470.5 151.4,465.5 159.3,464.0 179.0,464.0 187.0,467.5 197.0,471.0 210.8,472.0 218.7,474.4 234.5,473.5 245.8,469.5" fill="none" stroke="#ff9a08" stroke-width="2.1" stroke-linejoin="round"/>
<line x1="135.1" y1="436.3" x2="246.3" y2="436.3" stroke="#555" stroke-width="1.4"/>
<line x1="135.6" y1="436.3" x2="135.6" y2="514.0" stroke="#000" stroke-width="1.2"/>
<line x1="245.8" y1="436.3" x2="245.8" y2="514.0" stroke="#000" stroke-width="1.2"/>
<line x1="135.1" y1="514.0" x2="246.3" y2="514.0" stroke="#000" stroke-width="1.2"/>
<text x="128.5" y="439.8" font-size="10.67" fill="#000" text-anchor="end" >15.0</text>
<text x="128.5" y="460.3" font-size="10.67" fill="#000" text-anchor="end" >7.0</text>
<text x="128.5" y="479.4" font-size="10.67" fill="#000" text-anchor="end" >2.0</text>
<text x="128.5" y="498.8" font-size="10.67" fill="#000" text-anchor="end" >0.5</text>
<text x="128.5" y="518.0" font-size="10.67" fill="#000" text-anchor="end" >0.0</text>
<text x="251.3" y="439.6" font-size="10.67" fill="#ff8c00" text-anchor="start" >100</text>
<text x="251.3" y="460.3" font-size="10.67" fill="#ff8c00" text-anchor="start" >20</text>
<text x="251.3" y="479.4" font-size="10.67" fill="#ff8c00" text-anchor="start" >5</text>
<text x="251.3" y="498.8" font-size="10.67" fill="#ff8c00" text-anchor="start" >1</text>
<text x="251.3" y="518.0" font-size="10.67" fill="#ff8c00" text-anchor="start" >0</text>
<rect x="135.6" y="523.4" width="110.2" height="78.0" fill="#89d7fd"/>
<rect x="170.0" y="523.4" width="61.5" height="78.0" fill="rgba(20,20,90,0.09)"/>
<clipPath id="l7"><rect x="135.6" y="523.4" width="110.20000000000002" height="78.0"/></clipPath><g clip-path="url(#l7)">
<polygon points="191.6,572.3 193.9,549.6 197.3,532.5 203.8,531.4 208.4,535.3 211.7,527.8 218.7,524.6 246.4,524.6 246.4,601.8 191.6,601.8" fill="#929292"/>
<polygon points="166.3,589.1 170.2,577.2 176.1,567.4 183.1,563.4 188.0,557.5 193.0,547.6 196.5,544.0 194.1,549.6 192.2,571.7 184.7,569.3 178.1,593.5" fill="#ffffff"/>
<polygon points="135.2,577.2 143.5,562.4 151.0,577.2 159.3,585.2 165.3,583.6 166.5,589.1 178.1,593.5 184.7,568.9 191.4,569.3 194.9,579.2 203.8,597.0 211.7,579.2 216.7,549.6 222.6,537.3 226.6,534.9 231.5,537.7 236.5,545.6 241.4,559.4 246.4,575.3 246.4,601.8 135.2,601.8" fill="#585858"/>
<polygon points="135.2,589.1 142.5,594.7 150.4,590.1 164.3,600.6 164.3,601.8 135.2,601.8" fill="#363636"/>
<polyline points="196.5,544.4 204.8,543.6 210.8,528.2 216.7,525.0 234.5,525.0 242.4,539.7 246.4,544.0" fill="none" stroke="#ffffff" stroke-width="0.9"/>
<polyline points="135.2,589.1 142.5,596.0 151.4,599.4 159.3,600.6" fill="none" stroke="#9a9a9a" stroke-width="0.6"/>
<polyline points="185.0,601.8 190.0,584.2 193.0,575.3" fill="none" stroke="#a8a8a8" stroke-width="0.6"/>
<rect x="217.1" y="590.0" width="3.0" height="12.0" fill="#ffb000"/>
<rect x="224.0" y="590.0" width="2.6" height="12.0" fill="#ffb000"/>
<rect x="231.1" y="590.0" width="3.0" height="12.0" fill="#ffb000"/>
<rect x="238.1" y="590.0" width="2.8" height="12.0" fill="#ffb000"/>
</g>
<line x1="143.5" y1="523.4" x2="143.5" y2="601.4" stroke="#000" stroke-width="1" stroke-dasharray="2 2" shape-rendering="crispEdges"/>
<line x1="164.5" y1="523.4" x2="164.5" y2="601.4" stroke="#000" stroke-width="1" stroke-dasharray="2 2" shape-rendering="crispEdges"/>
<line x1="184.5" y1="523.4" x2="184.5" y2="601.4" stroke="#000" stroke-width="1" stroke-dasharray="2 2" shape-rendering="crispEdges"/>
<line x1="204.5" y1="523.4" x2="204.5" y2="601.4" stroke="#000" stroke-width="1" stroke-dasharray="2 2" shape-rendering="crispEdges"/>
<line x1="225.5" y1="523.4" x2="225.5" y2="601.4" stroke="#000" stroke-width="1" stroke-dasharray="2 2" shape-rendering="crispEdges"/>
<line x1="135.6" y1="543.5" x2="245.8" y2="543.5" stroke="#000" stroke-width="1" stroke-dasharray="2 2" shape-rendering="crispEdges"/>
<line x1="135.6" y1="562.5" x2="245.8" y2="562.5" stroke="#000" stroke-width="1" stroke-dasharray="2 2" shape-rendering="crispEdges"/>
<line x1="135.6" y1="582.5" x2="245.8" y2="582.5" stroke="#000" stroke-width="1" stroke-dasharray="2 2" shape-rendering="crispEdges"/>
<line x1="135.1" y1="523.4" x2="246.3" y2="523.4" stroke="#555" stroke-width="1.4"/>
<line x1="135.6" y1="523.4" x2="135.6" y2="601.4" stroke="#000" stroke-width="1.2"/>
<line x1="245.8" y1="523.4" x2="245.8" y2="601.4" stroke="#000" stroke-width="1.2"/>
<line x1="135.1" y1="601.4" x2="246.3" y2="601.4" stroke="#000" stroke-width="1.2"/>
<text x="128.5" y="526.5" font-size="10.67" fill="#000" text-anchor="end" >8</text>
<text x="128.5" y="547.2" font-size="10.67" fill="#000" text-anchor="end" >6</text>
<text x="128.5" y="566.4" font-size="10.67" fill="#000" text-anchor="end" >4</text>
<text x="128.5" y="586.2" font-size="10.67" fill="#000" text-anchor="end" >2</text>
<text x="128.5" y="605.4" font-size="10.67" fill="#000" text-anchor="end" >0</text>
<text x="251.3" y="526.0" font-size="10.67" fill="#ff8c00" text-anchor="start" >1</text>
<text x="251.3" y="547.2" font-size="10.67" fill="#ff8c00" text-anchor="start" >0.75</text>
<text x="251.3" y="566.4" font-size="10.67" fill="#ff8c00" text-anchor="start" >0.5</text>
<text x="251.3" y="586.2" font-size="10.67" fill="#ff8c00" text-anchor="start" >0.25</text>
<text x="251.3" y="605.4" font-size="10.67" fill="#ff8c00" text-anchor="start" >0</text>
<text x="164.3" y="614.5" font-size="10.67" fill="#000" text-anchor="middle" >18</text>
<text x="203.8" y="614.5" font-size="10.67" fill="#000" text-anchor="middle" >00</text>
<text x="244.0" y="614.5" font-size="10.67" fill="#000" text-anchor="middle" >06</text>
<rect x="5.0" y="0.0" width="1.2" height="1.5" fill="#000"/>
<text x="5.5" y="18.1" font-size="10.67" fill="#000" text-anchor="start"  textLength="59" lengthAdjust="spacingAndGlyphs">Czas lokalny</text>
<polyline points="68.0,16.2 133.0,16.2 156.6,45.7" fill="none" stroke="#000" stroke-width="1.0"/>
<text x="5.5" y="30.1" font-size="10.67" fill="#000" text-anchor="start"  textLength="54.5" lengthAdjust="spacingAndGlyphs">(CET/CEST)</text>
<text x="5.9" y="45.7" font-size="10.67" fill="#a81c1c" text-anchor="start"  textLength="93.6" lengthAdjust="spacingAndGlyphs">Temperatura gruntu</text>
<polyline points="102.4,43.7 119.2,43.7 147.8,79.8" fill="none" stroke="#a81c1c" stroke-width="1.0"/>
<text x="27.6" y="55.8" font-size="10.67" fill="#a81c1c" text-anchor="start"  textLength="38.4" lengthAdjust="spacingAndGlyphs">max/min</text>
<text x="5.5" y="67.6" font-size="10.67" fill="#000" text-anchor="start"  textLength="61.5" lengthAdjust="spacingAndGlyphs">Temperatura:</text>
<text x="12.8" y="79.8" font-size="10.67" fill="#f00000" text-anchor="start"  textLength="76.8" lengthAdjust="spacingAndGlyphs">punkt środkowy</text>
<polyline points="91.6,76.2 115.2,76.2" fill="none" stroke="#f00000" stroke-width="1.0"/>
<polyline points="129.3,76.2 131.5,76.6 157.6,103.4" fill="none" stroke="#f00000" stroke-width="1.0"/>
<text x="27.6" y="89.6" font-size="10.67" fill="#ffd2c4" text-anchor="start"  textLength="38.4" lengthAdjust="spacingAndGlyphs">max/min</text>
<text x="9.5" y="101.5" font-size="10.67" fill="#0000e8" text-anchor="start"  textLength="57.5" lengthAdjust="spacingAndGlyphs">odczuwana</text>
<polyline points="70.3,98.9 131.0,98.9 136.0,101.5" fill="none" stroke="#0000e8" stroke-width="1.0"/>
<text x="27.6" y="111.3" font-size="10.67" fill="#aadcfc" text-anchor="start"  textLength="38.4" lengthAdjust="spacingAndGlyphs">max/min</text>
<text x="6.5" y="123.7" font-size="10.67" fill="#6a50d0" text-anchor="start"  textLength="86" lengthAdjust="spacingAndGlyphs">Temp. punktu rosy</text>
<polyline points="95.2,120.2 131.0,120.2 140.9,113.3" fill="none" stroke="#6a50d0" stroke-width="1.0"/>
<text x="5.9" y="140.8" font-size="10.67" fill="#f00000" text-anchor="start"  textLength="94.6" lengthAdjust="spacingAndGlyphs">Opad powyżej skali</text>
<polyline points="103.0,137.2 140.9,137.2 146.4,145.7" fill="none" stroke="#f00000" stroke-width="1.0"/>
<text x="6.5" y="154.2" font-size="10.67" fill="#e2501e" text-anchor="start"  textLength="96.5" lengthAdjust="spacingAndGlyphs">Wilgotność względna</text>
<polyline points="107.4,151.0 112.3,151.0" fill="none" stroke="#e2501e" stroke-width="1.0"/>
<polyline points="129.6,151.0 146.8,160.5" fill="none" stroke="#e2501e" stroke-width="1.0"/>
<text x="6.0" y="168.7" font-size="10.67" fill="#000" text-anchor="start"  textLength="85" lengthAdjust="spacingAndGlyphs">Wystąpienie burzy</text>
<polyline points="94.6,166.4 112.3,166.4" fill="none" stroke="#000" stroke-width="1.0"/>
<polyline points="129.0,166.4 131.6,166.4 138.9,172.3" fill="none" stroke="#000" stroke-width="1.0"/>
<text x="6.0" y="182.1" font-size="10.67" fill="#10b010" text-anchor="start"  textLength="63" lengthAdjust="spacingAndGlyphs">Deszcz: max</text>
<polyline points="71.0,179.2 139.0,179.2" fill="none" stroke="#10b010" stroke-width="1.0"/>
<text x="48.9" y="193.0" font-size="10.67" fill="#10b010" text-anchor="start"  textLength="29.7" lengthAdjust="spacingAndGlyphs">średni</text>
<polyline points="80.4,190.0 136.0,190.0" fill="none" stroke="#10b010" stroke-width="1.0"/>
<text x="6.0" y="204.2" font-size="10.67" fill="#1030d0" text-anchor="start"  textLength="29" lengthAdjust="spacingAndGlyphs">Śnieg:</text>
<text x="48.9" y="204.2" font-size="10.67" fill="#1030d0" text-anchor="start"  textLength="19.3" lengthAdjust="spacingAndGlyphs">max</text>
<polyline points="70.3,202.2 112.3,202.2" fill="none" stroke="#1030d0" stroke-width="1.0"/>
<polyline points="129.0,202.2 132.0,200.8 160.6,171.3" fill="none" stroke="#1030d0" stroke-width="1.0"/>
<text x="48.9" y="215.0" font-size="10.67" fill="#1030d0" text-anchor="start"  textLength="29.7" lengthAdjust="spacingAndGlyphs">średni</text>
<polyline points="80.8,213.0 131.0,213.0 157.6,185.0" fill="none" stroke="#1030d0" stroke-width="1.0"/>
<text x="6.0" y="227.4" font-size="10.67" fill="#f00000" text-anchor="start"  textLength="88" lengthAdjust="spacingAndGlyphs">Wystąpienie opadu</text>
<polyline points="97.5,224.9 144.8,224.9 147.8,220.0" fill="none" stroke="#f00000" stroke-width="1.0"/>
<text x="6.0" y="239.9" font-size="10.67" fill="#f00000" text-anchor="start"  textLength="71" lengthAdjust="spacingAndGlyphs">konwekcyjnego</text>
<text x="5.0" y="266.7" font-size="10.67" fill="#000" text-anchor="start"  textLength="42" lengthAdjust="spacingAndGlyphs">Ciśnienie</text>
<polyline points="51.2,264.4 131.0,264.4 136.0,262.2" fill="none" stroke="#000" stroke-width="1.0"/>
<text x="5.0" y="279.6" font-size="10.67" fill="#000" text-anchor="start"  textLength="66" lengthAdjust="spacingAndGlyphs">zredukowane</text>
<text x="5.0" y="292.4" font-size="10.67" fill="#000" text-anchor="start"  textLength="87" lengthAdjust="spacingAndGlyphs">do poziomu morza</text>
<text x="5.0" y="321.5" font-size="10.67" fill="#000" text-anchor="start"  textLength="38.5" lengthAdjust="spacingAndGlyphs">Wiatr na</text>
<text x="46.5" y="321.5" font-size="11.5" font-family="Liberation Serif, serif" textLength="15.5" lengthAdjust="spacingAndGlyphs">10m</text>
<text x="62.5" y="321.5" font-size="10.67" fill="#000" text-anchor="start" >:</text>
<text x="9.9" y="337.7" font-size="10.67" fill="#f00000" text-anchor="start"  textLength="100" lengthAdjust="spacingAndGlyphs">poryw powyżej skali</text>
<polyline points="112.3,334.7 117.6,334.7" fill="none" stroke="#f00000" stroke-width="1.0"/>
<polyline points="130.0,334.7 131.5,333.5 137.9,318.0" fill="none" stroke="#f00000" stroke-width="1.0"/>
<circle cx="138.6" cy="317.3" r="1.4" fill="#f00000"/>
<text x="9.9" y="351.5" font-size="10.67" fill="#f00000" text-anchor="start"  textLength="94" lengthAdjust="spacingAndGlyphs">max porywy wiatru</text>
<polyline points="107.4,347.9 132.0,347.9 142.8,340.6 148.7,340.6" fill="none" stroke="#f00000" stroke-width="1.0"/>
<text x="9.9" y="371.2" font-size="10.67" fill="#1414a4" text-anchor="start"  textLength="78" lengthAdjust="spacingAndGlyphs">prędkość wiatru</text>
<polyline points="92.6,367.6 136.0,367.6" fill="none" stroke="#1414a4" stroke-width="1.0"/>
<text x="9.9" y="384.5" font-size="10.67" fill="#1414a4" text-anchor="start"  textLength="88" lengthAdjust="spacingAndGlyphs">w środku obszaru</text>
<text x="9.9" y="413.2" font-size="10.67" fill="#1414a4" text-anchor="start"  textLength="73.5" lengthAdjust="spacingAndGlyphs">kierunek wiatru</text>
<polyline points="86.0,410.5 141.8,410.5" fill="none" stroke="#1414a4" stroke-width="1.0"/>
<text x="6.0" y="432.0" font-size="10.67" fill="#a81c1c" text-anchor="start"  textLength="90.5" lengthAdjust="spacingAndGlyphs">Wierzchołek chmur</text>
<polyline points="100.5,430.2 130.0,430.2 184.5,449.0" fill="none" stroke="#a81c1c" stroke-width="1.0"/>
<text x="5.5" y="447.5" font-size="10.67" fill="#000" text-anchor="start"  textLength="85.5" lengthAdjust="spacingAndGlyphs">Podstawa chmur*</text>
<text x="5.5" y="458.0" font-size="10.67" fill="#000" text-anchor="start"  textLength="47.5" lengthAdjust="spacingAndGlyphs">o pokryciu</text>
<text x="10.0" y="471.5" font-size="10.67" fill="#000" text-anchor="start"  textLength="44" lengthAdjust="spacingAndGlyphs">&gt; 7.9 okt.</text>
<polyline points="57.0,468.2 131.0,468.2 191.0,456.5" fill="none" stroke="#000" stroke-width="1.0"/>
<text x="10.0" y="482.4" font-size="10.67" fill="#505050" text-anchor="start"  textLength="44" lengthAdjust="spacingAndGlyphs">&gt; 6.5 okt.</text>
<polyline points="57.0,480.4 142.8,480.4" fill="none" stroke="#505050" stroke-width="1.0"/>
<text x="10.0" y="493.2" font-size="10.67" fill="#9a9a9a" text-anchor="start"  textLength="44" lengthAdjust="spacingAndGlyphs">&gt; 4.5 okt.</text>
<polyline points="57.0,490.2 132.0,490.2 142.8,499.7" fill="none" stroke="#9a9a9a" stroke-width="1.0"/>
<text x="10.0" y="503.3" font-size="10.67" fill="#d2d2d2" text-anchor="start"  textLength="44" lengthAdjust="spacingAndGlyphs">&gt; 2.5 okt.</text>
<polyline points="57.0,500.0 130.0,500.0 138.0,504.0" fill="none" stroke="#d2d2d2" stroke-width="1.0"/>
<rect x="10.8" y="504.9" width="43.4" height="11.4" fill="#89d7fd"/>
<text x="10.8" y="514.7" font-size="10.67" fill="#fff" text-anchor="start"  textLength="43" lengthAdjust="spacingAndGlyphs">&gt; 0.1 okt.</text>
<polyline points="57.0,509.6 136.0,509.6" fill="none" stroke="#89d7fd" stroke-width="1.0"/>
<polyline points="57.0,511.6 136.0,511.6" fill="none" stroke="#89d7fd" stroke-width="1.0"/>
<text x="6.0" y="528.9" font-size="10.67" fill="#ff7f0e" text-anchor="start"  textLength="57.5" lengthAdjust="spacingAndGlyphs">Widzialność</text>
<polyline points="67.0,526.5 129.0,526.5 162.5,464.5" fill="none" stroke="#ff7f0e" stroke-width="1.0"/>
<text x="5.5" y="546.2" font-size="10.67" fill="#000" text-anchor="start"  textLength="38.5" lengthAdjust="spacingAndGlyphs">Chmury:</text>
<rect x="9.9" y="551.1" width="41.3" height="11.5" fill="#89d7fd"/>
<text x="10.8" y="560.0" font-size="10.67" fill="#fff" text-anchor="start"  textLength="39.5" lengthAdjust="spacingAndGlyphs">wysokie</text>
<polyline points="54.2,556.7 185.0,556.7" fill="none" stroke="#89d7fd" stroke-width="1.0"/>
<polyline points="54.2,558.7 185.0,558.7" fill="none" stroke="#89d7fd" stroke-width="1.0"/>
<line x1="136.0" y1="557.7" x2="185.0" y2="557.7" stroke="#fff" stroke-width="1"/>
<text x="9.9" y="571.8" font-size="10.67" fill="#b4b4b4" text-anchor="start"  textLength="35" lengthAdjust="spacingAndGlyphs">średnie</text>
<polyline points="49.2,570.8 192.0,570.8" fill="none" stroke="#909090" stroke-width="1.0"/>
<text x="9.9" y="584.0" font-size="10.67" fill="#404040" text-anchor="start"  textLength="26" lengthAdjust="spacingAndGlyphs">niskie</text>
<polyline points="40.4,581.7 121.0,581.7" fill="none" stroke="#404040" stroke-width="1.0"/>
<polyline points="130.0,581.7 136.0,581.7" fill="none" stroke="#404040" stroke-width="1.0"/>
<text x="9.9" y="595.5" font-size="10.67" fill="#000" text-anchor="start"  textLength="61" lengthAdjust="spacingAndGlyphs">bardzo niskie</text>
<polyline points="74.5,593.9 142.5,594.5" fill="none" stroke="#202020" stroke-width="1.0"/>
<text x="5.4" y="608.4" font-size="10.67" fill="#ffa800" text-anchor="start"  textLength="20.8" lengthAdjust="spacingAndGlyphs">Mgła</text>
<polyline points="30.5,605.0 217.7,605.0 218.5,601.5" fill="none" stroke="#ffa800" stroke-width="1.0"/>
<text x="5.2" y="625.7" font-size="10.4" fill="#000" text-anchor="start"  textLength="132" lengthAdjust="spacingAndGlyphs">Czas uniwersalny (UTC)</text>
<polyline points="139.5,623.4 148.7,623.4 156.6,611.2" fill="none" stroke="#000" stroke-width="1.0"/>
<text x="5.2" y="650.8" font-size="10" fill="#000" text-anchor="start" font-weight="bold" textLength="103" lengthAdjust="spacingAndGlyphs">* powyżej poziomu morza</text>
</svg></body></html>
